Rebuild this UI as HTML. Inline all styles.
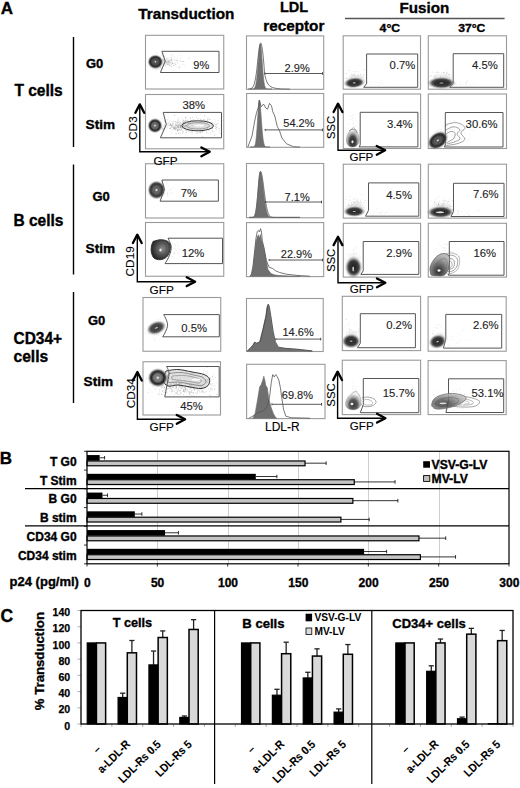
<!DOCTYPE html>
<html><head><meta charset="utf-8"><style>
html,body{margin:0;padding:0;background:#fff;}
svg{display:block;}
text{font-family:"Liberation Sans",sans-serif;}
</style></head><body>
<svg width="520" height="788" viewBox="0 0 520 788">
<rect x="0" y="0" width="520" height="788" fill="#fff"/>
<text x="0.8" y="13.9" font-size="17" font-weight="bold" text-anchor="start" fill="#000" stroke="#000" stroke-width="0.35" >A</text>
<text x="138.3" y="18.8" font-size="15.3" font-weight="bold" text-anchor="start" fill="#000" stroke="#000" stroke-width="0.35" >Transduction</text>
<text x="280" y="11.5" font-size="14.5" font-weight="bold" text-anchor="start" fill="#000" stroke="#000" stroke-width="0.35" >LDL</text>
<text x="263.2" y="31.1" font-size="15.3" font-weight="bold" text-anchor="start" fill="#000" stroke="#000" stroke-width="0.35" >receptor</text>
<text x="399.5" y="13.2" font-size="15.2" font-weight="bold" text-anchor="start" fill="#000" stroke="#000" stroke-width="0.35" >Fusion</text>
<line x1="345" y1="18.5" x2="504.6" y2="18.5" stroke="#555" stroke-width="1.5" />
<text x="379.6" y="31.7" font-size="11" font-weight="bold" text-anchor="start" fill="#000" stroke="#000" stroke-width="0.35" textLength="20.5" lengthAdjust="spacingAndGlyphs">4°C</text>
<text x="458.2" y="31.7" font-size="11" font-weight="bold" text-anchor="start" fill="#000" stroke="#000" stroke-width="0.35" textLength="27.2" lengthAdjust="spacingAndGlyphs">37°C</text>
<line x1="73.5" y1="37" x2="73.5" y2="147" stroke="#000" stroke-width="1.4" />
<line x1="73.5" y1="164.5" x2="73.5" y2="274.5" stroke="#000" stroke-width="1.4" />
<line x1="73.5" y1="292" x2="73.5" y2="403" stroke="#000" stroke-width="1.4" />
<text x="14.4" y="95.9" font-size="15.6" font-weight="bold" text-anchor="start" fill="#000" stroke="#000" stroke-width="0.35" textLength="48.3" lengthAdjust="spacingAndGlyphs">T cells</text>
<text x="86" y="68" font-size="13" font-weight="bold" text-anchor="start" fill="#000" stroke="#000" stroke-width="0.35" >G0</text>
<text x="85.6" y="129.2" font-size="13.6" font-weight="bold" text-anchor="start" fill="#000" stroke="#000" stroke-width="0.35" >Stim</text>
<text x="13.4" y="226.4" font-size="15.6" font-weight="bold" text-anchor="start" fill="#000" stroke="#000" stroke-width="0.35" textLength="50" lengthAdjust="spacingAndGlyphs">B cells</text>
<text x="92.5" y="200.75" font-size="13" font-weight="bold" text-anchor="start" fill="#000" stroke="#000" stroke-width="0.35" >G0</text>
<text x="85.6" y="253.2" font-size="13.6" font-weight="bold" text-anchor="start" fill="#000" stroke="#000" stroke-width="0.35" >Stim</text>
<text x="13.5" y="343.8" font-size="15.6" font-weight="bold" text-anchor="start" fill="#000" stroke="#000" stroke-width="0.35" textLength="48.5" lengthAdjust="spacingAndGlyphs">CD34+</text>
<text x="13.5" y="362.1" font-size="15.6" font-weight="bold" text-anchor="start" fill="#000" stroke="#000" stroke-width="0.35" >cells</text>
<text x="88" y="325" font-size="13" font-weight="bold" text-anchor="start" fill="#000" stroke="#000" stroke-width="0.35" >G0</text>
<text x="83.6" y="386.2" font-size="13.6" font-weight="bold" text-anchor="start" fill="#000" stroke="#000" stroke-width="0.35" >Stim</text>
<rect x="145.5" y="35.3" width="78.25" height="53.70" fill="none" stroke="#9a9a9a" stroke-width="1.1"/>
<rect x="145.5" y="94.5" width="78.25" height="54.30" fill="none" stroke="#9a9a9a" stroke-width="1.1"/>
<rect x="145.5" y="163.75" width="78.25" height="54.25" fill="none" stroke="#9a9a9a" stroke-width="1.1"/>
<rect x="145.5" y="222.5" width="78.25" height="53.75" fill="none" stroke="#9a9a9a" stroke-width="1.1"/>
<rect x="143" y="297.5" width="77.75" height="53.75" fill="none" stroke="#9a9a9a" stroke-width="1.1"/>
<rect x="143" y="361.75" width="77.50" height="53.25" fill="none" stroke="#9a9a9a" stroke-width="1.1"/>
<g fill="#777" fill-opacity="0.38"><circle cx="168.2" cy="63.8" r="0.46"/><circle cx="177.8" cy="63.9" r="0.39"/><circle cx="177.8" cy="63.5" r="0.31"/><circle cx="167.6" cy="62.5" r="0.32"/><circle cx="158.3" cy="65.0" r="0.33"/><circle cx="171.6" cy="66.8" r="0.54"/><circle cx="163.8" cy="60.4" r="0.54"/><circle cx="183.3" cy="64.0" r="0.37"/><circle cx="172.2" cy="63.4" r="0.38"/><circle cx="171.8" cy="60.0" r="0.45"/><circle cx="165.7" cy="59.4" r="0.44"/><circle cx="172.3" cy="62.5" r="0.35"/><circle cx="166.9" cy="58.7" r="0.38"/><circle cx="163.4" cy="60.0" r="0.37"/><circle cx="173.0" cy="56.8" r="0.36"/><circle cx="162.4" cy="60.1" r="0.52"/><circle cx="169.3" cy="59.1" r="0.55"/><circle cx="175.4" cy="64.5" r="0.49"/><circle cx="174.7" cy="65.3" r="0.31"/><circle cx="164.1" cy="56.8" r="0.44"/><circle cx="174.3" cy="59.9" r="0.47"/><circle cx="162.4" cy="59.4" r="0.41"/><circle cx="179.0" cy="54.9" r="0.42"/><circle cx="168.7" cy="60.9" r="0.48"/><circle cx="156.7" cy="53.2" r="0.51"/><circle cx="168.5" cy="65.4" r="0.47"/><circle cx="177.7" cy="62.6" r="0.34"/><circle cx="171.8" cy="62.8" r="0.49"/><circle cx="173.6" cy="63.9" r="0.40"/><circle cx="172.0" cy="61.0" r="0.41"/><circle cx="156.2" cy="59.8" r="0.50"/><circle cx="173.7" cy="59.9" r="0.40"/><circle cx="160.8" cy="67.6" r="0.54"/><circle cx="172.5" cy="63.8" r="0.36"/><circle cx="170.8" cy="66.0" r="0.45"/><circle cx="169.9" cy="62.3" r="0.40"/><circle cx="163.8" cy="65.3" r="0.54"/><circle cx="166.9" cy="58.1" r="0.45"/><circle cx="169.0" cy="61.0" r="0.52"/><circle cx="172.7" cy="55.0" r="0.50"/><circle cx="164.5" cy="64.2" r="0.33"/><circle cx="168.3" cy="61.1" r="0.32"/><circle cx="171.1" cy="64.0" r="0.39"/><circle cx="170.1" cy="62.0" r="0.34"/><circle cx="175.3" cy="64.0" r="0.31"/><circle cx="176.8" cy="58.6" r="0.34"/><circle cx="169.9" cy="65.2" r="0.39"/><circle cx="179.8" cy="66.7" r="0.55"/><circle cx="162.1" cy="62.9" r="0.32"/><circle cx="175.1" cy="63.9" r="0.37"/><circle cx="172.0" cy="60.2" r="0.31"/><circle cx="178.2" cy="60.7" r="0.34"/><circle cx="168.4" cy="61.8" r="0.43"/><circle cx="183.8" cy="61.1" r="0.47"/><circle cx="169.5" cy="65.3" r="0.34"/><circle cx="171.2" cy="57.7" r="0.49"/><circle cx="167.6" cy="64.2" r="0.50"/><circle cx="183.6" cy="61.4" r="0.50"/><circle cx="174.8" cy="56.8" r="0.36"/><circle cx="163.5" cy="61.6" r="0.31"/><circle cx="175.6" cy="62.5" r="0.36"/><circle cx="163.8" cy="53.8" r="0.41"/><circle cx="189.2" cy="58.0" r="0.54"/><circle cx="166.7" cy="63.9" r="0.36"/><circle cx="171.6" cy="64.2" r="0.46"/><circle cx="180.9" cy="58.1" r="0.42"/><circle cx="162.8" cy="56.9" r="0.32"/><circle cx="161.8" cy="55.5" r="0.50"/><circle cx="170.0" cy="58.0" r="0.34"/><circle cx="171.5" cy="58.9" r="0.50"/><circle cx="176.9" cy="61.4" r="0.40"/><circle cx="180.6" cy="60.2" r="0.34"/><circle cx="172.8" cy="63.4" r="0.53"/><circle cx="171.4" cy="60.2" r="0.51"/><circle cx="180.2" cy="61.4" r="0.39"/><circle cx="166.5" cy="61.4" r="0.30"/><circle cx="180.0" cy="61.1" r="0.43"/><circle cx="176.8" cy="60.5" r="0.52"/><circle cx="172.2" cy="59.9" r="0.36"/><circle cx="168.6" cy="64.5" r="0.45"/><circle cx="169.6" cy="65.6" r="0.33"/><circle cx="175.5" cy="60.2" r="0.41"/><circle cx="156.9" cy="58.2" r="0.41"/><circle cx="177.2" cy="60.0" r="0.43"/><circle cx="168.7" cy="61.9" r="0.41"/><circle cx="170.3" cy="62.3" r="0.50"/><circle cx="173.7" cy="65.5" r="0.48"/><circle cx="164.2" cy="60.9" r="0.43"/><circle cx="158.5" cy="59.9" r="0.33"/><circle cx="165.1" cy="61.0" r="0.37"/><circle cx="171.2" cy="57.9" r="0.44"/><circle cx="171.0" cy="54.3" r="0.41"/><circle cx="163.7" cy="59.3" r="0.43"/><circle cx="167.3" cy="58.4" r="0.43"/><circle cx="153.5" cy="63.1" r="0.47"/><circle cx="181.9" cy="56.1" r="0.36"/><circle cx="154.4" cy="58.9" r="0.51"/><circle cx="172.3" cy="63.4" r="0.41"/><circle cx="174.7" cy="63.1" r="0.32"/><circle cx="164.1" cy="56.6" r="0.52"/><circle cx="176.3" cy="66.6" r="0.47"/><circle cx="179.0" cy="67.7" r="0.54"/><circle cx="173.3" cy="70.5" r="0.40"/><circle cx="148.9" cy="62.8" r="0.51"/><circle cx="173.9" cy="65.2" r="0.43"/><circle cx="167.5" cy="64.0" r="0.38"/><circle cx="169.8" cy="61.3" r="0.44"/><circle cx="168.8" cy="62.2" r="0.38"/><circle cx="164.0" cy="59.1" r="0.32"/><circle cx="182.3" cy="61.4" r="0.54"/><circle cx="174.4" cy="63.7" r="0.31"/><circle cx="171.0" cy="59.3" r="0.33"/><circle cx="156.4" cy="65.6" r="0.50"/><circle cx="169.8" cy="64.0" r="0.53"/><circle cx="160.2" cy="59.7" r="0.32"/><circle cx="180.0" cy="63.9" r="0.41"/><circle cx="184.8" cy="65.6" r="0.46"/><circle cx="170.9" cy="60.6" r="0.51"/><circle cx="182.7" cy="64.8" r="0.41"/><circle cx="165.3" cy="65.8" r="0.53"/></g>
<defs><radialGradient id="g1"><stop offset="0" stop-color="#888" stop-opacity="0.45"/><stop offset="1" stop-color="#bbb" stop-opacity="0"/></radialGradient></defs>
<ellipse cx="166" cy="62" rx="6" ry="4" fill="url(#g1)" />
<defs><radialGradient id="g2"><stop offset="0" stop-color="#888" stop-opacity="0.55"/><stop offset="1" stop-color="#bbb" stop-opacity="0"/></radialGradient></defs>
<ellipse cx="156" cy="65" rx="7.5" ry="6.5" fill="url(#g2)" />
<defs><radialGradient id="g3"><stop offset="0" stop-color="#555" stop-opacity="0.9"/><stop offset="0.35" stop-color="#555" stop-opacity="0.9"/><stop offset="0.6" stop-color="#1a1a1a" stop-opacity="0.95"/><stop offset="0.74" stop-color="#333" stop-opacity="0.85"/><stop offset="0.88" stop-color="#888" stop-opacity="0.35"/><stop offset="1" stop-color="#aaa" stop-opacity="0"/></radialGradient></defs>
<ellipse cx="155.4" cy="61.8" rx="8.19" ry="7.54" fill="url(#g3)" />
<ellipse cx="155.4" cy="61.8" rx="3.15" ry="2.90" fill="none" stroke="#222" stroke-width="0.5" stroke-opacity="0.6" />
<ellipse cx="155.4" cy="61.8" rx="2.02" ry="1.86" fill="none" stroke="#222" stroke-width="0.5" stroke-opacity="0.6" />
<ellipse cx="155.4" cy="61.8" rx="0.82" ry="0.80" fill="#eee" fill-opacity="0.9" />
<path d="M161.90,51.30 L219.00,51.30 L219.00,72.50 L160.40,72.50 L165.20,61.20 Z" fill="none" stroke="#555" stroke-width="1.0" stroke-linejoin="round" />
<text x="193.3" y="69.2" font-size="11" font-weight="normal" text-anchor="start" fill="#222" stroke="#222" stroke-width="0.12" >9%</text>
<g fill="#666" fill-opacity="0.41"><circle cx="177.5" cy="127.4" r="0.43"/><circle cx="178.3" cy="127.2" r="0.34"/><circle cx="183.7" cy="126.4" r="0.38"/><circle cx="172.9" cy="130.6" r="0.37"/><circle cx="172.4" cy="125.8" r="0.39"/><circle cx="184.8" cy="126.1" r="0.30"/><circle cx="176.8" cy="122.0" r="0.35"/><circle cx="157.2" cy="126.9" r="0.33"/><circle cx="182.0" cy="122.9" r="0.42"/><circle cx="182.6" cy="123.2" r="0.43"/><circle cx="168.2" cy="117.9" r="0.39"/><circle cx="185.0" cy="121.7" r="0.46"/><circle cx="171.1" cy="127.4" r="0.31"/><circle cx="180.4" cy="126.6" r="0.49"/><circle cx="177.8" cy="127.6" r="0.32"/><circle cx="187.9" cy="120.7" r="0.47"/><circle cx="176.7" cy="128.0" r="0.37"/><circle cx="172.9" cy="126.2" r="0.41"/><circle cx="176.1" cy="133.4" r="0.54"/><circle cx="171.6" cy="125.1" r="0.54"/><circle cx="174.9" cy="128.4" r="0.30"/><circle cx="170.5" cy="128.1" r="0.43"/><circle cx="181.2" cy="129.2" r="0.30"/><circle cx="177.7" cy="127.1" r="0.40"/><circle cx="179.9" cy="126.0" r="0.38"/><circle cx="179.3" cy="129.8" r="0.43"/><circle cx="178.0" cy="121.4" r="0.48"/><circle cx="184.5" cy="123.7" r="0.38"/><circle cx="183.1" cy="125.6" r="0.48"/><circle cx="176.3" cy="125.1" r="0.51"/><circle cx="187.8" cy="123.2" r="0.48"/><circle cx="179.9" cy="124.3" r="0.43"/><circle cx="160.9" cy="125.6" r="0.50"/><circle cx="183.5" cy="122.3" r="0.52"/><circle cx="172.3" cy="121.6" r="0.36"/><circle cx="182.7" cy="126.1" r="0.39"/><circle cx="191.5" cy="129.3" r="0.44"/><circle cx="169.2" cy="122.8" r="0.47"/><circle cx="177.3" cy="125.8" r="0.50"/><circle cx="177.9" cy="122.3" r="0.43"/><circle cx="176.2" cy="124.9" r="0.48"/><circle cx="178.0" cy="127.0" r="0.37"/><circle cx="177.2" cy="123.8" r="0.48"/><circle cx="188.4" cy="125.3" r="0.40"/><circle cx="164.5" cy="126.4" r="0.49"/><circle cx="168.4" cy="122.9" r="0.32"/><circle cx="182.1" cy="127.6" r="0.49"/><circle cx="174.1" cy="129.5" r="0.30"/><circle cx="184.6" cy="126.7" r="0.47"/><circle cx="173.2" cy="121.6" r="0.37"/><circle cx="168.0" cy="125.5" r="0.42"/><circle cx="192.0" cy="130.1" r="0.35"/><circle cx="198.9" cy="124.8" r="0.30"/><circle cx="161.9" cy="127.2" r="0.54"/><circle cx="171.2" cy="126.5" r="0.35"/><circle cx="183.8" cy="125.1" r="0.45"/><circle cx="184.9" cy="128.6" r="0.54"/><circle cx="189.2" cy="129.9" r="0.43"/><circle cx="188.6" cy="122.7" r="0.36"/><circle cx="186.3" cy="123.7" r="0.31"/><circle cx="188.5" cy="125.9" r="0.41"/><circle cx="176.4" cy="127.4" r="0.39"/><circle cx="171.0" cy="131.1" r="0.30"/><circle cx="178.1" cy="120.1" r="0.33"/><circle cx="190.7" cy="123.7" r="0.53"/><circle cx="175.8" cy="128.6" r="0.40"/><circle cx="190.0" cy="125.8" r="0.39"/><circle cx="171.5" cy="126.9" r="0.31"/><circle cx="191.7" cy="129.2" r="0.37"/><circle cx="184.3" cy="124.9" r="0.37"/><circle cx="172.2" cy="125.7" r="0.39"/><circle cx="196.0" cy="124.1" r="0.50"/><circle cx="164.5" cy="120.9" r="0.54"/><circle cx="164.3" cy="124.3" r="0.31"/><circle cx="176.9" cy="122.5" r="0.49"/><circle cx="173.5" cy="123.9" r="0.31"/><circle cx="182.2" cy="125.1" r="0.42"/><circle cx="173.8" cy="127.9" r="0.48"/><circle cx="184.9" cy="125.5" r="0.46"/><circle cx="174.4" cy="129.4" r="0.40"/><circle cx="180.7" cy="127.3" r="0.35"/><circle cx="186.8" cy="123.8" r="0.36"/><circle cx="203.2" cy="120.2" r="0.41"/><circle cx="181.8" cy="127.3" r="0.32"/><circle cx="175.9" cy="126.9" r="0.36"/><circle cx="177.4" cy="129.7" r="0.52"/><circle cx="178.0" cy="122.7" r="0.40"/><circle cx="169.3" cy="125.4" r="0.38"/><circle cx="184.7" cy="126.7" r="0.54"/><circle cx="185.5" cy="128.3" r="0.46"/><circle cx="182.1" cy="124.2" r="0.37"/><circle cx="178.1" cy="128.8" r="0.41"/><circle cx="194.8" cy="124.1" r="0.52"/><circle cx="180.3" cy="125.9" r="0.48"/><circle cx="186.1" cy="123.7" r="0.45"/><circle cx="187.0" cy="125.8" r="0.53"/><circle cx="186.1" cy="120.6" r="0.54"/><circle cx="178.0" cy="127.2" r="0.34"/><circle cx="164.5" cy="125.2" r="0.54"/><circle cx="175.7" cy="121.5" r="0.49"/><circle cx="167.0" cy="126.8" r="0.31"/><circle cx="179.3" cy="123.7" r="0.53"/><circle cx="173.3" cy="123.8" r="0.33"/><circle cx="177.9" cy="130.1" r="0.47"/><circle cx="180.6" cy="126.5" r="0.43"/><circle cx="170.3" cy="124.3" r="0.36"/><circle cx="176.9" cy="125.5" r="0.38"/><circle cx="155.9" cy="127.7" r="0.46"/><circle cx="185.6" cy="123.5" r="0.36"/><circle cx="178.4" cy="133.4" r="0.48"/><circle cx="177.3" cy="126.4" r="0.42"/><circle cx="173.7" cy="123.0" r="0.36"/><circle cx="167.8" cy="119.9" r="0.36"/><circle cx="186.0" cy="126.4" r="0.41"/><circle cx="175.5" cy="124.0" r="0.50"/><circle cx="177.3" cy="122.3" r="0.35"/><circle cx="185.6" cy="125.3" r="0.51"/><circle cx="178.8" cy="127.9" r="0.49"/><circle cx="171.8" cy="132.9" r="0.42"/><circle cx="180.5" cy="127.8" r="0.40"/><circle cx="166.9" cy="119.5" r="0.34"/><circle cx="173.1" cy="127.1" r="0.54"/><circle cx="179.8" cy="126.6" r="0.32"/><circle cx="162.9" cy="129.8" r="0.52"/><circle cx="174.6" cy="115.5" r="0.53"/><circle cx="175.2" cy="127.5" r="0.53"/><circle cx="177.9" cy="125.0" r="0.47"/><circle cx="171.7" cy="127.8" r="0.38"/><circle cx="178.3" cy="126.0" r="0.37"/><circle cx="164.6" cy="131.8" r="0.33"/><circle cx="184.0" cy="125.3" r="0.39"/><circle cx="185.3" cy="120.8" r="0.41"/><circle cx="187.7" cy="126.8" r="0.39"/><circle cx="183.2" cy="124.8" r="0.39"/><circle cx="179.8" cy="125.4" r="0.40"/><circle cx="183.8" cy="121.1" r="0.31"/><circle cx="181.2" cy="126.0" r="0.53"/><circle cx="177.3" cy="130.8" r="0.52"/><circle cx="174.2" cy="127.8" r="0.54"/><circle cx="172.8" cy="124.2" r="0.48"/><circle cx="175.1" cy="128.0" r="0.30"/><circle cx="178.7" cy="119.1" r="0.46"/><circle cx="179.9" cy="125.6" r="0.36"/><circle cx="155.7" cy="127.0" r="0.54"/><circle cx="172.8" cy="127.3" r="0.41"/><circle cx="157.4" cy="126.1" r="0.35"/><circle cx="182.8" cy="121.2" r="0.51"/><circle cx="179.8" cy="121.7" r="0.38"/><circle cx="174.4" cy="128.4" r="0.50"/><circle cx="183.2" cy="126.7" r="0.49"/><circle cx="178.1" cy="126.9" r="0.31"/><circle cx="170.4" cy="124.9" r="0.55"/><circle cx="197.9" cy="119.8" r="0.37"/><circle cx="181.5" cy="126.5" r="0.42"/><circle cx="175.6" cy="122.6" r="0.36"/><circle cx="167.1" cy="127.9" r="0.47"/><circle cx="177.8" cy="120.0" r="0.47"/><circle cx="190.5" cy="129.8" r="0.37"/><circle cx="170.1" cy="124.6" r="0.48"/><circle cx="180.1" cy="127.9" r="0.36"/><circle cx="188.7" cy="130.9" r="0.44"/><circle cx="173.8" cy="128.5" r="0.55"/><circle cx="171.5" cy="125.7" r="0.50"/><circle cx="162.2" cy="118.2" r="0.33"/><circle cx="161.6" cy="126.7" r="0.51"/><circle cx="180.2" cy="125.4" r="0.37"/><circle cx="182.3" cy="127.1" r="0.54"/><circle cx="160.0" cy="122.3" r="0.39"/><circle cx="184.6" cy="123.4" r="0.36"/><circle cx="181.8" cy="118.7" r="0.33"/><circle cx="167.7" cy="123.4" r="0.35"/><circle cx="174.6" cy="127.0" r="0.35"/><circle cx="177.6" cy="129.9" r="0.46"/><circle cx="178.4" cy="126.2" r="0.38"/><circle cx="175.5" cy="124.1" r="0.38"/><circle cx="182.6" cy="130.9" r="0.44"/><circle cx="181.8" cy="126.3" r="0.40"/><circle cx="165.8" cy="124.5" r="0.32"/><circle cx="185.2" cy="129.8" r="0.40"/><circle cx="176.4" cy="128.3" r="0.54"/><circle cx="173.6" cy="129.4" r="0.39"/><circle cx="162.4" cy="128.8" r="0.55"/><circle cx="174.1" cy="127.3" r="0.48"/><circle cx="178.3" cy="126.1" r="0.53"/><circle cx="163.2" cy="128.4" r="0.40"/><circle cx="185.4" cy="123.6" r="0.34"/><circle cx="189.3" cy="126.2" r="0.46"/><circle cx="181.3" cy="125.1" r="0.46"/><circle cx="170.7" cy="128.4" r="0.34"/><circle cx="175.7" cy="129.4" r="0.53"/><circle cx="186.1" cy="128.0" r="0.50"/><circle cx="183.8" cy="125.4" r="0.33"/><circle cx="201.0" cy="122.9" r="0.42"/><circle cx="197.4" cy="128.1" r="0.40"/><circle cx="188.3" cy="123.4" r="0.51"/><circle cx="186.4" cy="130.3" r="0.36"/><circle cx="163.6" cy="129.1" r="0.51"/><circle cx="180.6" cy="127.7" r="0.40"/><circle cx="169.2" cy="125.5" r="0.33"/><circle cx="178.3" cy="130.6" r="0.52"/><circle cx="189.2" cy="126.8" r="0.49"/><circle cx="194.7" cy="127.2" r="0.33"/><circle cx="168.8" cy="123.6" r="0.46"/><circle cx="174.8" cy="128.7" r="0.45"/><circle cx="166.2" cy="127.8" r="0.41"/><circle cx="176.2" cy="126.0" r="0.45"/><circle cx="171.4" cy="125.9" r="0.49"/><circle cx="179.9" cy="122.5" r="0.34"/><circle cx="173.8" cy="126.0" r="0.33"/><circle cx="174.4" cy="126.4" r="0.41"/><circle cx="175.4" cy="125.7" r="0.46"/><circle cx="190.7" cy="128.2" r="0.49"/><circle cx="175.0" cy="125.7" r="0.43"/><circle cx="162.1" cy="130.9" r="0.33"/><circle cx="196.7" cy="118.0" r="0.48"/><circle cx="180.3" cy="124.0" r="0.55"/><circle cx="155.5" cy="126.2" r="0.53"/><circle cx="186.1" cy="130.4" r="0.53"/><circle cx="185.7" cy="126.9" r="0.49"/><circle cx="188.4" cy="131.2" r="0.37"/><circle cx="180.0" cy="124.3" r="0.43"/><circle cx="183.4" cy="124.8" r="0.37"/><circle cx="170.1" cy="125.7" r="0.31"/><circle cx="180.2" cy="127.4" r="0.53"/><circle cx="169.8" cy="120.0" r="0.34"/><circle cx="179.0" cy="124.4" r="0.43"/><circle cx="172.4" cy="123.7" r="0.52"/><circle cx="166.8" cy="124.5" r="0.52"/><circle cx="200.4" cy="131.6" r="0.46"/><circle cx="165.3" cy="129.1" r="0.37"/><circle cx="189.8" cy="125.6" r="0.39"/><circle cx="178.9" cy="122.6" r="0.34"/><circle cx="177.9" cy="124.9" r="0.50"/><circle cx="177.7" cy="130.1" r="0.55"/><circle cx="166.6" cy="123.5" r="0.38"/><circle cx="180.4" cy="125.8" r="0.34"/><circle cx="170.9" cy="123.7" r="0.43"/><circle cx="181.8" cy="124.8" r="0.36"/><circle cx="176.9" cy="125.3" r="0.30"/><circle cx="175.4" cy="126.9" r="0.39"/><circle cx="179.9" cy="129.7" r="0.45"/><circle cx="181.6" cy="129.8" r="0.42"/><circle cx="192.0" cy="131.1" r="0.36"/><circle cx="180.4" cy="126.9" r="0.46"/><circle cx="188.8" cy="122.0" r="0.40"/><circle cx="177.9" cy="126.3" r="0.46"/><circle cx="170.3" cy="124.7" r="0.46"/><circle cx="158.1" cy="128.2" r="0.48"/><circle cx="178.2" cy="132.3" r="0.31"/><circle cx="169.0" cy="125.2" r="0.36"/><circle cx="192.6" cy="127.7" r="0.30"/><circle cx="157.7" cy="123.6" r="0.34"/><circle cx="181.8" cy="129.7" r="0.43"/><circle cx="167.6" cy="121.5" r="0.34"/><circle cx="175.2" cy="128.2" r="0.31"/><circle cx="190.1" cy="122.4" r="0.48"/><circle cx="195.3" cy="126.0" r="0.49"/><circle cx="163.5" cy="126.9" r="0.41"/><circle cx="178.6" cy="127.2" r="0.36"/><circle cx="185.9" cy="126.5" r="0.49"/></g>
<g fill="#555" fill-opacity="0.41"><circle cx="190.2" cy="118.2" r="0.48"/><circle cx="196.5" cy="131.1" r="0.41"/><circle cx="201.5" cy="120.8" r="0.37"/><circle cx="178.5" cy="117.3" r="0.35"/><circle cx="199.5" cy="125.3" r="0.37"/><circle cx="199.7" cy="132.7" r="0.54"/><circle cx="197.7" cy="122.1" r="0.52"/><circle cx="193.8" cy="128.5" r="0.53"/><circle cx="185.4" cy="121.1" r="0.47"/><circle cx="211.4" cy="125.2" r="0.51"/><circle cx="190.3" cy="118.0" r="0.41"/><circle cx="195.5" cy="120.4" r="0.38"/><circle cx="202.0" cy="131.5" r="0.32"/><circle cx="203.7" cy="124.6" r="0.31"/><circle cx="219.6" cy="131.8" r="0.39"/><circle cx="199.8" cy="126.6" r="0.31"/><circle cx="192.0" cy="120.2" r="0.47"/><circle cx="197.6" cy="124.3" r="0.45"/><circle cx="183.5" cy="131.7" r="0.50"/><circle cx="201.4" cy="124.8" r="0.52"/><circle cx="222.8" cy="120.6" r="0.33"/><circle cx="199.6" cy="127.8" r="0.31"/><circle cx="210.6" cy="119.5" r="0.46"/><circle cx="205.7" cy="120.5" r="0.37"/><circle cx="202.4" cy="126.9" r="0.49"/><circle cx="200.9" cy="129.3" r="0.41"/><circle cx="207.2" cy="126.2" r="0.37"/><circle cx="195.5" cy="121.9" r="0.38"/><circle cx="211.8" cy="124.7" r="0.51"/><circle cx="195.8" cy="125.1" r="0.40"/><circle cx="179.0" cy="128.6" r="0.39"/><circle cx="193.8" cy="120.8" r="0.35"/><circle cx="201.4" cy="124.4" r="0.50"/><circle cx="198.3" cy="126.0" r="0.35"/><circle cx="200.5" cy="114.2" r="0.30"/><circle cx="184.1" cy="126.1" r="0.50"/><circle cx="203.6" cy="130.3" r="0.39"/><circle cx="202.6" cy="123.0" r="0.54"/><circle cx="196.2" cy="128.7" r="0.47"/><circle cx="192.2" cy="125.8" r="0.46"/><circle cx="216.5" cy="129.4" r="0.47"/><circle cx="201.9" cy="120.1" r="0.39"/><circle cx="188.2" cy="128.2" r="0.52"/><circle cx="219.5" cy="130.3" r="0.31"/><circle cx="200.6" cy="129.0" r="0.53"/><circle cx="186.3" cy="125.8" r="0.52"/><circle cx="199.4" cy="130.4" r="0.43"/><circle cx="198.6" cy="118.8" r="0.46"/><circle cx="191.8" cy="128.8" r="0.34"/><circle cx="207.8" cy="120.6" r="0.49"/><circle cx="204.2" cy="129.7" r="0.49"/><circle cx="192.5" cy="124.8" r="0.42"/><circle cx="204.6" cy="123.8" r="0.35"/><circle cx="192.1" cy="132.0" r="0.51"/><circle cx="201.9" cy="127.8" r="0.36"/><circle cx="191.3" cy="130.3" r="0.34"/><circle cx="194.3" cy="128.2" r="0.54"/><circle cx="197.3" cy="123.9" r="0.54"/><circle cx="207.5" cy="128.3" r="0.55"/><circle cx="203.4" cy="119.2" r="0.41"/><circle cx="203.7" cy="131.4" r="0.33"/><circle cx="201.2" cy="129.8" r="0.31"/><circle cx="180.9" cy="130.2" r="0.47"/><circle cx="181.0" cy="125.8" r="0.42"/><circle cx="208.3" cy="130.2" r="0.40"/><circle cx="196.5" cy="116.6" r="0.41"/><circle cx="180.2" cy="122.7" r="0.41"/><circle cx="200.6" cy="132.5" r="0.52"/><circle cx="200.8" cy="119.4" r="0.51"/><circle cx="190.6" cy="120.4" r="0.41"/><circle cx="191.5" cy="131.3" r="0.32"/><circle cx="179.7" cy="129.4" r="0.48"/><circle cx="191.8" cy="123.5" r="0.41"/><circle cx="181.9" cy="127.4" r="0.40"/><circle cx="185.5" cy="117.2" r="0.35"/><circle cx="186.2" cy="119.8" r="0.40"/><circle cx="165.5" cy="126.5" r="0.31"/><circle cx="191.2" cy="125.1" r="0.50"/><circle cx="211.5" cy="123.9" r="0.33"/><circle cx="184.6" cy="123.4" r="0.48"/><circle cx="180.9" cy="125.3" r="0.51"/><circle cx="185.8" cy="125.2" r="0.54"/><circle cx="202.5" cy="132.0" r="0.40"/><circle cx="198.5" cy="123.7" r="0.55"/><circle cx="195.5" cy="126.9" r="0.37"/><circle cx="196.4" cy="126.2" r="0.40"/><circle cx="181.7" cy="128.9" r="0.39"/><circle cx="197.2" cy="128.8" r="0.49"/><circle cx="211.7" cy="123.9" r="0.35"/><circle cx="201.8" cy="121.8" r="0.35"/><circle cx="212.3" cy="131.1" r="0.50"/><circle cx="189.0" cy="122.3" r="0.44"/><circle cx="202.6" cy="136.5" r="0.39"/><circle cx="183.7" cy="119.9" r="0.50"/><circle cx="188.2" cy="126.5" r="0.44"/><circle cx="214.1" cy="131.4" r="0.39"/><circle cx="203.6" cy="123.1" r="0.39"/><circle cx="197.7" cy="130.2" r="0.35"/><circle cx="217.2" cy="125.9" r="0.37"/><circle cx="198.3" cy="129.4" r="0.42"/><circle cx="182.6" cy="128.4" r="0.46"/><circle cx="180.1" cy="133.1" r="0.51"/><circle cx="219.1" cy="128.6" r="0.53"/><circle cx="199.4" cy="123.5" r="0.51"/><circle cx="196.6" cy="125.3" r="0.30"/><circle cx="214.7" cy="124.0" r="0.36"/><circle cx="203.4" cy="127.2" r="0.36"/><circle cx="199.8" cy="122.0" r="0.34"/><circle cx="215.5" cy="121.6" r="0.34"/><circle cx="210.7" cy="122.2" r="0.50"/><circle cx="185.5" cy="118.0" r="0.50"/><circle cx="202.2" cy="123.4" r="0.47"/><circle cx="178.6" cy="124.5" r="0.41"/><circle cx="209.3" cy="122.2" r="0.37"/><circle cx="198.7" cy="128.1" r="0.42"/><circle cx="210.6" cy="127.5" r="0.34"/><circle cx="183.9" cy="126.1" r="0.43"/><circle cx="198.9" cy="125.4" r="0.51"/><circle cx="182.9" cy="126.9" r="0.47"/><circle cx="204.3" cy="122.4" r="0.40"/><circle cx="202.6" cy="125.4" r="0.46"/><circle cx="196.1" cy="125.0" r="0.45"/><circle cx="186.6" cy="116.9" r="0.38"/><circle cx="212.3" cy="125.2" r="0.42"/><circle cx="200.5" cy="125.1" r="0.48"/><circle cx="190.3" cy="123.1" r="0.52"/><circle cx="188.9" cy="129.4" r="0.43"/><circle cx="199.1" cy="122.9" r="0.41"/><circle cx="184.5" cy="128.3" r="0.51"/><circle cx="192.0" cy="133.4" r="0.40"/><circle cx="188.4" cy="125.7" r="0.43"/><circle cx="215.3" cy="124.8" r="0.50"/><circle cx="192.9" cy="129.0" r="0.37"/><circle cx="183.4" cy="122.7" r="0.50"/><circle cx="216.6" cy="127.5" r="0.52"/><circle cx="194.3" cy="125.4" r="0.38"/><circle cx="205.8" cy="125.9" r="0.53"/><circle cx="184.4" cy="121.9" r="0.50"/><circle cx="211.9" cy="122.7" r="0.45"/><circle cx="185.0" cy="121.2" r="0.45"/><circle cx="194.5" cy="123.2" r="0.47"/><circle cx="178.4" cy="127.7" r="0.33"/><circle cx="199.4" cy="126.8" r="0.49"/><circle cx="213.0" cy="122.6" r="0.39"/><circle cx="207.3" cy="119.2" r="0.44"/><circle cx="197.5" cy="129.4" r="0.41"/><circle cx="192.7" cy="129.9" r="0.46"/><circle cx="201.7" cy="125.2" r="0.44"/><circle cx="203.9" cy="126.3" r="0.50"/><circle cx="174.1" cy="121.5" r="0.41"/><circle cx="209.8" cy="126.2" r="0.45"/><circle cx="185.8" cy="126.5" r="0.33"/><circle cx="192.9" cy="123.5" r="0.34"/><circle cx="199.2" cy="125.8" r="0.47"/><circle cx="220.6" cy="133.4" r="0.32"/><circle cx="202.3" cy="124.2" r="0.30"/><circle cx="196.3" cy="122.7" r="0.48"/><circle cx="199.5" cy="127.0" r="0.49"/><circle cx="192.6" cy="117.8" r="0.48"/><circle cx="212.6" cy="128.8" r="0.48"/><circle cx="171.0" cy="128.2" r="0.36"/><circle cx="216.6" cy="124.3" r="0.30"/><circle cx="215.3" cy="126.4" r="0.50"/><circle cx="207.1" cy="127.5" r="0.48"/><circle cx="210.0" cy="133.0" r="0.42"/><circle cx="208.7" cy="127.3" r="0.44"/><circle cx="181.3" cy="128.2" r="0.34"/><circle cx="201.3" cy="122.0" r="0.46"/><circle cx="189.4" cy="122.6" r="0.40"/><circle cx="204.5" cy="115.9" r="0.50"/><circle cx="188.9" cy="124.4" r="0.32"/><circle cx="216.5" cy="124.7" r="0.51"/><circle cx="189.9" cy="130.8" r="0.54"/><circle cx="206.0" cy="120.8" r="0.38"/><circle cx="175.4" cy="129.6" r="0.39"/><circle cx="191.5" cy="120.6" r="0.52"/><circle cx="201.5" cy="122.6" r="0.30"/><circle cx="197.0" cy="130.2" r="0.45"/><circle cx="208.1" cy="117.8" r="0.31"/><circle cx="209.0" cy="119.2" r="0.52"/><circle cx="189.4" cy="124.3" r="0.51"/><circle cx="204.4" cy="119.8" r="0.53"/><circle cx="195.1" cy="127.3" r="0.44"/><circle cx="200.4" cy="123.1" r="0.49"/><circle cx="206.0" cy="124.5" r="0.45"/><circle cx="192.1" cy="121.6" r="0.35"/><circle cx="197.4" cy="132.8" r="0.50"/><circle cx="193.0" cy="126.3" r="0.50"/><circle cx="199.2" cy="122.8" r="0.44"/><circle cx="217.9" cy="120.5" r="0.43"/><circle cx="182.2" cy="126.6" r="0.35"/><circle cx="200.7" cy="128.3" r="0.48"/><circle cx="187.9" cy="129.9" r="0.40"/><circle cx="191.2" cy="125.5" r="0.31"/><circle cx="209.6" cy="125.7" r="0.33"/><circle cx="183.8" cy="120.3" r="0.34"/><circle cx="189.0" cy="123.6" r="0.43"/><circle cx="201.1" cy="125.9" r="0.55"/><circle cx="207.2" cy="122.2" r="0.44"/><circle cx="196.5" cy="133.1" r="0.41"/><circle cx="217.3" cy="123.4" r="0.50"/><circle cx="206.9" cy="125.1" r="0.31"/><circle cx="200.3" cy="128.3" r="0.32"/><circle cx="212.5" cy="127.5" r="0.52"/><circle cx="169.9" cy="128.4" r="0.53"/><circle cx="212.9" cy="128.0" r="0.40"/><circle cx="220.1" cy="133.1" r="0.36"/><circle cx="182.2" cy="123.4" r="0.54"/><circle cx="192.2" cy="122.1" r="0.41"/><circle cx="214.7" cy="135.0" r="0.55"/><circle cx="198.6" cy="127.0" r="0.36"/><circle cx="182.5" cy="133.1" r="0.53"/><circle cx="199.9" cy="124.7" r="0.50"/><circle cx="193.7" cy="119.9" r="0.55"/><circle cx="204.3" cy="126.6" r="0.49"/><circle cx="214.7" cy="123.5" r="0.37"/><circle cx="181.0" cy="122.0" r="0.33"/><circle cx="193.9" cy="128.7" r="0.33"/><circle cx="190.8" cy="126.1" r="0.36"/><circle cx="209.2" cy="130.7" r="0.30"/><circle cx="196.4" cy="123.1" r="0.31"/><circle cx="205.6" cy="124.5" r="0.53"/><circle cx="214.8" cy="119.3" r="0.33"/><circle cx="192.9" cy="126.4" r="0.53"/><circle cx="207.2" cy="120.9" r="0.41"/><circle cx="186.1" cy="132.4" r="0.42"/><circle cx="193.4" cy="124.1" r="0.36"/><circle cx="215.8" cy="128.1" r="0.44"/><circle cx="212.9" cy="132.5" r="0.37"/><circle cx="192.1" cy="127.1" r="0.37"/><circle cx="203.8" cy="122.6" r="0.34"/><circle cx="187.5" cy="126.0" r="0.53"/><circle cx="221.9" cy="128.9" r="0.47"/><circle cx="201.3" cy="130.4" r="0.37"/><circle cx="197.6" cy="128.6" r="0.39"/><circle cx="202.8" cy="124.9" r="0.37"/><circle cx="201.3" cy="124.9" r="0.48"/><circle cx="189.0" cy="137.0" r="0.30"/><circle cx="201.8" cy="122.2" r="0.34"/><circle cx="220.7" cy="125.9" r="0.43"/><circle cx="203.0" cy="129.9" r="0.53"/><circle cx="201.1" cy="131.2" r="0.33"/><circle cx="206.8" cy="132.3" r="0.48"/><circle cx="199.6" cy="127.4" r="0.32"/><circle cx="187.1" cy="122.7" r="0.37"/><circle cx="202.5" cy="131.4" r="0.48"/><circle cx="204.0" cy="120.7" r="0.35"/><circle cx="215.9" cy="128.5" r="0.40"/><circle cx="197.3" cy="124.4" r="0.50"/><circle cx="186.2" cy="132.7" r="0.52"/><circle cx="195.9" cy="125.8" r="0.53"/><circle cx="173.9" cy="127.0" r="0.37"/><circle cx="206.9" cy="133.1" r="0.39"/><circle cx="204.0" cy="129.3" r="0.45"/><circle cx="212.5" cy="125.9" r="0.41"/><circle cx="191.9" cy="125.6" r="0.48"/><circle cx="207.8" cy="118.1" r="0.38"/></g>
<ellipse cx="197.7" cy="125.8" rx="15.8" ry="5" fill="#ccc" fill-opacity="0.45" stroke="#3a3a3a" stroke-width="1.0"/>
<ellipse cx="198" cy="125.8" rx="11.5" ry="3.2" fill="#ddd" fill-opacity="0.7" stroke="#777" stroke-width="0.6"/>
<ellipse cx="199" cy="125.6" rx="5" ry="1.0" fill="#fff" fill-opacity="0.9"/>
<defs><radialGradient id="g4"><stop offset="0" stop-color="#777" stop-opacity="0.9"/><stop offset="0.35" stop-color="#777" stop-opacity="0.9"/><stop offset="0.6" stop-color="#1a1a1a" stop-opacity="0.95"/><stop offset="0.74" stop-color="#333" stop-opacity="0.85"/><stop offset="0.88" stop-color="#888" stop-opacity="0.35"/><stop offset="1" stop-color="#aaa" stop-opacity="0"/></radialGradient></defs>
<ellipse cx="155" cy="125.6" rx="7.80" ry="7.80" fill="url(#g4)" />
<ellipse cx="155" cy="125.6" rx="3.00" ry="3.00" fill="none" stroke="#222" stroke-width="0.5" stroke-opacity="0.6" />
<ellipse cx="155" cy="125.6" rx="1.92" ry="1.92" fill="none" stroke="#222" stroke-width="0.5" stroke-opacity="0.6" />
<ellipse cx="155" cy="125.6" rx="0.80" ry="0.80" fill="#eee" fill-opacity="0.9" />
<path d="M163.20,112.40 L221.50,112.40 L221.50,137.80 L160.40,137.80 L166.30,124.50 Z" fill="none" stroke="#555" stroke-width="1.0" stroke-linejoin="round" />
<text x="182.5" y="109" font-size="11.3" font-weight="normal" text-anchor="start" fill="#222" stroke="#222" stroke-width="0.12" >38%</text>
<path d="M139.8,105.35000000000001 L139.8,151.8 L208.75,151.8" fill="none" stroke="#000" stroke-width="1.4"/>
<path d="M135.4,112.75000000000001 L139.8,104.35000000000001 L144.20000000000002,112.75000000000001" fill="none" stroke="#000" stroke-width="2.3" stroke-linejoin="round" stroke-linecap="round"/>
<path d="M201.35,147.4 L209.75,151.8 L201.35,156.20000000000002" fill="none" stroke="#000" stroke-width="2.3" stroke-linejoin="round" stroke-linecap="round"/>
<text x="137.3" y="139.9" font-size="11.8" font-weight="normal" text-anchor="start" fill="#000" stroke="#000" stroke-width="0.12" transform="rotate(-90 137.3 139.9)">CD3</text>
<text x="153.4" y="164.9" font-size="11.8" font-weight="normal" text-anchor="start" fill="#000" stroke="#000" stroke-width="0.12" >GFP</text>
<g fill="#888" fill-opacity="0.30"><circle cx="163.1" cy="186.7" r="0.49"/><circle cx="171.5" cy="192.7" r="0.54"/><circle cx="159.2" cy="190.1" r="0.43"/><circle cx="163.2" cy="189.8" r="0.54"/><circle cx="164.4" cy="192.2" r="0.33"/><circle cx="164.0" cy="196.5" r="0.31"/><circle cx="169.1" cy="193.1" r="0.35"/><circle cx="169.4" cy="190.5" r="0.44"/><circle cx="157.8" cy="189.2" r="0.33"/><circle cx="168.3" cy="185.9" r="0.31"/><circle cx="167.3" cy="192.9" r="0.43"/><circle cx="163.6" cy="191.8" r="0.40"/><circle cx="167.5" cy="193.6" r="0.52"/><circle cx="167.1" cy="193.6" r="0.49"/><circle cx="167.8" cy="195.6" r="0.53"/><circle cx="160.8" cy="192.4" r="0.51"/><circle cx="160.0" cy="189.4" r="0.54"/><circle cx="164.6" cy="186.9" r="0.36"/><circle cx="161.8" cy="193.2" r="0.55"/><circle cx="167.0" cy="182.7" r="0.50"/><circle cx="164.8" cy="189.1" r="0.43"/><circle cx="173.0" cy="187.9" r="0.36"/><circle cx="159.0" cy="192.3" r="0.39"/><circle cx="162.5" cy="189.7" r="0.41"/><circle cx="163.2" cy="190.0" r="0.33"/><circle cx="170.8" cy="188.9" r="0.53"/><circle cx="159.1" cy="185.3" r="0.52"/><circle cx="164.8" cy="189.4" r="0.46"/><circle cx="163.4" cy="195.2" r="0.37"/><circle cx="155.2" cy="187.9" r="0.46"/></g>
<defs><radialGradient id="g5"><stop offset="0" stop-color="#666" stop-opacity="0.9"/><stop offset="0.35" stop-color="#666" stop-opacity="0.9"/><stop offset="0.6" stop-color="#2a2a2a" stop-opacity="0.95"/><stop offset="0.74" stop-color="#333" stop-opacity="0.85"/><stop offset="0.88" stop-color="#888" stop-opacity="0.35"/><stop offset="1" stop-color="#aaa" stop-opacity="0"/></radialGradient></defs>
<ellipse cx="156.5" cy="190" rx="9.27" ry="9.76" fill="url(#g5)" />
<ellipse cx="156.5" cy="190" rx="3.80" ry="4.00" fill="none" stroke="#222" stroke-width="0.5" stroke-opacity="0.6" />
<ellipse cx="156.5" cy="190" rx="2.43" ry="2.56" fill="none" stroke="#222" stroke-width="0.5" stroke-opacity="0.6" />
<ellipse cx="156.5" cy="190" rx="0.99" ry="1.04" fill="#eee" fill-opacity="0.9" />
<path d="M161.90,180.00 L218.40,180.00 L218.40,201.20 L160.10,201.20 L164.40,189.50 Z" fill="none" stroke="#555" stroke-width="1.0" stroke-linejoin="round" />
<text x="180.8" y="197" font-size="11.3" font-weight="normal" text-anchor="start" fill="#222" stroke="#222" stroke-width="0.12" >7%</text>
<g fill="#888" fill-opacity="0.30"><circle cx="172.0" cy="256.1" r="0.41"/><circle cx="175.9" cy="248.7" r="0.38"/><circle cx="170.5" cy="248.0" r="0.45"/><circle cx="177.8" cy="248.4" r="0.37"/><circle cx="166.0" cy="251.3" r="0.34"/><circle cx="173.9" cy="251.9" r="0.37"/><circle cx="168.6" cy="252.3" r="0.36"/><circle cx="177.4" cy="253.3" r="0.51"/><circle cx="167.0" cy="245.9" r="0.46"/><circle cx="174.4" cy="257.5" r="0.42"/><circle cx="165.4" cy="248.0" r="0.42"/><circle cx="170.6" cy="253.5" r="0.36"/><circle cx="167.1" cy="249.6" r="0.45"/><circle cx="176.7" cy="250.3" r="0.52"/><circle cx="172.5" cy="256.4" r="0.42"/><circle cx="168.8" cy="264.5" r="0.37"/><circle cx="172.4" cy="247.1" r="0.32"/><circle cx="175.7" cy="246.1" r="0.32"/><circle cx="167.9" cy="253.5" r="0.48"/><circle cx="174.8" cy="252.3" r="0.54"/><circle cx="171.8" cy="247.1" r="0.38"/><circle cx="167.5" cy="256.0" r="0.45"/><circle cx="177.5" cy="242.5" r="0.43"/><circle cx="171.4" cy="241.8" r="0.49"/><circle cx="163.3" cy="251.4" r="0.48"/><circle cx="174.2" cy="248.7" r="0.52"/><circle cx="180.5" cy="250.2" r="0.45"/><circle cx="159.2" cy="250.2" r="0.44"/><circle cx="164.4" cy="254.3" r="0.52"/><circle cx="168.2" cy="246.9" r="0.41"/><circle cx="164.3" cy="252.1" r="0.37"/><circle cx="167.1" cy="254.0" r="0.40"/><circle cx="168.2" cy="257.9" r="0.51"/><circle cx="166.6" cy="250.0" r="0.35"/><circle cx="171.1" cy="252.6" r="0.44"/><circle cx="170.1" cy="248.9" r="0.53"/><circle cx="167.7" cy="258.6" r="0.51"/><circle cx="175.3" cy="249.1" r="0.41"/><circle cx="172.6" cy="249.6" r="0.31"/><circle cx="166.6" cy="247.7" r="0.53"/><circle cx="172.9" cy="243.8" r="0.55"/><circle cx="166.0" cy="249.3" r="0.47"/><circle cx="168.4" cy="253.0" r="0.45"/><circle cx="164.8" cy="259.8" r="0.47"/><circle cx="169.7" cy="249.6" r="0.39"/><circle cx="166.8" cy="253.7" r="0.44"/><circle cx="181.4" cy="241.1" r="0.42"/><circle cx="165.5" cy="252.6" r="0.55"/><circle cx="168.6" cy="255.1" r="0.50"/><circle cx="174.1" cy="253.8" r="0.54"/><circle cx="174.8" cy="244.7" r="0.33"/><circle cx="178.0" cy="245.3" r="0.51"/><circle cx="182.4" cy="249.4" r="0.41"/><circle cx="174.3" cy="253.4" r="0.43"/><circle cx="168.8" cy="249.9" r="0.35"/><circle cx="167.3" cy="245.0" r="0.39"/><circle cx="179.1" cy="249.7" r="0.31"/><circle cx="164.5" cy="254.6" r="0.38"/><circle cx="171.8" cy="249.6" r="0.38"/><circle cx="175.6" cy="244.4" r="0.47"/></g>
<defs><radialGradient id="g6" cx="0.58" cy="0.45" r="0.62"><stop offset="0" stop-color="#8a8a8a"/><stop offset="0.45" stop-color="#5a5a5a"/><stop offset="0.8" stop-color="#333"/><stop offset="1" stop-color="#1a1a1a"/></radialGradient></defs>
<path d="M153.00,241.50 C154.17,241.22 157.67,239.88 160.00,239.80 C162.33,239.72 165.27,240.13 167.00,241.00 C168.73,241.87 169.98,243.17 170.40,245.00 C170.82,246.83 170.23,249.92 169.50,252.00 C168.77,254.08 167.58,256.22 166.00,257.50 C164.42,258.78 162.00,259.62 160.00,259.70 C158.00,259.78 155.45,259.28 154.00,258.00 C152.55,256.72 151.72,254.00 151.30,252.00 C150.88,250.00 151.22,247.75 151.50,246.00 C151.78,244.25 152.75,242.25 153.00,241.50" fill="url(#g6)" stroke="#333" stroke-width="1.0" stroke-linejoin="round" />
<path d="M156.00,245.00 C157.00,244.75 160.33,243.33 162.00,243.50 C163.67,243.67 165.42,244.58 166.00,246.00 C166.58,247.42 166.33,250.42 165.50,252.00 C164.67,253.58 162.58,255.17 161.00,255.50 C159.42,255.83 157.08,255.08 156.00,254.00 C154.92,252.92 154.50,250.50 154.50,249.00 C154.50,247.50 155.75,245.67 156.00,245.00" fill="none" stroke="#444" stroke-width="0.6" stroke-linejoin="round" stroke-opacity="0.6"/>
<ellipse cx="160.5" cy="250" rx="1.2" ry="1.5" fill="#eee"/>
<path d="M168.00,238.20 C168.37,239.00 169.67,241.53 170.20,243.00 C170.73,244.47 171.15,245.50 171.20,247.00 C171.25,248.50 170.95,250.25 170.50,252.00 C170.05,253.75 169.42,255.57 168.50,257.50 C167.58,259.43 165.58,262.58 165.00,263.60" fill="none" stroke="#555" stroke-width="1.0" stroke-linejoin="round" />
<path d="M168.00,238.20 L222.50,238.20 L222.50,263.60 L165.00,263.60" fill="none" stroke="#555" stroke-width="1.0" stroke-linejoin="round" />
<text x="181.8" y="257" font-size="11.3" font-weight="normal" text-anchor="start" fill="#222" stroke="#222" stroke-width="0.12" >12%</text>
<path d="M137.3,235.65 L137.3,281.7 L194.15,281.7" fill="none" stroke="#000" stroke-width="1.4"/>
<path d="M132.9,243.05 L137.3,234.65 L141.70000000000002,243.05" fill="none" stroke="#000" stroke-width="2.3" stroke-linejoin="round" stroke-linecap="round"/>
<path d="M186.75,277.3 L195.15,281.7 L186.75,286.09999999999997" fill="none" stroke="#000" stroke-width="2.3" stroke-linejoin="round" stroke-linecap="round"/>
<text x="133.9" y="276.4" font-size="11.8" font-weight="normal" text-anchor="start" fill="#000" stroke="#000" stroke-width="0.12" transform="rotate(-90 133.9 276.4)">CD19</text>
<text x="149.6" y="294.0" font-size="11.8" font-weight="normal" text-anchor="start" fill="#000" stroke="#000" stroke-width="0.12" >GFP</text>
<g fill="#888" fill-opacity="0.30"><circle cx="158.3" cy="335.5" r="0.44"/><circle cx="155.1" cy="337.2" r="0.43"/><circle cx="163.8" cy="329.9" r="0.40"/><circle cx="158.5" cy="332.0" r="0.49"/><circle cx="158.2" cy="331.4" r="0.34"/><circle cx="144.9" cy="328.7" r="0.45"/><circle cx="156.7" cy="328.3" r="0.30"/><circle cx="156.7" cy="325.6" r="0.48"/><circle cx="153.8" cy="332.4" r="0.37"/><circle cx="166.5" cy="336.3" r="0.45"/><circle cx="152.2" cy="334.4" r="0.40"/><circle cx="167.9" cy="333.5" r="0.45"/><circle cx="162.3" cy="328.6" r="0.46"/><circle cx="156.0" cy="331.5" r="0.53"/><circle cx="159.2" cy="326.6" r="0.52"/><circle cx="158.1" cy="326.1" r="0.45"/><circle cx="162.8" cy="328.5" r="0.54"/><circle cx="156.3" cy="335.0" r="0.48"/><circle cx="156.9" cy="334.2" r="0.52"/><circle cx="145.4" cy="330.9" r="0.36"/><circle cx="158.6" cy="334.2" r="0.35"/><circle cx="160.9" cy="329.3" r="0.44"/><circle cx="161.6" cy="334.1" r="0.40"/><circle cx="154.2" cy="331.1" r="0.33"/><circle cx="158.6" cy="325.9" r="0.36"/><circle cx="157.8" cy="333.8" r="0.36"/><circle cx="164.7" cy="331.6" r="0.39"/><circle cx="161.2" cy="336.5" r="0.32"/><circle cx="154.6" cy="339.4" r="0.33"/><circle cx="145.3" cy="333.3" r="0.50"/><circle cx="159.0" cy="333.9" r="0.48"/><circle cx="145.2" cy="338.8" r="0.35"/><circle cx="162.8" cy="328.2" r="0.36"/><circle cx="153.0" cy="330.8" r="0.48"/><circle cx="155.1" cy="340.7" r="0.45"/><circle cx="153.0" cy="332.8" r="0.45"/><circle cx="158.8" cy="339.9" r="0.33"/><circle cx="148.5" cy="329.5" r="0.37"/><circle cx="156.8" cy="325.1" r="0.46"/><circle cx="151.3" cy="328.2" r="0.40"/><circle cx="159.2" cy="331.6" r="0.51"/><circle cx="152.2" cy="336.6" r="0.33"/><circle cx="150.7" cy="328.2" r="0.43"/><circle cx="155.4" cy="331.8" r="0.38"/><circle cx="156.5" cy="332.6" r="0.48"/><circle cx="154.8" cy="335.0" r="0.53"/><circle cx="157.9" cy="319.8" r="0.52"/><circle cx="159.3" cy="333.0" r="0.31"/><circle cx="152.2" cy="323.3" r="0.39"/><circle cx="148.5" cy="333.8" r="0.47"/></g>
<defs><radialGradient id="g7"><stop offset="0" stop-color="#1a1a1a" stop-opacity="0.85"/><stop offset="0.5" stop-color="#222" stop-opacity="0.85"/><stop offset="0.66" stop-color="#3a3a3a" stop-opacity="0.72"/><stop offset="0.82" stop-color="#777" stop-opacity="0.38"/><stop offset="1" stop-color="#aaa" stop-opacity="0"/></radialGradient></defs>
<ellipse cx="156.3" cy="327.8" rx="10.66" ry="6.89" fill="url(#g7)" transform="rotate(-22 156.3 327.8)"/>
<ellipse cx="156.3" cy="327.8" rx="6.15" ry="3.97" fill="none" stroke="#666" stroke-width="0.5" stroke-opacity="0.5" transform="rotate(-22 156.3 327.8)"/>
<ellipse cx="156.3" cy="327.8" rx="4.10" ry="2.65" fill="none" stroke="#666" stroke-width="0.5" stroke-opacity="0.5" transform="rotate(-22 156.3 327.8)"/>
<ellipse cx="156.3" cy="327.8" rx="1.80" ry="0.64" fill="#ddd" fill-opacity="0.85" transform="rotate(-22 156.3 327.8)"/>
<path d="M163.70,314.60 C164.12,315.42 165.55,317.73 166.20,319.50 C166.85,321.27 167.70,323.20 167.60,325.20 C167.50,327.20 166.42,329.57 165.60,331.50 C164.78,333.43 163.18,335.92 162.70,336.80" fill="none" stroke="#555" stroke-width="1.0" stroke-linejoin="round" />
<path d="M163.70,314.60 L219.30,314.60 L219.30,336.80 L162.70,336.80" fill="none" stroke="#555" stroke-width="1.0" stroke-linejoin="round" />
<text x="181.3" y="331.7" font-size="11.3" font-weight="normal" text-anchor="start" fill="#222" stroke="#222" stroke-width="0.12" >0.5%</text>
<g fill="#666" fill-opacity="0.38"><circle cx="178.3" cy="394.6" r="0.39"/><circle cx="171.9" cy="380.2" r="0.33"/><circle cx="197.4" cy="377.9" r="0.48"/><circle cx="181.9" cy="383.4" r="0.34"/><circle cx="181.8" cy="387.8" r="0.40"/><circle cx="189.7" cy="384.3" r="0.46"/><circle cx="189.5" cy="393.4" r="0.44"/><circle cx="175.8" cy="378.5" r="0.41"/><circle cx="172.8" cy="377.9" r="0.30"/><circle cx="190.2" cy="374.0" r="0.37"/><circle cx="204.5" cy="386.1" r="0.45"/><circle cx="188.0" cy="384.3" r="0.33"/><circle cx="180.5" cy="379.0" r="0.53"/><circle cx="178.0" cy="380.5" r="0.47"/><circle cx="159.8" cy="389.2" r="0.51"/><circle cx="176.8" cy="385.6" r="0.54"/><circle cx="149.3" cy="389.4" r="0.47"/><circle cx="176.1" cy="371.7" r="0.46"/><circle cx="173.5" cy="383.6" r="0.47"/><circle cx="162.9" cy="386.1" r="0.53"/><circle cx="194.5" cy="390.3" r="0.31"/><circle cx="170.6" cy="372.6" r="0.37"/><circle cx="166.6" cy="377.3" r="0.36"/><circle cx="190.3" cy="385.1" r="0.40"/><circle cx="181.6" cy="387.9" r="0.33"/><circle cx="172.4" cy="374.4" r="0.36"/><circle cx="178.9" cy="390.2" r="0.41"/><circle cx="190.0" cy="380.8" r="0.37"/><circle cx="183.8" cy="380.8" r="0.44"/><circle cx="165.1" cy="392.5" r="0.44"/><circle cx="178.6" cy="379.4" r="0.47"/><circle cx="165.3" cy="379.1" r="0.49"/><circle cx="181.4" cy="380.4" r="0.37"/><circle cx="171.9" cy="386.1" r="0.32"/><circle cx="176.2" cy="386.9" r="0.48"/><circle cx="171.5" cy="383.9" r="0.38"/><circle cx="165.0" cy="384.1" r="0.34"/><circle cx="179.9" cy="383.4" r="0.55"/><circle cx="178.0" cy="380.5" r="0.48"/><circle cx="195.9" cy="382.0" r="0.33"/><circle cx="163.1" cy="383.4" r="0.35"/><circle cx="176.3" cy="382.8" r="0.53"/><circle cx="165.9" cy="376.4" r="0.53"/><circle cx="171.9" cy="379.3" r="0.36"/><circle cx="180.1" cy="384.1" r="0.49"/><circle cx="184.3" cy="378.7" r="0.35"/><circle cx="160.5" cy="374.2" r="0.53"/><circle cx="190.0" cy="392.2" r="0.51"/><circle cx="177.4" cy="377.7" r="0.35"/><circle cx="183.6" cy="378.3" r="0.39"/><circle cx="165.2" cy="381.2" r="0.51"/><circle cx="178.3" cy="384.7" r="0.44"/><circle cx="160.0" cy="375.0" r="0.48"/><circle cx="205.9" cy="374.9" r="0.42"/><circle cx="169.8" cy="383.0" r="0.37"/><circle cx="173.0" cy="381.8" r="0.47"/><circle cx="185.8" cy="388.6" r="0.54"/><circle cx="181.4" cy="383.9" r="0.41"/><circle cx="186.2" cy="392.0" r="0.30"/><circle cx="192.9" cy="373.1" r="0.50"/><circle cx="167.8" cy="385.2" r="0.47"/><circle cx="163.4" cy="382.4" r="0.38"/><circle cx="158.8" cy="386.3" r="0.51"/><circle cx="184.9" cy="381.0" r="0.37"/><circle cx="161.1" cy="385.7" r="0.39"/><circle cx="180.0" cy="385.4" r="0.38"/><circle cx="201.6" cy="376.5" r="0.54"/><circle cx="196.9" cy="381.0" r="0.50"/><circle cx="197.6" cy="386.3" r="0.45"/><circle cx="172.7" cy="390.5" r="0.54"/><circle cx="157.9" cy="384.0" r="0.37"/><circle cx="161.9" cy="393.4" r="0.31"/><circle cx="185.9" cy="391.4" r="0.41"/><circle cx="195.7" cy="387.5" r="0.39"/><circle cx="165.3" cy="380.0" r="0.43"/><circle cx="165.1" cy="380.6" r="0.33"/><circle cx="190.4" cy="394.4" r="0.44"/><circle cx="199.2" cy="390.7" r="0.36"/><circle cx="192.2" cy="387.1" r="0.36"/><circle cx="160.2" cy="383.5" r="0.36"/><circle cx="171.8" cy="381.7" r="0.43"/><circle cx="173.1" cy="381.7" r="0.40"/><circle cx="191.5" cy="385.9" r="0.52"/><circle cx="156.9" cy="380.0" r="0.49"/><circle cx="210.2" cy="395.1" r="0.48"/><circle cx="199.1" cy="389.8" r="0.40"/><circle cx="194.9" cy="396.4" r="0.44"/><circle cx="179.2" cy="379.8" r="0.49"/><circle cx="187.6" cy="384.6" r="0.39"/><circle cx="196.7" cy="383.8" r="0.35"/><circle cx="171.2" cy="391.9" r="0.41"/><circle cx="192.9" cy="377.6" r="0.52"/><circle cx="149.1" cy="377.8" r="0.52"/><circle cx="189.4" cy="391.6" r="0.39"/><circle cx="179.8" cy="374.0" r="0.51"/><circle cx="187.7" cy="387.0" r="0.48"/><circle cx="199.2" cy="379.9" r="0.31"/><circle cx="172.9" cy="381.3" r="0.44"/><circle cx="180.2" cy="380.2" r="0.53"/><circle cx="173.1" cy="378.9" r="0.35"/><circle cx="152.8" cy="386.8" r="0.45"/><circle cx="180.2" cy="383.8" r="0.33"/><circle cx="180.8" cy="379.4" r="0.44"/><circle cx="172.7" cy="391.9" r="0.40"/><circle cx="195.6" cy="392.6" r="0.43"/><circle cx="168.6" cy="372.9" r="0.54"/><circle cx="190.8" cy="383.5" r="0.34"/><circle cx="149.6" cy="382.9" r="0.50"/><circle cx="186.7" cy="383.8" r="0.50"/><circle cx="172.0" cy="377.6" r="0.42"/><circle cx="192.7" cy="392.7" r="0.40"/><circle cx="191.4" cy="377.1" r="0.32"/><circle cx="173.3" cy="386.7" r="0.52"/><circle cx="174.5" cy="382.0" r="0.34"/><circle cx="167.9" cy="388.2" r="0.44"/><circle cx="168.0" cy="386.6" r="0.30"/><circle cx="166.9" cy="380.4" r="0.31"/><circle cx="185.5" cy="383.9" r="0.47"/><circle cx="176.4" cy="387.7" r="0.43"/><circle cx="176.6" cy="390.8" r="0.43"/><circle cx="195.5" cy="384.6" r="0.49"/><circle cx="194.8" cy="375.6" r="0.46"/><circle cx="169.2" cy="378.7" r="0.37"/><circle cx="186.0" cy="371.3" r="0.53"/><circle cx="173.0" cy="378.4" r="0.49"/><circle cx="176.9" cy="375.9" r="0.46"/><circle cx="167.6" cy="389.1" r="0.40"/><circle cx="189.8" cy="385.0" r="0.38"/><circle cx="194.0" cy="382.5" r="0.39"/><circle cx="178.4" cy="387.4" r="0.39"/><circle cx="179.1" cy="383.5" r="0.52"/><circle cx="163.5" cy="384.9" r="0.44"/><circle cx="175.2" cy="386.5" r="0.32"/><circle cx="174.2" cy="387.9" r="0.48"/><circle cx="146.7" cy="378.5" r="0.39"/><circle cx="194.3" cy="379.2" r="0.32"/><circle cx="186.0" cy="390.1" r="0.55"/><circle cx="163.0" cy="391.1" r="0.41"/><circle cx="181.5" cy="381.3" r="0.42"/><circle cx="187.1" cy="380.1" r="0.36"/><circle cx="186.3" cy="383.5" r="0.37"/><circle cx="175.2" cy="379.0" r="0.40"/><circle cx="183.8" cy="390.8" r="0.52"/><circle cx="172.5" cy="379.8" r="0.48"/><circle cx="196.5" cy="381.1" r="0.32"/><circle cx="188.4" cy="371.6" r="0.39"/><circle cx="183.9" cy="385.9" r="0.43"/><circle cx="192.2" cy="377.0" r="0.53"/><circle cx="180.9" cy="388.2" r="0.49"/><circle cx="169.5" cy="378.1" r="0.47"/><circle cx="175.5" cy="384.8" r="0.40"/><circle cx="196.8" cy="385.4" r="0.38"/><circle cx="159.1" cy="383.3" r="0.36"/><circle cx="175.7" cy="383.2" r="0.53"/><circle cx="196.1" cy="385.9" r="0.48"/><circle cx="175.0" cy="385.3" r="0.34"/><circle cx="192.9" cy="391.0" r="0.32"/><circle cx="183.7" cy="377.2" r="0.43"/><circle cx="162.9" cy="379.0" r="0.46"/><circle cx="167.9" cy="379.8" r="0.49"/><circle cx="176.9" cy="392.4" r="0.49"/><circle cx="180.0" cy="377.9" r="0.49"/><circle cx="193.2" cy="382.1" r="0.37"/><circle cx="145.1" cy="380.9" r="0.33"/><circle cx="193.9" cy="383.4" r="0.46"/><circle cx="180.0" cy="377.4" r="0.55"/><circle cx="181.2" cy="393.0" r="0.32"/><circle cx="185.4" cy="383.6" r="0.32"/><circle cx="160.2" cy="382.9" r="0.35"/><circle cx="190.4" cy="380.9" r="0.34"/><circle cx="188.1" cy="391.8" r="0.53"/><circle cx="179.8" cy="384.2" r="0.49"/><circle cx="179.9" cy="400.0" r="0.42"/><circle cx="169.6" cy="378.8" r="0.50"/><circle cx="166.0" cy="384.3" r="0.53"/><circle cx="195.7" cy="389.1" r="0.32"/><circle cx="169.3" cy="378.2" r="0.52"/><circle cx="194.8" cy="385.8" r="0.40"/><circle cx="207.5" cy="376.0" r="0.46"/><circle cx="179.7" cy="387.5" r="0.37"/><circle cx="168.7" cy="384.8" r="0.35"/><circle cx="179.2" cy="374.4" r="0.37"/><circle cx="187.8" cy="382.9" r="0.44"/><circle cx="193.4" cy="393.0" r="0.52"/><circle cx="175.5" cy="393.0" r="0.51"/><circle cx="175.4" cy="388.3" r="0.42"/><circle cx="184.4" cy="380.7" r="0.47"/><circle cx="165.4" cy="379.2" r="0.44"/><circle cx="185.1" cy="380.2" r="0.52"/><circle cx="162.4" cy="391.0" r="0.52"/><circle cx="189.5" cy="393.9" r="0.55"/><circle cx="177.1" cy="384.3" r="0.33"/><circle cx="179.9" cy="382.9" r="0.53"/><circle cx="191.3" cy="391.0" r="0.32"/><circle cx="188.4" cy="390.9" r="0.32"/><circle cx="161.3" cy="394.4" r="0.48"/><circle cx="206.8" cy="371.7" r="0.31"/><circle cx="180.4" cy="393.6" r="0.47"/><circle cx="194.1" cy="384.7" r="0.36"/><circle cx="172.0" cy="384.2" r="0.30"/><circle cx="190.2" cy="382.7" r="0.52"/><circle cx="189.8" cy="387.8" r="0.33"/><circle cx="170.1" cy="384.6" r="0.47"/><circle cx="191.7" cy="390.9" r="0.43"/><circle cx="188.0" cy="386.6" r="0.42"/><circle cx="189.3" cy="380.3" r="0.35"/><circle cx="206.4" cy="380.5" r="0.48"/><circle cx="176.7" cy="386.7" r="0.37"/><circle cx="181.8" cy="383.7" r="0.43"/><circle cx="163.0" cy="387.2" r="0.39"/><circle cx="199.3" cy="383.6" r="0.46"/><circle cx="161.0" cy="380.9" r="0.47"/><circle cx="206.3" cy="381.6" r="0.48"/><circle cx="168.1" cy="386.1" r="0.40"/><circle cx="191.7" cy="382.0" r="0.40"/><circle cx="171.4" cy="384.8" r="0.55"/><circle cx="197.1" cy="383.3" r="0.53"/><circle cx="177.4" cy="391.2" r="0.39"/><circle cx="178.5" cy="387.0" r="0.33"/><circle cx="191.5" cy="374.2" r="0.53"/><circle cx="198.5" cy="385.8" r="0.38"/><circle cx="167.3" cy="377.0" r="0.38"/><circle cx="178.6" cy="383.0" r="0.49"/><circle cx="188.1" cy="377.3" r="0.45"/><circle cx="188.2" cy="382.9" r="0.46"/><circle cx="177.4" cy="377.1" r="0.48"/><circle cx="164.6" cy="387.5" r="0.45"/><circle cx="172.5" cy="378.3" r="0.46"/><circle cx="168.4" cy="381.9" r="0.45"/><circle cx="175.1" cy="396.1" r="0.42"/><circle cx="175.0" cy="375.8" r="0.42"/><circle cx="179.4" cy="386.3" r="0.53"/><circle cx="161.2" cy="381.7" r="0.43"/><circle cx="182.0" cy="378.9" r="0.34"/><circle cx="184.8" cy="377.0" r="0.46"/><circle cx="191.9" cy="371.8" r="0.52"/><circle cx="191.2" cy="384.6" r="0.51"/><circle cx="181.0" cy="380.2" r="0.34"/><circle cx="177.9" cy="385.8" r="0.39"/><circle cx="183.6" cy="376.1" r="0.41"/><circle cx="190.0" cy="386.2" r="0.55"/><circle cx="172.8" cy="376.8" r="0.42"/><circle cx="185.1" cy="373.3" r="0.34"/><circle cx="172.3" cy="377.8" r="0.43"/><circle cx="179.0" cy="388.8" r="0.39"/><circle cx="176.1" cy="383.8" r="0.35"/><circle cx="173.6" cy="382.1" r="0.34"/><circle cx="175.8" cy="378.3" r="0.38"/><circle cx="179.4" cy="394.4" r="0.32"/><circle cx="159.8" cy="374.0" r="0.35"/><circle cx="156.0" cy="387.9" r="0.45"/><circle cx="175.1" cy="384.3" r="0.41"/><circle cx="163.2" cy="390.0" r="0.37"/><circle cx="161.1" cy="387.7" r="0.50"/><circle cx="169.7" cy="387.7" r="0.44"/></g>
<g fill="#666" fill-opacity="0.38"><circle cx="205.2" cy="379.5" r="0.54"/><circle cx="197.9" cy="376.3" r="0.47"/><circle cx="198.3" cy="382.7" r="0.49"/><circle cx="192.0" cy="385.2" r="0.42"/><circle cx="212.3" cy="376.1" r="0.31"/><circle cx="191.6" cy="377.9" r="0.42"/><circle cx="205.0" cy="376.6" r="0.42"/><circle cx="207.5" cy="377.6" r="0.42"/><circle cx="183.3" cy="380.3" r="0.47"/><circle cx="199.5" cy="375.9" r="0.31"/><circle cx="195.1" cy="375.3" r="0.49"/><circle cx="200.6" cy="378.5" r="0.36"/><circle cx="214.7" cy="385.3" r="0.33"/><circle cx="212.8" cy="385.4" r="0.44"/><circle cx="212.8" cy="383.6" r="0.48"/><circle cx="197.0" cy="381.2" r="0.47"/><circle cx="189.6" cy="384.3" r="0.55"/><circle cx="207.4" cy="371.7" r="0.34"/><circle cx="194.5" cy="386.2" r="0.30"/><circle cx="207.2" cy="380.7" r="0.37"/><circle cx="197.3" cy="384.5" r="0.51"/><circle cx="189.9" cy="378.9" r="0.41"/><circle cx="207.3" cy="382.3" r="0.52"/><circle cx="205.7" cy="371.7" r="0.36"/><circle cx="200.9" cy="382.6" r="0.43"/><circle cx="192.9" cy="385.0" r="0.42"/><circle cx="192.6" cy="378.6" r="0.50"/><circle cx="206.2" cy="391.7" r="0.44"/><circle cx="207.4" cy="382.4" r="0.43"/><circle cx="190.2" cy="384.5" r="0.38"/><circle cx="197.6" cy="389.8" r="0.37"/><circle cx="196.0" cy="372.3" r="0.45"/><circle cx="179.8" cy="384.3" r="0.41"/><circle cx="202.2" cy="379.8" r="0.41"/><circle cx="198.2" cy="379.8" r="0.52"/><circle cx="210.9" cy="383.9" r="0.35"/><circle cx="210.2" cy="378.0" r="0.50"/><circle cx="186.5" cy="381.1" r="0.47"/><circle cx="198.3" cy="384.3" r="0.51"/><circle cx="212.3" cy="389.9" r="0.35"/><circle cx="203.2" cy="382.3" r="0.50"/><circle cx="208.9" cy="379.4" r="0.46"/><circle cx="199.1" cy="391.9" r="0.47"/><circle cx="201.7" cy="382.4" r="0.47"/><circle cx="216.5" cy="383.5" r="0.37"/><circle cx="201.3" cy="387.6" r="0.38"/><circle cx="195.2" cy="379.9" r="0.53"/><circle cx="192.2" cy="389.6" r="0.34"/><circle cx="207.7" cy="367.7" r="0.40"/><circle cx="208.6" cy="382.0" r="0.46"/><circle cx="201.9" cy="387.2" r="0.32"/><circle cx="185.8" cy="382.8" r="0.41"/><circle cx="198.1" cy="378.8" r="0.51"/><circle cx="214.7" cy="388.9" r="0.55"/><circle cx="210.2" cy="378.7" r="0.37"/><circle cx="191.3" cy="387.8" r="0.42"/><circle cx="203.6" cy="380.1" r="0.42"/><circle cx="208.0" cy="375.9" r="0.44"/><circle cx="204.2" cy="382.4" r="0.37"/><circle cx="213.6" cy="375.0" r="0.36"/><circle cx="202.1" cy="380.4" r="0.45"/><circle cx="208.1" cy="380.1" r="0.54"/><circle cx="198.4" cy="379.7" r="0.38"/><circle cx="193.6" cy="382.2" r="0.49"/><circle cx="206.8" cy="388.9" r="0.37"/><circle cx="210.4" cy="383.7" r="0.32"/><circle cx="185.0" cy="378.2" r="0.45"/><circle cx="197.7" cy="381.3" r="0.43"/><circle cx="210.6" cy="385.1" r="0.33"/><circle cx="192.6" cy="378.8" r="0.39"/><circle cx="197.2" cy="378.4" r="0.34"/><circle cx="207.5" cy="379.4" r="0.51"/><circle cx="207.2" cy="376.9" r="0.34"/><circle cx="215.4" cy="386.7" r="0.33"/><circle cx="188.9" cy="381.2" r="0.33"/><circle cx="194.7" cy="381.6" r="0.43"/><circle cx="191.4" cy="380.8" r="0.35"/><circle cx="195.0" cy="382.9" r="0.33"/><circle cx="201.2" cy="391.1" r="0.43"/><circle cx="201.2" cy="380.4" r="0.54"/><circle cx="184.1" cy="381.6" r="0.44"/><circle cx="197.6" cy="377.7" r="0.49"/><circle cx="204.0" cy="384.2" r="0.31"/><circle cx="191.5" cy="384.8" r="0.37"/><circle cx="202.9" cy="379.7" r="0.44"/><circle cx="201.2" cy="387.7" r="0.50"/><circle cx="199.2" cy="379.3" r="0.36"/><circle cx="179.1" cy="372.7" r="0.31"/><circle cx="189.8" cy="375.8" r="0.50"/><circle cx="191.0" cy="388.6" r="0.42"/><circle cx="201.2" cy="380.6" r="0.54"/><circle cx="192.2" cy="383.7" r="0.32"/><circle cx="200.5" cy="389.1" r="0.47"/><circle cx="204.8" cy="384.7" r="0.34"/><circle cx="202.0" cy="384.3" r="0.38"/><circle cx="202.7" cy="375.5" r="0.42"/><circle cx="203.6" cy="370.3" r="0.49"/><circle cx="196.1" cy="378.5" r="0.46"/><circle cx="209.0" cy="373.8" r="0.32"/><circle cx="198.3" cy="376.5" r="0.34"/><circle cx="213.1" cy="379.4" r="0.49"/><circle cx="211.2" cy="388.0" r="0.53"/><circle cx="212.3" cy="376.3" r="0.51"/><circle cx="203.9" cy="374.7" r="0.41"/><circle cx="207.2" cy="373.2" r="0.52"/><circle cx="193.1" cy="393.1" r="0.43"/><circle cx="204.2" cy="380.2" r="0.54"/><circle cx="201.6" cy="377.3" r="0.51"/><circle cx="200.7" cy="384.3" r="0.41"/><circle cx="200.9" cy="386.8" r="0.53"/><circle cx="194.4" cy="373.8" r="0.40"/><circle cx="203.4" cy="372.3" r="0.47"/><circle cx="215.7" cy="377.7" r="0.40"/><circle cx="211.2" cy="384.8" r="0.51"/><circle cx="193.5" cy="386.7" r="0.51"/><circle cx="200.2" cy="380.5" r="0.42"/><circle cx="204.3" cy="381.2" r="0.50"/><circle cx="189.3" cy="384.3" r="0.41"/><circle cx="196.8" cy="384.0" r="0.39"/></g>
<g fill="#666" fill-opacity="0.38"><circle cx="195.9" cy="385.0" r="0.37"/><circle cx="194.5" cy="390.5" r="0.48"/><circle cx="165.8" cy="390.8" r="0.50"/><circle cx="200.4" cy="392.6" r="0.31"/><circle cx="189.0" cy="387.0" r="0.37"/><circle cx="197.8" cy="388.1" r="0.36"/><circle cx="199.8" cy="385.9" r="0.52"/><circle cx="172.0" cy="391.5" r="0.54"/><circle cx="194.8" cy="395.1" r="0.34"/><circle cx="184.6" cy="389.0" r="0.34"/><circle cx="199.5" cy="387.7" r="0.50"/><circle cx="184.9" cy="392.3" r="0.33"/><circle cx="158.6" cy="386.7" r="0.43"/><circle cx="162.0" cy="394.6" r="0.52"/><circle cx="182.2" cy="387.8" r="0.46"/><circle cx="151.9" cy="392.0" r="0.39"/><circle cx="174.5" cy="384.8" r="0.39"/><circle cx="164.2" cy="388.3" r="0.53"/><circle cx="171.7" cy="389.0" r="0.54"/><circle cx="209.9" cy="391.3" r="0.47"/><circle cx="170.7" cy="387.7" r="0.49"/><circle cx="202.5" cy="385.4" r="0.49"/><circle cx="197.1" cy="389.7" r="0.33"/><circle cx="213.2" cy="386.9" r="0.34"/><circle cx="169.3" cy="386.6" r="0.31"/><circle cx="166.9" cy="392.6" r="0.46"/><circle cx="180.4" cy="394.8" r="0.37"/><circle cx="170.9" cy="388.0" r="0.54"/><circle cx="170.0" cy="383.9" r="0.47"/><circle cx="158.7" cy="395.1" r="0.48"/><circle cx="180.9" cy="386.4" r="0.34"/><circle cx="161.7" cy="386.0" r="0.50"/><circle cx="180.6" cy="390.6" r="0.43"/><circle cx="191.0" cy="387.6" r="0.48"/><circle cx="190.8" cy="391.7" r="0.31"/><circle cx="180.9" cy="392.3" r="0.54"/><circle cx="193.8" cy="388.5" r="0.38"/><circle cx="193.7" cy="388.2" r="0.38"/><circle cx="178.8" cy="389.6" r="0.37"/><circle cx="174.1" cy="391.1" r="0.54"/><circle cx="184.0" cy="391.4" r="0.53"/><circle cx="159.6" cy="391.1" r="0.46"/><circle cx="187.2" cy="386.0" r="0.34"/><circle cx="185.7" cy="385.1" r="0.44"/><circle cx="173.8" cy="383.9" r="0.37"/><circle cx="164.7" cy="394.9" r="0.43"/><circle cx="180.3" cy="393.8" r="0.36"/><circle cx="185.5" cy="388.0" r="0.51"/><circle cx="173.0" cy="387.7" r="0.53"/><circle cx="184.0" cy="391.6" r="0.32"/><circle cx="162.6" cy="387.2" r="0.47"/><circle cx="163.3" cy="392.3" r="0.33"/><circle cx="177.9" cy="393.7" r="0.54"/><circle cx="170.7" cy="385.0" r="0.49"/><circle cx="158.8" cy="394.1" r="0.49"/><circle cx="177.4" cy="391.9" r="0.50"/><circle cx="179.7" cy="390.8" r="0.52"/><circle cx="168.3" cy="388.2" r="0.47"/><circle cx="191.1" cy="387.9" r="0.38"/><circle cx="198.2" cy="390.5" r="0.43"/><circle cx="197.4" cy="384.8" r="0.44"/><circle cx="170.0" cy="391.6" r="0.37"/><circle cx="198.8" cy="383.9" r="0.51"/><circle cx="197.2" cy="393.2" r="0.49"/><circle cx="155.1" cy="389.0" r="0.52"/><circle cx="183.9" cy="382.5" r="0.46"/><circle cx="190.4" cy="387.7" r="0.48"/><circle cx="179.5" cy="384.4" r="0.37"/><circle cx="202.4" cy="391.0" r="0.51"/><circle cx="183.6" cy="391.4" r="0.36"/><circle cx="202.5" cy="391.9" r="0.54"/><circle cx="189.3" cy="385.9" r="0.47"/><circle cx="209.0" cy="391.9" r="0.38"/><circle cx="204.7" cy="389.1" r="0.33"/><circle cx="184.2" cy="390.2" r="0.41"/><circle cx="161.1" cy="386.9" r="0.31"/><circle cx="188.2" cy="387.5" r="0.36"/><circle cx="176.2" cy="386.7" r="0.38"/><circle cx="176.1" cy="388.0" r="0.50"/><circle cx="191.8" cy="395.5" r="0.50"/><circle cx="181.6" cy="388.8" r="0.49"/><circle cx="201.3" cy="389.7" r="0.41"/><circle cx="203.2" cy="390.9" r="0.48"/><circle cx="172.8" cy="387.2" r="0.43"/><circle cx="176.5" cy="387.7" r="0.52"/><circle cx="210.3" cy="388.8" r="0.54"/><circle cx="165.4" cy="398.0" r="0.32"/><circle cx="177.6" cy="389.3" r="0.41"/><circle cx="176.0" cy="384.0" r="0.41"/><circle cx="180.1" cy="390.9" r="0.40"/><circle cx="183.1" cy="391.3" r="0.48"/><circle cx="170.0" cy="388.6" r="0.35"/><circle cx="182.3" cy="386.8" r="0.37"/><circle cx="164.8" cy="387.0" r="0.54"/><circle cx="184.5" cy="380.5" r="0.53"/><circle cx="181.2" cy="383.5" r="0.32"/><circle cx="185.6" cy="389.5" r="0.52"/><circle cx="181.5" cy="384.1" r="0.37"/><circle cx="179.9" cy="390.7" r="0.46"/><circle cx="196.9" cy="388.8" r="0.31"/><circle cx="190.9" cy="391.9" r="0.52"/><circle cx="190.2" cy="385.4" r="0.33"/><circle cx="191.3" cy="390.3" r="0.49"/><circle cx="206.2" cy="385.7" r="0.42"/><circle cx="188.2" cy="387.3" r="0.33"/><circle cx="169.6" cy="387.4" r="0.35"/><circle cx="185.0" cy="389.7" r="0.53"/><circle cx="176.7" cy="380.8" r="0.55"/><circle cx="164.0" cy="391.2" r="0.40"/><circle cx="195.2" cy="382.8" r="0.33"/><circle cx="194.7" cy="389.2" r="0.45"/><circle cx="183.6" cy="389.3" r="0.51"/><circle cx="188.5" cy="385.2" r="0.31"/><circle cx="198.3" cy="386.2" r="0.32"/><circle cx="176.3" cy="393.4" r="0.52"/><circle cx="165.1" cy="389.5" r="0.35"/><circle cx="186.3" cy="396.6" r="0.40"/><circle cx="199.9" cy="391.8" r="0.33"/><circle cx="189.8" cy="392.7" r="0.45"/><circle cx="170.6" cy="384.9" r="0.41"/><circle cx="205.5" cy="391.3" r="0.31"/><circle cx="171.1" cy="389.6" r="0.47"/><circle cx="182.7" cy="386.5" r="0.46"/><circle cx="179.4" cy="385.3" r="0.34"/><circle cx="200.9" cy="386.4" r="0.32"/><circle cx="187.9" cy="399.3" r="0.36"/><circle cx="165.8" cy="392.9" r="0.51"/><circle cx="169.6" cy="384.7" r="0.31"/><circle cx="216.8" cy="394.3" r="0.50"/><circle cx="189.3" cy="389.3" r="0.36"/><circle cx="193.9" cy="388.0" r="0.47"/><circle cx="203.1" cy="386.9" r="0.53"/><circle cx="184.3" cy="391.0" r="0.30"/><circle cx="185.3" cy="387.4" r="0.54"/><circle cx="182.8" cy="386.8" r="0.50"/><circle cx="193.7" cy="392.6" r="0.33"/><circle cx="191.8" cy="381.8" r="0.53"/><circle cx="212.3" cy="389.1" r="0.44"/><circle cx="192.2" cy="385.3" r="0.45"/><circle cx="164.2" cy="385.5" r="0.32"/><circle cx="201.6" cy="390.5" r="0.37"/><circle cx="183.6" cy="389.3" r="0.49"/><circle cx="211.0" cy="390.0" r="0.50"/><circle cx="178.1" cy="389.5" r="0.46"/><circle cx="188.9" cy="392.6" r="0.33"/><circle cx="202.4" cy="388.4" r="0.39"/><circle cx="203.8" cy="392.2" r="0.51"/><circle cx="188.8" cy="387.7" r="0.39"/><circle cx="177.3" cy="394.6" r="0.34"/><circle cx="154.5" cy="383.0" r="0.49"/><circle cx="190.5" cy="389.1" r="0.33"/><circle cx="178.3" cy="384.6" r="0.43"/><circle cx="171.2" cy="390.0" r="0.45"/><circle cx="166.4" cy="382.7" r="0.48"/><circle cx="193.9" cy="381.6" r="0.51"/><circle cx="184.3" cy="388.1" r="0.47"/><circle cx="193.7" cy="386.0" r="0.52"/><circle cx="199.3" cy="396.6" r="0.41"/><circle cx="182.1" cy="386.4" r="0.38"/><circle cx="177.8" cy="391.5" r="0.32"/><circle cx="148.1" cy="392.5" r="0.46"/><circle cx="206.6" cy="386.5" r="0.51"/><circle cx="208.4" cy="388.8" r="0.37"/><circle cx="185.0" cy="392.6" r="0.31"/><circle cx="188.5" cy="396.2" r="0.53"/><circle cx="173.6" cy="394.3" r="0.49"/><circle cx="204.2" cy="385.0" r="0.43"/><circle cx="205.7" cy="393.0" r="0.38"/><circle cx="175.6" cy="386.6" r="0.43"/><circle cx="193.1" cy="388.6" r="0.43"/><circle cx="174.8" cy="385.5" r="0.53"/><circle cx="159.1" cy="393.3" r="0.47"/><circle cx="190.9" cy="388.7" r="0.35"/><circle cx="177.9" cy="396.4" r="0.30"/><circle cx="183.6" cy="394.5" r="0.55"/><circle cx="191.7" cy="392.4" r="0.47"/><circle cx="176.6" cy="383.6" r="0.49"/><circle cx="185.1" cy="391.7" r="0.31"/><circle cx="181.5" cy="386.8" r="0.36"/><circle cx="204.6" cy="387.9" r="0.45"/><circle cx="174.5" cy="385.1" r="0.47"/><circle cx="183.3" cy="390.2" r="0.32"/><circle cx="198.2" cy="389.3" r="0.34"/><circle cx="197.4" cy="391.7" r="0.54"/><circle cx="180.7" cy="386.4" r="0.49"/><circle cx="187.8" cy="390.4" r="0.38"/><circle cx="167.0" cy="391.9" r="0.41"/><circle cx="184.2" cy="387.5" r="0.53"/><circle cx="170.5" cy="394.5" r="0.31"/><circle cx="189.8" cy="386.8" r="0.51"/><circle cx="191.8" cy="384.1" r="0.37"/><circle cx="194.1" cy="389.1" r="0.53"/><circle cx="196.2" cy="393.3" r="0.45"/><circle cx="180.3" cy="387.1" r="0.34"/><circle cx="217.7" cy="394.7" r="0.40"/><circle cx="174.5" cy="385.3" r="0.36"/><circle cx="187.2" cy="389.2" r="0.51"/><circle cx="209.6" cy="395.6" r="0.39"/></g>
<path d="M166.00,371.00 C168.00,370.75 173.67,369.33 178.00,369.50 C182.33,369.67 187.67,371.17 192.00,372.00 C196.33,372.83 201.08,373.33 204.00,374.50 C206.92,375.67 208.83,377.17 209.50,379.00 C210.17,380.83 209.42,383.92 208.00,385.50 C206.58,387.08 204.00,388.25 201.00,388.50 C198.00,388.75 193.83,387.58 190.00,387.00 C186.17,386.42 181.67,385.17 178.00,385.00 C174.33,384.83 170.50,386.83 168.00,386.00 C165.50,385.17 163.33,382.50 163.00,380.00 C162.67,377.50 165.50,372.50 166.00,371.00" fill="#bbb" stroke="#333" stroke-width="1.0" stroke-linejoin="round" fill-opacity="0.4"/>
<path d="M169.00,373.50 C171.00,373.33 176.83,372.25 181.00,372.50 C185.17,372.75 190.33,374.17 194.00,375.00 C197.67,375.83 201.00,376.33 203.00,377.50 C205.00,378.67 206.33,380.67 206.00,382.00 C205.67,383.33 203.67,385.17 201.00,385.50 C198.33,385.83 193.83,384.58 190.00,384.00 C186.17,383.42 181.50,382.25 178.00,382.00 C174.50,381.75 170.83,383.17 169.00,382.50 C167.17,381.83 167.00,379.50 167.00,378.00 C167.00,376.50 168.67,374.25 169.00,373.50" fill="#ddd" stroke="#555" stroke-width="0.6" stroke-linejoin="round" fill-opacity="0.5"/>
<path d="M172.00,376.00 C174.00,375.92 180.17,375.25 184.00,375.50 C187.83,375.75 192.17,376.75 195.00,377.50 C197.83,378.25 200.33,379.08 201.00,380.00 C201.67,380.92 201.00,382.75 199.00,383.00 C197.00,383.25 192.67,382.00 189.00,381.50 C185.33,381.00 179.83,380.42 177.00,380.00 C174.17,379.58 172.83,379.67 172.00,379.00 C171.17,378.33 172.00,376.50 172.00,376.00" fill="none" stroke="#666" stroke-width="0.5" stroke-linejoin="round" />
<ellipse cx="196" cy="379.6" rx="4.5" ry="1.1" fill="#fff" fill-opacity="0.9"/>
<defs><radialGradient id="g8"><stop offset="0" stop-color="#888" stop-opacity="0.9"/><stop offset="0.35" stop-color="#888" stop-opacity="0.9"/><stop offset="0.6" stop-color="#1a1a1a" stop-opacity="0.95"/><stop offset="0.74" stop-color="#333" stop-opacity="0.85"/><stop offset="0.88" stop-color="#888" stop-opacity="0.35"/><stop offset="1" stop-color="#aaa" stop-opacity="0"/></radialGradient></defs>
<ellipse cx="157.8" cy="377.7" rx="10.40" ry="9.88" fill="url(#g8)" />
<ellipse cx="157.8" cy="377.7" rx="4.00" ry="3.80" fill="none" stroke="#222" stroke-width="0.5" stroke-opacity="0.6" />
<ellipse cx="157.8" cy="377.7" rx="2.56" ry="2.43" fill="none" stroke="#222" stroke-width="0.5" stroke-opacity="0.6" />
<ellipse cx="157.8" cy="377.7" rx="1.04" ry="0.99" fill="#eee" fill-opacity="0.9" />
<path d="M166.60,366.50 C166.92,367.17 168.10,369.15 168.50,370.50 C168.90,371.85 169.25,372.18 169.00,374.60 C168.75,377.02 167.70,381.28 167.00,385.00 C166.30,388.72 165.17,394.92 164.80,396.90" fill="none" stroke="#555" stroke-width="1.0" stroke-linejoin="round" />
<path d="M166.60,366.50 L219.20,366.50 L219.20,396.90 L164.80,396.90" fill="none" stroke="#555" stroke-width="1.0" stroke-linejoin="round" />
<text x="180.2" y="410" font-size="11.3" font-weight="normal" text-anchor="start" fill="#222" stroke="#222" stroke-width="0.12" >45%</text>
<path d="M137.4,373.04999999999995 L137.4,419.3 L184.15,419.3" fill="none" stroke="#000" stroke-width="1.4"/>
<path d="M133.0,380.44999999999993 L137.4,372.04999999999995 L141.8,380.44999999999993" fill="none" stroke="#000" stroke-width="2.3" stroke-linejoin="round" stroke-linecap="round"/>
<path d="M176.75,414.90000000000003 L185.15,419.3 L176.75,423.7" fill="none" stroke="#000" stroke-width="2.3" stroke-linejoin="round" stroke-linecap="round"/>
<text x="135.4" y="408.3" font-size="11.8" font-weight="normal" text-anchor="start" fill="#000" stroke="#000" stroke-width="0.12" transform="rotate(-90 135.4 408.3)">CD34</text>
<text x="149.6" y="431.3" font-size="11.8" font-weight="normal" text-anchor="start" fill="#000" stroke="#000" stroke-width="0.12" >GFP</text>
<rect x="246.5" y="35.9" width="77.20" height="53.40" fill="none" stroke="#9a9a9a" stroke-width="1.1"/>
<rect x="246.6" y="93.5" width="77.10" height="53.80" fill="none" stroke="#9a9a9a" stroke-width="1.1"/>
<rect x="246.5" y="163.5" width="77.20" height="54.30" fill="none" stroke="#9a9a9a" stroke-width="1.1"/>
<rect x="246.5" y="222.6" width="77.20" height="54.00" fill="none" stroke="#9a9a9a" stroke-width="1.1"/>
<rect x="246.5" y="298.5" width="76.70" height="53.00" fill="none" stroke="#9a9a9a" stroke-width="1.1"/>
<rect x="246.6" y="364.3" width="78.40" height="54.30" fill="none" stroke="#9a9a9a" stroke-width="1.1"/>
<path d="M250.00,89.00 L250.50,89.00 L251.00,89.00 L251.50,88.99 L252.00,88.98 L252.50,88.95 L253.00,88.89 L253.50,88.76 L254.00,88.50 L254.50,88.00 L255.00,87.12 L255.50,85.67 L256.00,83.42 L256.50,80.17 L257.00,75.79 L257.50,70.34 L258.00,64.08 L258.50,57.56 L259.00,51.52 L259.50,46.78 L260.00,44.06 L260.50,43.85 L261.00,46.58 L261.50,51.81 L262.00,58.58 L262.50,65.78 L263.00,72.46 L263.50,78.01 L264.00,82.18 L264.50,85.06 L265.00,86.87 L265.50,87.93 L266.00,88.50 L266.50,88.78 L267.00,88.91 L267.50,88.97 L268.00,88.99 L268.50,89.00 L269.00,89.00 L269.50,89.00 L270.00,89.00 L270.50,89.00 L271.00,89.00 L271.50,89.00 L272.00,89.00 L272.00,89.00 Z" fill="#6f6f6f" stroke="#6f6f6f" stroke-width="0.6" stroke-linejoin="round" />
<path d="M248.00,89.00 C248.67,88.83 250.92,89.00 252.00,88.00 C253.08,87.00 253.75,85.67 254.50,83.00 C255.25,80.33 255.92,76.17 256.50,72.00 C257.08,67.83 257.53,62.00 258.00,58.00 C258.47,54.00 258.88,50.47 259.30,48.00 C259.72,45.53 260.12,43.70 260.50,43.20 C260.88,42.70 261.22,43.37 261.60,45.00 C261.98,46.63 262.43,50.00 262.80,53.00 C263.17,56.00 263.48,59.58 263.80,63.00 C264.12,66.42 264.33,70.75 264.70,73.50 C265.07,76.25 265.45,77.75 266.00,79.50 C266.55,81.25 267.17,82.78 268.00,84.00 C268.83,85.22 269.83,86.10 271.00,86.80 C272.17,87.50 273.25,87.85 275.00,88.20 C276.75,88.55 279.00,88.75 281.50,88.90 C284.00,89.05 288.58,89.07 290.00,89.10" fill="none" stroke="#555" stroke-width="0.8" stroke-linejoin="round" />
<line x1="264.8" y1="73.5" x2="322.5" y2="73.5" stroke="#5a5a5a" stroke-width="1.0" />
<line x1="322.5" y1="72.2" x2="322.5" y2="74.8" stroke="#444" stroke-width="1.0" />
<line x1="264.8" y1="72.5" x2="264.8" y2="74.5" stroke="#444" stroke-width="0.9" />
<text x="284.6" y="71.8" font-size="11" font-weight="normal" text-anchor="start" fill="#222" stroke="#222" stroke-width="0.12" >2.9%</text>
<path d="M250.00,147.00 L250.50,147.00 L251.00,147.00 L251.50,147.00 L252.00,147.00 L252.50,146.98 L253.00,146.95 L253.50,146.86 L254.00,146.64 L254.50,146.13 L255.00,145.08 L255.50,143.14 L256.00,139.86 L256.50,134.89 L257.00,128.18 L257.50,120.17 L258.00,111.92 L258.50,104.93 L259.00,100.73 L259.50,100.23 L260.00,102.79 L260.50,107.74 L261.00,114.25 L261.50,121.33 L262.00,128.10 L262.50,133.93 L263.00,138.51 L263.50,141.82 L264.00,144.03 L264.50,145.40 L265.00,146.19 L265.50,146.62 L266.00,146.83 L266.50,146.93 L267.00,146.97 L267.50,146.99 L268.00,147.00 L268.50,147.00 L269.00,147.00 L269.50,147.00 L270.00,147.00 Z" fill="#6f6f6f" stroke="#6f6f6f" stroke-width="0.6" stroke-linejoin="round" />
<path d="M247.90,147.00 L252.00,136.00 L254.50,122.00 L256.50,112.60 L258.60,106.80 L259.30,100.00 L261.20,106.80 L263.50,104.00 L265.80,108.00 L267.50,109.20 L269.50,103.40 L271.50,105.70 L272.70,111.50 L274.80,116.00 L275.90,120.70 L277.30,126.50 L279.60,131.00 L281.90,138.00 L286.50,143.80 L293.50,146.70 L300.00,147.10" fill="none" stroke="#555" stroke-width="0.8" stroke-linejoin="round" />
<line x1="265.2" y1="129.9" x2="322.5" y2="129.9" stroke="#5a5a5a" stroke-width="1.0" />
<line x1="322.5" y1="128.6" x2="322.5" y2="131.20000000000002" stroke="#444" stroke-width="1.0" />
<line x1="265.2" y1="128.9" x2="265.2" y2="130.9" stroke="#444" stroke-width="0.9" />
<text x="283.3" y="126.9" font-size="11" font-weight="normal" text-anchor="start" fill="#222" stroke="#222" stroke-width="0.12" >54.2%</text>
<path d="M249.00,217.40 L249.50,217.40 L250.00,217.40 L250.50,217.40 L251.00,217.39 L251.50,217.38 L252.00,217.36 L252.50,217.31 L253.00,217.21 L253.50,217.01 L254.00,216.64 L254.50,215.98 L255.00,214.88 L255.50,213.15 L256.00,210.60 L256.50,207.07 L257.00,202.50 L257.50,196.98 L258.00,190.82 L258.50,184.56 L259.00,178.85 L259.50,174.44 L260.00,171.92 L260.50,171.59 L261.00,172.59 L261.50,174.62 L262.00,177.54 L262.50,181.16 L263.00,185.25 L263.50,189.56 L264.00,193.88 L264.50,198.00 L265.00,201.79 L265.50,205.14 L266.00,208.01 L266.50,210.37 L267.00,212.27 L267.50,213.75 L268.00,214.86 L268.50,215.68 L269.00,216.26 L269.50,216.66 L270.00,216.94 L270.50,217.11 L271.00,217.23 L271.50,217.30 L272.00,217.34 L272.50,217.37 L273.00,217.38 L273.50,217.39 L274.00,217.40 L274.50,217.40 L275.00,217.40 L275.50,217.40 L276.00,217.40 L276.50,217.40 L277.00,217.40 L277.50,217.40 L278.00,217.40 L278.50,217.40 L279.00,217.40 L279.50,217.40 L280.00,217.40 L280.50,217.40 L281.00,217.40 L281.50,217.40 L282.00,217.40 L282.50,217.40 L283.00,217.40 L283.50,217.40 L284.00,217.40 L284.50,217.40 L285.00,217.40 L285.50,217.40 L286.00,217.40 L286.50,217.40 L287.00,217.40 L287.50,217.40 L288.00,217.40 L288.50,217.40 L289.00,217.40 L289.50,217.40 L290.00,217.40 L290.50,217.40 L291.00,217.40 L291.50,217.40 L292.00,217.40 L292.50,217.40 L293.00,217.40 L293.50,217.40 L294.00,217.40 L294.50,217.40 L295.00,217.40 L295.50,217.40 L296.00,217.40 L296.50,217.40 L297.00,217.40 L297.50,217.40 L298.00,217.40 L298.50,217.40 L299.00,217.40 L299.50,217.40 L300.00,217.40 L300.00,217.40 Z" fill="#6f6f6f" stroke="#6f6f6f" stroke-width="0.6" stroke-linejoin="round" />
<path d="M249.00,217.40 L249.50,217.40 L250.00,217.40 L250.50,217.40 L251.00,217.39 L251.50,217.37 L252.00,217.34 L252.50,217.27 L253.00,217.14 L253.50,216.89 L254.00,216.44 L254.50,215.68 L255.00,214.47 L255.50,212.63 L256.00,210.00 L256.50,206.45 L257.00,201.94 L257.50,196.58 L258.00,190.65 L258.50,184.63 L259.00,179.10 L259.50,174.70 L260.00,171.99 L260.50,171.32 L261.00,171.94 L261.50,173.40 L262.00,175.64 L262.50,178.51 L263.00,181.88 L263.50,185.58 L264.00,189.44 L264.50,193.30 L265.00,197.02 L265.50,200.50 L266.00,203.65 L266.50,206.43 L267.00,208.81 L267.50,210.81 L268.00,212.43 L268.50,213.73 L269.00,214.74 L269.50,215.51 L270.00,216.08 L270.50,216.50 L271.00,216.80 L271.50,217.00 L272.00,217.14 L272.50,217.24 L273.00,217.30 L273.50,217.34 L274.00,217.36 L274.50,217.38 L275.00,217.39 L275.50,217.39 L276.00,217.40 L276.50,217.40 L277.00,217.40 L277.50,217.40 L278.00,217.40 L278.50,217.40 L279.00,217.40 L279.50,217.40 L280.00,217.40 L280.50,217.40 L281.00,217.40 L281.50,217.40 L282.00,217.40 L282.50,217.40 L283.00,217.40 L283.50,217.40 L284.00,217.40 L284.50,217.40 L285.00,217.40 L285.50,217.40 L286.00,217.40 L286.50,217.40 L287.00,217.40 L287.50,217.40 L288.00,217.40 L288.50,217.40 L289.00,217.40 L289.50,217.40 L290.00,217.40 L290.50,217.40 L291.00,217.40 L291.50,217.40 L292.00,217.40 L292.50,217.40 L293.00,217.40 L293.50,217.40 L294.00,217.40 L294.50,217.40 L295.00,217.40 L295.50,217.40 L296.00,217.40 L296.50,217.40 L297.00,217.40 L297.50,217.40 L298.00,217.40 L298.50,217.40 L299.00,217.40 L299.50,217.40 L300.00,217.40" fill="none" stroke="#555" stroke-width="0.7" stroke-linejoin="round" />
<line x1="265.5" y1="202" x2="321.5" y2="202" stroke="#5a5a5a" stroke-width="1.0" />
<line x1="321.5" y1="200.7" x2="321.5" y2="203.3" stroke="#444" stroke-width="1.0" />
<line x1="265.5" y1="201.0" x2="265.5" y2="203.0" stroke="#444" stroke-width="0.9" />
<text x="284.6" y="200.5" font-size="11" font-weight="normal" text-anchor="start" fill="#222" stroke="#222" stroke-width="0.12" >7.1%</text>
<path d="M250.00,276.30 L251.30,275.00 L253.00,268.00 L254.50,255.00 L256.00,242.00 L257.50,236.00 L258.60,235.00 L259.50,238.00 L260.50,234.50 L261.50,240.00 L263.50,246.50 L265.80,258.00 L268.00,269.60 L271.00,273.50 L275.00,275.00 L280.00,275.60 L290.00,276.10 L300.00,276.30 Z" fill="#6f6f6f" stroke="#6f6f6f" stroke-width="0.6" stroke-linejoin="round" />
<path d="M250.00,276.30 L251.50,274.00 L253.00,266.00 L254.50,252.00 L256.00,238.00 L257.30,231.50 L258.30,230.40 L259.50,232.00 L260.60,228.70 L261.50,232.00 L262.30,240.80 L264.00,247.70 L266.30,260.40 L269.20,267.30 L272.70,268.50 L275.60,270.80 L279.60,272.50 L286.50,274.20 L297.00,275.40 L310.00,276.20" fill="none" stroke="#555" stroke-width="0.8" stroke-linejoin="round" />
<line x1="269.2" y1="260" x2="322.5" y2="260" stroke="#5a5a5a" stroke-width="1.0" />
<line x1="322.5" y1="258.7" x2="322.5" y2="261.3" stroke="#444" stroke-width="1.0" />
<line x1="269.2" y1="259.0" x2="269.2" y2="261.0" stroke="#444" stroke-width="0.9" />
<text x="280.8" y="258" font-size="11" font-weight="normal" text-anchor="start" fill="#222" stroke="#222" stroke-width="0.12" >22.9%</text>
<path d="M247.00,351.20 L250.00,348.50 L253.00,345.00 L254.50,342.30 L256.00,343.50 L259.60,342.20 L262.70,329.80 L265.80,316.00 L267.00,307.00 L268.00,304.50 L269.00,307.00 L270.40,316.00 L272.70,331.40 L275.00,342.20 L278.00,347.50 L285.00,348.60 L291.00,349.00 L300.00,349.80 L306.50,350.60 L312.00,351.20 Z" fill="#6f6f6f" stroke="#6f6f6f" stroke-width="0.7" stroke-linejoin="round" />
<path d="M247.40,350.90 L250.40,348.20 L253.40,344.70 L254.90,342.00 L256.40,343.20 L260.00,341.90 L263.10,329.50 L266.20,315.70 L267.40,306.70 L268.40,304.20 L269.40,306.70 L270.80,315.70 L273.10,331.10 L275.40,341.90 L278.40,347.20 L285.40,348.30 L291.40,348.70 L300.40,349.50 L306.90,350.30 L312.40,350.90" fill="none" stroke="#444" stroke-width="0.8" stroke-linejoin="round" />
<line x1="275.8" y1="339.1" x2="320.7" y2="339.1" stroke="#5a5a5a" stroke-width="1.0" />
<line x1="320.7" y1="337.8" x2="320.7" y2="340.40000000000003" stroke="#444" stroke-width="1.0" />
<line x1="275.8" y1="338.1" x2="275.8" y2="340.1" stroke="#444" stroke-width="0.9" />
<text x="282.5" y="335.8" font-size="11" font-weight="normal" text-anchor="start" fill="#222" stroke="#222" stroke-width="0.12" >14.6%</text>
<path d="M252.70,418.30 L255.00,414.00 L257.50,400.00 L259.60,386.90 L261.20,384.60 L262.80,380.00 L263.80,376.20 L264.80,380.00 L265.80,385.40 L267.30,387.70 L268.80,398.50 L271.20,407.70 L273.50,413.80 L275.80,417.70 L277.00,418.30 Z" fill="#6f6f6f" stroke="#6f6f6f" stroke-width="0.6" stroke-linejoin="round" />
<path d="M248.80,418.30 L253.00,416.00 L257.30,413.00 L263.50,410.80 L267.30,406.20 L269.60,396.90 L271.20,383.10 L272.70,374.60 L274.20,376.90 L275.80,374.60 L277.30,376.90 L278.80,380.00 L280.40,387.70 L281.90,398.50 L283.50,409.20 L285.80,416.20 L291.20,417.70 L310.00,418.20" fill="none" stroke="#555" stroke-width="0.8" stroke-linejoin="round" />
<line x1="271.9" y1="404.3" x2="321.6" y2="404.3" stroke="#5a5a5a" stroke-width="1.0" />
<line x1="321.6" y1="403.0" x2="321.6" y2="405.6" stroke="#444" stroke-width="1.0" />
<line x1="271.9" y1="403.3" x2="271.9" y2="405.3" stroke="#444" stroke-width="0.9" />
<text x="281.8" y="399.2" font-size="11" font-weight="normal" text-anchor="start" fill="#222" stroke="#222" stroke-width="0.12" >69.8%</text>
<text x="265.0" y="431.3" font-size="12" font-weight="normal" text-anchor="start" fill="#000" stroke="#000" stroke-width="0.12" >LDL-R</text>
<rect x="343.2" y="35.8" width="77.30" height="53.40" fill="none" stroke="#9a9a9a" stroke-width="1.1"/>
<rect x="343.3" y="94" width="77.30" height="54.50" fill="none" stroke="#9a9a9a" stroke-width="1.1"/>
<rect x="343.3" y="164.2" width="77.30" height="53.90" fill="none" stroke="#9a9a9a" stroke-width="1.1"/>
<rect x="343.3" y="223.3" width="77.30" height="53.80" fill="none" stroke="#9a9a9a" stroke-width="1.1"/>
<rect x="342.3" y="296.3" width="78.30" height="54.30" fill="none" stroke="#9a9a9a" stroke-width="1.1"/>
<rect x="342.3" y="360.2" width="78.30" height="54.40" fill="none" stroke="#9a9a9a" stroke-width="1.1"/>
<rect x="428.3" y="35.8" width="78.20" height="53.40" fill="none" stroke="#9a9a9a" stroke-width="1.1"/>
<rect x="428.3" y="94" width="78.20" height="54.50" fill="none" stroke="#9a9a9a" stroke-width="1.1"/>
<rect x="428.3" y="164.2" width="78.20" height="53.90" fill="none" stroke="#9a9a9a" stroke-width="1.1"/>
<rect x="428.3" y="223.3" width="78.20" height="53.80" fill="none" stroke="#9a9a9a" stroke-width="1.1"/>
<rect x="428.1" y="296.7" width="78.10" height="54.50" fill="none" stroke="#9a9a9a" stroke-width="1.1"/>
<rect x="428.1" y="360.6" width="78.10" height="54.00" fill="none" stroke="#9a9a9a" stroke-width="1.1"/>
<path d="M366.60,54.00 L417.70,54.00 L417.70,87.30 L363.70,87.30 L366.60,83.80 Z" fill="none" stroke="#555" stroke-width="1.0" stroke-linejoin="round" />
<g fill="#777" fill-opacity="0.34"><circle cx="354.5" cy="74.8" r="0.50"/><circle cx="354.9" cy="80.8" r="0.43"/><circle cx="358.2" cy="78.9" r="0.50"/><circle cx="353.8" cy="80.8" r="0.49"/><circle cx="355.6" cy="79.6" r="0.35"/><circle cx="351.1" cy="79.5" r="0.46"/><circle cx="344.1" cy="78.4" r="0.31"/><circle cx="349.6" cy="70.5" r="0.36"/><circle cx="360.8" cy="77.8" r="0.33"/><circle cx="346.6" cy="78.6" r="0.32"/><circle cx="359.6" cy="80.1" r="0.34"/><circle cx="355.7" cy="81.3" r="0.33"/><circle cx="359.7" cy="78.6" r="0.42"/><circle cx="361.4" cy="75.0" r="0.32"/><circle cx="356.6" cy="83.5" r="0.44"/><circle cx="364.7" cy="69.5" r="0.51"/><circle cx="365.2" cy="83.1" r="0.43"/><circle cx="355.2" cy="79.4" r="0.52"/><circle cx="355.5" cy="78.6" r="0.37"/><circle cx="360.4" cy="75.0" r="0.48"/><circle cx="360.4" cy="79.0" r="0.38"/><circle cx="357.2" cy="82.7" r="0.39"/><circle cx="351.6" cy="77.3" r="0.30"/><circle cx="351.2" cy="73.1" r="0.31"/><circle cx="346.1" cy="78.2" r="0.43"/><circle cx="355.6" cy="81.7" r="0.45"/><circle cx="353.2" cy="75.2" r="0.50"/><circle cx="363.5" cy="74.8" r="0.51"/><circle cx="347.0" cy="83.4" r="0.35"/><circle cx="356.1" cy="82.3" r="0.53"/><circle cx="358.3" cy="78.4" r="0.31"/><circle cx="352.2" cy="77.8" r="0.35"/><circle cx="355.0" cy="71.7" r="0.53"/><circle cx="348.2" cy="80.5" r="0.30"/><circle cx="358.8" cy="76.1" r="0.42"/><circle cx="352.2" cy="75.1" r="0.51"/><circle cx="351.2" cy="77.8" r="0.54"/><circle cx="352.5" cy="80.7" r="0.39"/><circle cx="354.4" cy="76.2" r="0.39"/><circle cx="360.4" cy="83.4" r="0.30"/><circle cx="351.7" cy="75.1" r="0.41"/><circle cx="347.0" cy="74.6" r="0.33"/><circle cx="355.2" cy="79.0" r="0.54"/><circle cx="356.8" cy="78.8" r="0.43"/><circle cx="345.0" cy="72.9" r="0.31"/><circle cx="355.3" cy="79.4" r="0.45"/><circle cx="349.6" cy="78.2" r="0.52"/><circle cx="349.3" cy="70.3" r="0.54"/><circle cx="353.4" cy="86.5" r="0.40"/><circle cx="355.8" cy="77.5" r="0.37"/><circle cx="351.5" cy="87.1" r="0.52"/><circle cx="349.1" cy="79.4" r="0.51"/><circle cx="357.8" cy="71.5" r="0.43"/><circle cx="358.1" cy="79.0" r="0.46"/><circle cx="346.5" cy="73.3" r="0.52"/><circle cx="358.5" cy="76.4" r="0.32"/><circle cx="360.7" cy="73.9" r="0.35"/><circle cx="353.5" cy="74.1" r="0.36"/><circle cx="350.5" cy="80.6" r="0.47"/><circle cx="363.1" cy="79.9" r="0.46"/><circle cx="346.9" cy="78.1" r="0.50"/><circle cx="361.2" cy="77.3" r="0.47"/><circle cx="353.0" cy="71.4" r="0.35"/><circle cx="364.3" cy="75.2" r="0.36"/><circle cx="356.5" cy="81.0" r="0.54"/><circle cx="358.2" cy="75.3" r="0.48"/><circle cx="349.8" cy="81.6" r="0.49"/><circle cx="357.7" cy="79.0" r="0.35"/><circle cx="354.9" cy="78.1" r="0.33"/><circle cx="350.2" cy="79.3" r="0.32"/><circle cx="350.4" cy="75.3" r="0.48"/><circle cx="351.8" cy="78.0" r="0.42"/><circle cx="363.2" cy="77.7" r="0.34"/></g>
<g fill="#999" fill-opacity="0.26"><circle cx="381.6" cy="80.2" r="0.46"/><circle cx="371.7" cy="81.7" r="0.54"/><circle cx="378.1" cy="85.5" r="0.51"/><circle cx="367.5" cy="81.7" r="0.52"/><circle cx="375.5" cy="83.3" r="0.30"/><circle cx="367.4" cy="83.3" r="0.37"/><circle cx="380.7" cy="84.1" r="0.34"/><circle cx="379.8" cy="83.8" r="0.36"/><circle cx="381.6" cy="84.0" r="0.33"/><circle cx="399.4" cy="81.9" r="0.34"/><circle cx="375.0" cy="86.1" r="0.38"/><circle cx="372.1" cy="85.1" r="0.36"/><circle cx="383.2" cy="84.3" r="0.34"/><circle cx="389.4" cy="85.5" r="0.47"/><circle cx="379.0" cy="82.2" r="0.42"/><circle cx="377.6" cy="83.8" r="0.34"/><circle cx="377.2" cy="82.2" r="0.48"/><circle cx="381.1" cy="83.2" r="0.45"/><circle cx="384.5" cy="86.9" r="0.50"/><circle cx="381.5" cy="82.6" r="0.32"/><circle cx="374.7" cy="81.8" r="0.33"/><circle cx="383.7" cy="86.5" r="0.33"/><circle cx="376.0" cy="82.9" r="0.36"/><circle cx="371.2" cy="85.1" r="0.48"/></g>
<defs><radialGradient id="g9"><stop offset="0" stop-color="#888" stop-opacity="0.5"/><stop offset="1" stop-color="#bbb" stop-opacity="0"/></radialGradient></defs>
<ellipse cx="356" cy="80" rx="11" ry="7" fill="url(#g9)" />
<defs><radialGradient id="g10"><stop offset="0" stop-color="#1a1a1a" stop-opacity="0.95"/><stop offset="0.5" stop-color="#222" stop-opacity="0.95"/><stop offset="0.66" stop-color="#3a3a3a" stop-opacity="0.81"/><stop offset="0.82" stop-color="#777" stop-opacity="0.43"/><stop offset="1" stop-color="#aaa" stop-opacity="0"/></radialGradient></defs>
<ellipse cx="354.3" cy="82.8" rx="11.02" ry="5.51" fill="url(#g10)" transform="rotate(-5 354.3 82.8)"/>
<ellipse cx="354.3" cy="82.8" rx="5.70" ry="2.85" fill="none" stroke="#666" stroke-width="0.5" stroke-opacity="0.5" transform="rotate(-5 354.3 82.8)"/>
<ellipse cx="354.3" cy="82.8" rx="3.80" ry="1.90" fill="none" stroke="#666" stroke-width="0.5" stroke-opacity="0.5" transform="rotate(-5 354.3 82.8)"/>
<ellipse cx="354.3" cy="82.8" rx="1.67" ry="0.60" fill="#ddd" fill-opacity="0.85" transform="rotate(-5 354.3 82.8)"/>
<text x="389.6" y="69" font-size="11.3" font-weight="normal" text-anchor="start" fill="#222" stroke="#222" stroke-width="0.12" >0.7%</text>
<path d="M360.20,112.30 L417.90,112.30 L417.90,146.90 L359.00,146.90 L360.20,144.90 Z" fill="none" stroke="#555" stroke-width="1.0" stroke-linejoin="round" />
<g fill="#888" fill-opacity="0.26"><circle cx="359.9" cy="130.2" r="0.36"/><circle cx="350.2" cy="137.7" r="0.47"/><circle cx="353.2" cy="133.8" r="0.47"/><circle cx="351.8" cy="132.1" r="0.36"/><circle cx="353.3" cy="115.0" r="0.48"/><circle cx="350.4" cy="133.7" r="0.48"/><circle cx="358.4" cy="131.3" r="0.32"/><circle cx="357.7" cy="130.6" r="0.34"/><circle cx="348.8" cy="129.1" r="0.33"/><circle cx="345.9" cy="127.6" r="0.39"/><circle cx="350.7" cy="119.6" r="0.49"/><circle cx="353.5" cy="129.7" r="0.40"/><circle cx="348.2" cy="128.6" r="0.47"/><circle cx="352.8" cy="134.0" r="0.42"/><circle cx="350.0" cy="116.3" r="0.39"/><circle cx="358.4" cy="124.1" r="0.33"/><circle cx="345.2" cy="130.7" r="0.37"/><circle cx="354.2" cy="126.0" r="0.42"/><circle cx="348.9" cy="124.0" r="0.32"/><circle cx="352.0" cy="116.0" r="0.41"/><circle cx="356.3" cy="131.6" r="0.32"/><circle cx="353.6" cy="127.5" r="0.37"/><circle cx="352.3" cy="124.3" r="0.33"/><circle cx="354.7" cy="129.8" r="0.43"/><circle cx="353.5" cy="124.3" r="0.34"/><circle cx="352.5" cy="120.7" r="0.38"/><circle cx="354.7" cy="131.7" r="0.54"/><circle cx="354.9" cy="131.6" r="0.49"/><circle cx="348.7" cy="124.5" r="0.42"/><circle cx="350.3" cy="116.9" r="0.33"/><circle cx="356.4" cy="144.5" r="0.33"/><circle cx="353.8" cy="122.1" r="0.36"/><circle cx="351.8" cy="135.9" r="0.55"/><circle cx="357.8" cy="139.0" r="0.38"/><circle cx="355.9" cy="138.2" r="0.39"/><circle cx="354.0" cy="134.7" r="0.51"/><circle cx="356.3" cy="121.1" r="0.30"/><circle cx="352.6" cy="118.5" r="0.52"/><circle cx="356.2" cy="126.2" r="0.51"/><circle cx="353.6" cy="123.0" r="0.39"/><circle cx="348.7" cy="132.6" r="0.39"/><circle cx="354.8" cy="131.2" r="0.53"/><circle cx="346.0" cy="133.3" r="0.52"/></g>
<defs><radialGradient id="g11" cx="0.5" cy="0.72" r="0.6"><stop offset="0" stop-color="#222" stop-opacity="1.0"/><stop offset="0.45" stop-color="#333" stop-opacity="0.90"/><stop offset="0.8" stop-color="#888" stop-opacity="0.50"/><stop offset="1" stop-color="#aaa" stop-opacity="0.1"/></radialGradient></defs>
<path d="M353.60,127.45 C360.35,133.30 361.59,146.95 352.60,146.95 C343.61,146.95 344.85,133.30 353.60,127.45 Z" fill="url(#g11)" stroke="#555" stroke-width="0.6" stroke-opacity="0.6"/>
<path d="M349,131 C352,128 356,129 357,133" fill="none" stroke="#555" stroke-width="0.6"/>
<ellipse cx="352.5" cy="141.8" rx="1.1" ry="1.5" fill="#eee"/>
<text x="386.9" y="127.7" font-size="11.3" font-weight="normal" text-anchor="start" fill="#222" stroke="#222" stroke-width="0.12" >3.4%</text>
<path d="M338.0,104.65 L338.0,150.3 L384.15000000000003,150.3" fill="none" stroke="#000" stroke-width="1.4"/>
<path d="M333.6,112.05000000000001 L338.0,103.65 L342.4,112.05000000000001" fill="none" stroke="#000" stroke-width="2.3" stroke-linejoin="round" stroke-linecap="round"/>
<path d="M376.75000000000006,145.9 L385.15000000000003,150.3 L376.75000000000006,154.70000000000002" fill="none" stroke="#000" stroke-width="2.3" stroke-linejoin="round" stroke-linecap="round"/>
<text x="335.0" y="139.0" font-size="11.2" font-weight="normal" text-anchor="start" fill="#000" stroke="#000" stroke-width="0.12" transform="rotate(-90 335.0 139.0)">SSC</text>
<text x="349.4" y="161.3" font-size="11.6" font-weight="normal" text-anchor="start" fill="#000" stroke="#000" stroke-width="0.12" >GFP</text>
<path d="M368.50,182.90 L418.80,182.90 L418.80,216.20 L365.60,216.20 L368.50,210.20 Z" fill="none" stroke="#555" stroke-width="1.0" stroke-linejoin="round" />
<g fill="#777" fill-opacity="0.34"><circle cx="355.2" cy="202.4" r="0.53"/><circle cx="361.1" cy="194.9" r="0.48"/><circle cx="355.3" cy="198.6" r="0.36"/><circle cx="351.7" cy="202.2" r="0.51"/><circle cx="360.0" cy="208.2" r="0.38"/><circle cx="357.4" cy="202.1" r="0.51"/><circle cx="362.1" cy="199.1" r="0.33"/><circle cx="364.2" cy="202.8" r="0.47"/><circle cx="353.9" cy="204.1" r="0.52"/><circle cx="348.7" cy="203.9" r="0.38"/><circle cx="357.2" cy="199.0" r="0.52"/><circle cx="356.2" cy="208.1" r="0.36"/><circle cx="359.3" cy="206.8" r="0.31"/><circle cx="356.2" cy="202.6" r="0.32"/><circle cx="364.0" cy="207.4" r="0.35"/><circle cx="349.1" cy="205.8" r="0.50"/><circle cx="360.0" cy="204.1" r="0.46"/><circle cx="360.3" cy="202.6" r="0.52"/><circle cx="354.5" cy="202.0" r="0.52"/><circle cx="352.5" cy="204.3" r="0.45"/><circle cx="358.5" cy="201.3" r="0.42"/><circle cx="344.3" cy="208.6" r="0.47"/><circle cx="356.5" cy="208.2" r="0.39"/><circle cx="363.9" cy="203.6" r="0.33"/><circle cx="356.4" cy="204.5" r="0.45"/><circle cx="346.3" cy="207.3" r="0.41"/><circle cx="361.1" cy="207.3" r="0.51"/><circle cx="356.4" cy="201.8" r="0.36"/><circle cx="354.6" cy="198.7" r="0.35"/><circle cx="349.6" cy="206.4" r="0.48"/><circle cx="358.6" cy="204.0" r="0.38"/><circle cx="350.4" cy="210.0" r="0.35"/><circle cx="348.2" cy="203.8" r="0.47"/><circle cx="364.3" cy="211.9" r="0.55"/><circle cx="345.1" cy="202.7" r="0.35"/><circle cx="361.4" cy="202.6" r="0.49"/><circle cx="358.9" cy="202.6" r="0.53"/><circle cx="355.3" cy="205.7" r="0.43"/><circle cx="365.4" cy="200.5" r="0.54"/><circle cx="351.9" cy="204.3" r="0.46"/><circle cx="357.1" cy="201.5" r="0.45"/><circle cx="354.7" cy="207.8" r="0.41"/><circle cx="348.3" cy="204.7" r="0.32"/><circle cx="360.5" cy="205.1" r="0.48"/><circle cx="355.0" cy="202.4" r="0.36"/><circle cx="351.3" cy="204.8" r="0.45"/><circle cx="358.3" cy="203.7" r="0.45"/><circle cx="353.2" cy="199.3" r="0.48"/><circle cx="353.8" cy="202.3" r="0.51"/><circle cx="356.8" cy="204.5" r="0.54"/><circle cx="352.6" cy="205.5" r="0.32"/><circle cx="357.6" cy="200.0" r="0.34"/><circle cx="346.7" cy="206.2" r="0.55"/><circle cx="349.7" cy="210.1" r="0.36"/><circle cx="356.1" cy="207.0" r="0.40"/><circle cx="351.2" cy="203.0" r="0.34"/><circle cx="355.5" cy="206.4" r="0.35"/><circle cx="352.1" cy="208.8" r="0.35"/><circle cx="348.6" cy="205.5" r="0.54"/><circle cx="351.1" cy="205.4" r="0.45"/><circle cx="357.2" cy="206.7" r="0.32"/><circle cx="350.3" cy="196.3" r="0.40"/><circle cx="351.2" cy="207.9" r="0.39"/><circle cx="352.8" cy="201.7" r="0.34"/><circle cx="360.1" cy="201.6" r="0.30"/><circle cx="360.7" cy="200.4" r="0.39"/><circle cx="345.8" cy="199.3" r="0.40"/><circle cx="350.4" cy="206.2" r="0.44"/><circle cx="349.9" cy="200.1" r="0.54"/><circle cx="358.5" cy="207.6" r="0.51"/><circle cx="357.0" cy="200.5" r="0.47"/><circle cx="347.3" cy="212.1" r="0.44"/><circle cx="351.9" cy="206.3" r="0.33"/><circle cx="363.6" cy="201.2" r="0.31"/><circle cx="352.0" cy="208.6" r="0.42"/><circle cx="346.7" cy="210.6" r="0.39"/></g>
<g fill="#999" fill-opacity="0.26"><circle cx="374.9" cy="211.3" r="0.38"/><circle cx="372.7" cy="214.8" r="0.50"/><circle cx="379.6" cy="214.9" r="0.40"/><circle cx="374.5" cy="212.6" r="0.38"/><circle cx="381.8" cy="211.9" r="0.47"/><circle cx="384.5" cy="213.2" r="0.31"/><circle cx="381.4" cy="211.9" r="0.36"/><circle cx="385.1" cy="213.6" r="0.48"/><circle cx="377.1" cy="208.7" r="0.54"/><circle cx="393.5" cy="215.4" r="0.41"/><circle cx="384.4" cy="211.5" r="0.32"/><circle cx="388.2" cy="210.6" r="0.45"/><circle cx="381.9" cy="212.9" r="0.31"/><circle cx="381.0" cy="213.3" r="0.48"/><circle cx="377.7" cy="212.3" r="0.34"/><circle cx="384.0" cy="215.5" r="0.47"/><circle cx="386.5" cy="212.6" r="0.54"/><circle cx="373.6" cy="213.8" r="0.36"/><circle cx="390.9" cy="212.9" r="0.34"/><circle cx="381.7" cy="214.0" r="0.39"/><circle cx="379.8" cy="212.3" r="0.43"/><circle cx="379.2" cy="212.5" r="0.41"/><circle cx="382.3" cy="210.5" r="0.41"/><circle cx="387.0" cy="211.2" r="0.38"/><circle cx="389.9" cy="209.6" r="0.44"/></g>
<defs><radialGradient id="g12"><stop offset="0" stop-color="#888" stop-opacity="0.5"/><stop offset="1" stop-color="#bbb" stop-opacity="0"/></radialGradient></defs>
<ellipse cx="356" cy="208.5" rx="11" ry="7" fill="url(#g12)" />
<defs><radialGradient id="g13"><stop offset="0" stop-color="#1a1a1a" stop-opacity="0.95"/><stop offset="0.5" stop-color="#222" stop-opacity="0.95"/><stop offset="0.66" stop-color="#3a3a3a" stop-opacity="0.81"/><stop offset="0.82" stop-color="#777" stop-opacity="0.43"/><stop offset="1" stop-color="#aaa" stop-opacity="0"/></radialGradient></defs>
<ellipse cx="354.3" cy="211.5" rx="11.31" ry="5.51" fill="url(#g13)" />
<ellipse cx="354.3" cy="211.5" rx="5.85" ry="2.85" fill="none" stroke="#666" stroke-width="0.5" stroke-opacity="0.5" />
<ellipse cx="354.3" cy="211.5" rx="3.90" ry="1.90" fill="none" stroke="#666" stroke-width="0.5" stroke-opacity="0.5" />
<ellipse cx="354.3" cy="211.5" rx="1.72" ry="0.60" fill="#ddd" fill-opacity="0.85" />
<text x="386.2" y="198.8" font-size="11.3" font-weight="normal" text-anchor="start" fill="#222" stroke="#222" stroke-width="0.12" >4.5%</text>
<path d="M363.20,241.50 L418.80,241.50 L418.80,274.40 L360.80,274.40 L363.20,270.90 Z" fill="none" stroke="#555" stroke-width="1.0" stroke-linejoin="round" />
<g fill="#888" fill-opacity="0.26"><circle cx="354.9" cy="260.9" r="0.40"/><circle cx="352.8" cy="257.5" r="0.50"/><circle cx="354.3" cy="251.0" r="0.30"/><circle cx="354.5" cy="252.1" r="0.47"/><circle cx="345.7" cy="253.9" r="0.40"/><circle cx="359.2" cy="254.4" r="0.38"/><circle cx="350.2" cy="261.3" r="0.53"/><circle cx="355.3" cy="247.8" r="0.51"/><circle cx="360.6" cy="257.5" r="0.38"/><circle cx="353.2" cy="253.3" r="0.45"/><circle cx="358.4" cy="267.9" r="0.42"/><circle cx="351.2" cy="271.4" r="0.32"/><circle cx="360.6" cy="253.7" r="0.34"/><circle cx="353.5" cy="250.2" r="0.53"/><circle cx="348.5" cy="254.7" r="0.53"/><circle cx="360.4" cy="263.4" r="0.33"/><circle cx="352.6" cy="260.9" r="0.52"/><circle cx="345.5" cy="261.5" r="0.36"/><circle cx="352.1" cy="249.4" r="0.32"/><circle cx="345.0" cy="258.4" r="0.35"/><circle cx="350.7" cy="254.0" r="0.39"/><circle cx="358.3" cy="257.9" r="0.44"/><circle cx="356.0" cy="248.6" r="0.41"/><circle cx="356.3" cy="253.4" r="0.54"/><circle cx="350.5" cy="258.5" r="0.49"/><circle cx="357.6" cy="265.1" r="0.31"/><circle cx="359.2" cy="257.4" r="0.49"/><circle cx="357.8" cy="264.3" r="0.39"/><circle cx="353.1" cy="269.0" r="0.31"/><circle cx="350.9" cy="258.4" r="0.51"/><circle cx="354.0" cy="257.0" r="0.42"/><circle cx="345.2" cy="259.8" r="0.48"/><circle cx="346.6" cy="269.6" r="0.35"/><circle cx="359.0" cy="266.3" r="0.33"/><circle cx="355.3" cy="264.5" r="0.38"/><circle cx="358.9" cy="269.9" r="0.42"/><circle cx="353.8" cy="253.6" r="0.53"/><circle cx="355.0" cy="270.8" r="0.45"/></g>
<defs><radialGradient id="g14"><stop offset="0" stop-color="#888" stop-opacity="0.4"/><stop offset="1" stop-color="#bbb" stop-opacity="0"/></radialGradient></defs>
<ellipse cx="353.5" cy="262" rx="8" ry="10" fill="url(#g14)" />
<defs><radialGradient id="g15"><stop offset="0" stop-color="#1a1a1a" stop-opacity="0.95"/><stop offset="0.5" stop-color="#222" stop-opacity="0.95"/><stop offset="0.66" stop-color="#3a3a3a" stop-opacity="0.81"/><stop offset="0.82" stop-color="#777" stop-opacity="0.43"/><stop offset="1" stop-color="#aaa" stop-opacity="0"/></radialGradient></defs>
<ellipse cx="353.6" cy="267.3" rx="8.88" ry="11.04" fill="url(#g15)" />
<ellipse cx="353.6" cy="267.3" rx="5.55" ry="6.90" fill="none" stroke="#666" stroke-width="0.5" stroke-opacity="0.5" />
<ellipse cx="353.6" cy="267.3" rx="3.70" ry="4.60" fill="none" stroke="#666" stroke-width="0.5" stroke-opacity="0.5" />
<ellipse cx="353.2" cy="269" rx="0.9" ry="2.4" fill="#ddd" fill-opacity="0.9"/>
<text x="386.2" y="257" font-size="11.3" font-weight="normal" text-anchor="start" fill="#222" stroke="#222" stroke-width="0.12" >2.9%</text>
<path d="M338.0,237.75 L338.0,282.8 L384.35,282.8" fill="none" stroke="#000" stroke-width="1.4"/>
<path d="M333.6,245.15 L338.0,236.75 L342.4,245.15" fill="none" stroke="#000" stroke-width="2.3" stroke-linejoin="round" stroke-linecap="round"/>
<path d="M376.95000000000005,278.40000000000003 L385.35,282.8 L376.95000000000005,287.2" fill="none" stroke="#000" stroke-width="2.3" stroke-linejoin="round" stroke-linecap="round"/>
<text x="335.0" y="271.8" font-size="11.2" font-weight="normal" text-anchor="start" fill="#000" stroke="#000" stroke-width="0.12" transform="rotate(-90 335.0 271.8)">SSC</text>
<text x="349.8" y="293.4" font-size="11.6" font-weight="normal" text-anchor="start" fill="#000" stroke="#000" stroke-width="0.12" >GFP</text>
<path d="M360.30,313.70 L415.40,313.70 L415.40,347.70 L357.40,347.70 L360.30,343.20 Z" fill="none" stroke="#555" stroke-width="1.0" stroke-linejoin="round" />
<g fill="#888" fill-opacity="0.30"><circle cx="359.6" cy="330.1" r="0.46"/><circle cx="343.3" cy="329.6" r="0.41"/><circle cx="354.3" cy="323.5" r="0.49"/><circle cx="352.6" cy="338.7" r="0.51"/><circle cx="355.6" cy="339.7" r="0.44"/><circle cx="349.7" cy="334.0" r="0.33"/><circle cx="346.8" cy="333.3" r="0.37"/><circle cx="348.1" cy="337.6" r="0.49"/><circle cx="349.7" cy="330.1" r="0.52"/><circle cx="344.3" cy="343.2" r="0.55"/><circle cx="355.8" cy="338.1" r="0.54"/><circle cx="347.7" cy="337.0" r="0.38"/><circle cx="355.0" cy="332.7" r="0.33"/><circle cx="350.6" cy="340.3" r="0.44"/><circle cx="358.5" cy="329.1" r="0.39"/><circle cx="358.1" cy="329.3" r="0.44"/><circle cx="356.4" cy="325.2" r="0.39"/><circle cx="349.0" cy="328.9" r="0.54"/><circle cx="352.4" cy="348.1" r="0.32"/><circle cx="357.7" cy="332.5" r="0.35"/><circle cx="349.7" cy="331.9" r="0.51"/><circle cx="348.7" cy="324.0" r="0.53"/><circle cx="358.8" cy="331.6" r="0.48"/><circle cx="353.4" cy="332.0" r="0.41"/><circle cx="355.8" cy="331.0" r="0.44"/><circle cx="356.7" cy="332.3" r="0.53"/><circle cx="344.9" cy="326.0" r="0.30"/><circle cx="352.8" cy="335.6" r="0.51"/><circle cx="351.0" cy="344.3" r="0.43"/><circle cx="346.8" cy="346.0" r="0.40"/><circle cx="351.5" cy="329.9" r="0.51"/><circle cx="354.2" cy="331.7" r="0.49"/><circle cx="351.7" cy="335.4" r="0.39"/><circle cx="346.1" cy="319.4" r="0.55"/><circle cx="358.3" cy="331.7" r="0.46"/><circle cx="355.8" cy="340.2" r="0.44"/><circle cx="345.9" cy="342.0" r="0.36"/><circle cx="353.7" cy="334.7" r="0.34"/><circle cx="345.1" cy="326.3" r="0.34"/><circle cx="346.1" cy="331.9" r="0.44"/><circle cx="347.2" cy="335.9" r="0.30"/><circle cx="356.4" cy="334.2" r="0.36"/></g>
<defs><radialGradient id="g16"><stop offset="0" stop-color="#888" stop-opacity="0.4"/><stop offset="1" stop-color="#bbb" stop-opacity="0"/></radialGradient></defs>
<ellipse cx="352" cy="337" rx="8" ry="8" fill="url(#g16)" />
<defs><radialGradient id="g17"><stop offset="0" stop-color="#1a1a1a" stop-opacity="0.95"/><stop offset="0.5" stop-color="#222" stop-opacity="0.95"/><stop offset="0.66" stop-color="#3a3a3a" stop-opacity="0.81"/><stop offset="0.82" stop-color="#777" stop-opacity="0.43"/><stop offset="1" stop-color="#aaa" stop-opacity="0"/></radialGradient></defs>
<ellipse cx="351.1" cy="341.2" rx="9.72" ry="7.43" fill="url(#g17)" />
<ellipse cx="351.1" cy="341.2" rx="5.40" ry="4.12" fill="none" stroke="#666" stroke-width="0.5" stroke-opacity="0.5" />
<ellipse cx="351.1" cy="341.2" rx="3.60" ry="2.75" fill="none" stroke="#666" stroke-width="0.5" stroke-opacity="0.5" />
<ellipse cx="351.1" cy="341.2" rx="1.58" ry="0.66" fill="#ddd" fill-opacity="0.85" />
<text x="386.2" y="329" font-size="11.3" font-weight="normal" text-anchor="start" fill="#222" stroke="#222" stroke-width="0.12" >0.2%</text>
<path d="M363.30,378.50 L418.80,378.50 L418.80,412.70 L360.30,412.70 L363.30,404.70 Z" fill="none" stroke="#555" stroke-width="1.0" stroke-linejoin="round" />
<g fill="#888" fill-opacity="0.26"><circle cx="356.2" cy="389.8" r="0.51"/><circle cx="356.2" cy="398.1" r="0.42"/><circle cx="351.2" cy="399.1" r="0.49"/><circle cx="357.8" cy="405.3" r="0.51"/><circle cx="348.1" cy="397.4" r="0.53"/><circle cx="352.5" cy="392.3" r="0.32"/><circle cx="361.5" cy="398.1" r="0.32"/><circle cx="351.6" cy="389.1" r="0.38"/><circle cx="356.1" cy="399.1" r="0.38"/><circle cx="349.1" cy="408.7" r="0.48"/><circle cx="352.2" cy="396.8" r="0.31"/><circle cx="353.6" cy="391.7" r="0.46"/><circle cx="354.3" cy="397.8" r="0.49"/><circle cx="354.3" cy="386.8" r="0.34"/><circle cx="352.4" cy="388.5" r="0.47"/><circle cx="361.0" cy="395.1" r="0.40"/><circle cx="357.0" cy="397.8" r="0.47"/><circle cx="354.9" cy="405.4" r="0.36"/><circle cx="347.3" cy="401.2" r="0.41"/><circle cx="357.5" cy="397.2" r="0.44"/><circle cx="351.4" cy="395.3" r="0.47"/><circle cx="343.3" cy="395.4" r="0.37"/><circle cx="352.2" cy="395.6" r="0.42"/><circle cx="353.0" cy="386.3" r="0.54"/><circle cx="357.1" cy="391.7" r="0.38"/><circle cx="354.9" cy="388.6" r="0.47"/><circle cx="348.6" cy="403.2" r="0.37"/><circle cx="359.1" cy="395.1" r="0.48"/><circle cx="355.3" cy="391.6" r="0.40"/><circle cx="355.7" cy="394.5" r="0.31"/><circle cx="347.4" cy="406.3" r="0.55"/><circle cx="349.6" cy="408.9" r="0.50"/><circle cx="358.8" cy="403.0" r="0.42"/><circle cx="352.5" cy="400.8" r="0.43"/><circle cx="351.8" cy="392.4" r="0.37"/><circle cx="347.7" cy="394.8" r="0.40"/><circle cx="353.7" cy="391.2" r="0.43"/><circle cx="354.1" cy="406.8" r="0.48"/><circle cx="357.6" cy="386.7" r="0.36"/><circle cx="351.9" cy="399.1" r="0.40"/><circle cx="352.7" cy="382.5" r="0.42"/><circle cx="355.4" cy="390.2" r="0.41"/></g>
<path d="M362.00,398.00 C363.00,397.83 366.00,396.83 368.00,397.00 C370.00,397.17 372.67,398.08 374.00,399.00 C375.33,399.92 376.33,401.33 376.00,402.50 C375.67,403.67 374.00,405.33 372.00,406.00 C370.00,406.67 365.83,406.83 364.00,406.50 C362.17,406.17 361.50,404.42 361.00,404.00" fill="none" stroke="#666" stroke-width="0.6" stroke-linejoin="round" />
<path d="M363.00,400.00 C363.83,399.92 366.50,399.25 368.00,399.50 C369.50,399.75 371.33,400.67 372.00,401.50 C372.67,402.33 373.00,403.92 372.00,404.50 C371.00,405.08 367.50,405.25 366.00,405.00 C364.50,404.75 363.50,403.33 363.00,403.00" fill="none" stroke="#777" stroke-width="0.5" stroke-linejoin="round" />
<defs><radialGradient id="g18" cx="0.5" cy="0.72" r="0.6"><stop offset="0" stop-color="#222" stop-opacity="0.9"/><stop offset="0.45" stop-color="#333" stop-opacity="0.81"/><stop offset="0.8" stop-color="#888" stop-opacity="0.45"/><stop offset="1" stop-color="#aaa" stop-opacity="0.1"/></radialGradient></defs>
<path d="M356.00,391.25 C362.50,396.80 364.02,409.75 353.00,409.75 C341.98,409.75 343.50,396.80 356.00,391.25 Z" fill="url(#g18)" stroke="#555" stroke-width="0.6" stroke-opacity="0.6"/>
<ellipse cx="352" cy="404" rx="1.5" ry="1.3" fill="#eee"/>
<text x="382.7" y="396.7" font-size="11.3" font-weight="normal" text-anchor="start" fill="#222" stroke="#222" stroke-width="0.12" >15.7%</text>
<path d="M337.6,372.65 L337.6,418.2 L384.45000000000005,418.2" fill="none" stroke="#000" stroke-width="1.4"/>
<path d="M333.20000000000005,380.04999999999995 L337.6,371.65 L342.0,380.04999999999995" fill="none" stroke="#000" stroke-width="2.3" stroke-linejoin="round" stroke-linecap="round"/>
<path d="M377.05000000000007,413.8 L385.45000000000005,418.2 L377.05000000000007,422.59999999999997" fill="none" stroke="#000" stroke-width="2.3" stroke-linejoin="round" stroke-linecap="round"/>
<text x="334.8" y="406.7" font-size="11.4" font-weight="normal" text-anchor="start" fill="#000" stroke="#000" stroke-width="0.12" transform="rotate(-90 334.8 406.7)">SSC</text>
<text x="349.8" y="429.9" font-size="11.6" font-weight="normal" text-anchor="start" fill="#000" stroke="#000" stroke-width="0.12" >GFP</text>
<path d="M453.20,53.70 L503.70,53.70 L503.70,87.30 L449.60,87.30 L453.20,83.30 Z" fill="none" stroke="#555" stroke-width="1.0" stroke-linejoin="round" />
<g fill="#777" fill-opacity="0.34"><circle cx="437.7" cy="79.7" r="0.39"/><circle cx="442.4" cy="70.5" r="0.35"/><circle cx="443.4" cy="84.0" r="0.46"/><circle cx="436.9" cy="71.9" r="0.47"/><circle cx="441.6" cy="78.4" r="0.39"/><circle cx="430.2" cy="76.1" r="0.54"/><circle cx="443.9" cy="74.3" r="0.38"/><circle cx="441.3" cy="72.4" r="0.39"/><circle cx="440.8" cy="81.6" r="0.48"/><circle cx="447.8" cy="73.8" r="0.41"/><circle cx="433.5" cy="87.0" r="0.35"/><circle cx="445.6" cy="79.7" r="0.53"/><circle cx="446.3" cy="74.1" r="0.51"/><circle cx="448.5" cy="74.3" r="0.35"/><circle cx="443.1" cy="73.2" r="0.33"/><circle cx="449.1" cy="74.5" r="0.40"/><circle cx="436.9" cy="75.3" r="0.31"/><circle cx="436.0" cy="79.5" r="0.30"/><circle cx="432.6" cy="81.9" r="0.38"/><circle cx="437.2" cy="71.9" r="0.35"/><circle cx="436.9" cy="74.9" r="0.35"/><circle cx="443.1" cy="82.3" r="0.44"/><circle cx="441.0" cy="78.0" r="0.38"/><circle cx="435.3" cy="72.7" r="0.43"/><circle cx="446.0" cy="78.9" r="0.38"/><circle cx="435.4" cy="78.9" r="0.53"/><circle cx="443.0" cy="84.9" r="0.36"/><circle cx="435.4" cy="75.0" r="0.31"/><circle cx="446.2" cy="70.0" r="0.37"/><circle cx="443.5" cy="72.5" r="0.55"/><circle cx="449.4" cy="78.3" r="0.36"/><circle cx="432.2" cy="72.1" r="0.51"/><circle cx="434.4" cy="75.8" r="0.50"/><circle cx="446.9" cy="78.9" r="0.49"/><circle cx="449.5" cy="79.4" r="0.35"/><circle cx="445.5" cy="77.0" r="0.32"/><circle cx="436.2" cy="80.1" r="0.43"/><circle cx="439.0" cy="83.0" r="0.43"/><circle cx="446.8" cy="76.7" r="0.43"/><circle cx="434.3" cy="77.2" r="0.52"/><circle cx="446.1" cy="84.9" r="0.39"/><circle cx="436.3" cy="81.7" r="0.44"/><circle cx="441.3" cy="78.6" r="0.54"/><circle cx="439.3" cy="78.4" r="0.46"/><circle cx="435.0" cy="76.3" r="0.38"/><circle cx="446.1" cy="74.0" r="0.40"/><circle cx="449.3" cy="76.0" r="0.40"/><circle cx="448.2" cy="82.0" r="0.47"/><circle cx="434.3" cy="78.4" r="0.36"/><circle cx="444.2" cy="72.7" r="0.51"/><circle cx="432.8" cy="81.6" r="0.31"/><circle cx="445.8" cy="87.0" r="0.47"/><circle cx="437.8" cy="72.8" r="0.42"/><circle cx="443.6" cy="79.3" r="0.46"/><circle cx="439.9" cy="74.1" r="0.46"/><circle cx="449.2" cy="81.2" r="0.34"/><circle cx="435.1" cy="76.8" r="0.44"/><circle cx="448.1" cy="80.4" r="0.45"/><circle cx="446.6" cy="79.6" r="0.47"/><circle cx="431.4" cy="75.4" r="0.49"/><circle cx="436.9" cy="75.8" r="0.41"/><circle cx="447.0" cy="72.5" r="0.49"/><circle cx="436.3" cy="80.3" r="0.54"/><circle cx="447.1" cy="71.8" r="0.33"/><circle cx="440.4" cy="76.3" r="0.53"/><circle cx="440.3" cy="84.7" r="0.34"/><circle cx="446.6" cy="72.7" r="0.30"/><circle cx="448.6" cy="74.3" r="0.51"/><circle cx="438.3" cy="72.4" r="0.52"/><circle cx="447.0" cy="85.2" r="0.38"/><circle cx="449.2" cy="77.6" r="0.32"/><circle cx="445.4" cy="78.6" r="0.37"/><circle cx="438.8" cy="85.8" r="0.53"/><circle cx="438.5" cy="86.0" r="0.50"/><circle cx="441.4" cy="74.1" r="0.32"/><circle cx="451.0" cy="74.7" r="0.45"/><circle cx="444.9" cy="75.3" r="0.47"/><circle cx="436.9" cy="77.7" r="0.54"/></g>
<g fill="#999" fill-opacity="0.26"><circle cx="467.9" cy="82.4" r="0.47"/><circle cx="460.5" cy="85.1" r="0.35"/><circle cx="472.3" cy="83.3" r="0.43"/><circle cx="463.1" cy="84.0" r="0.49"/><circle cx="464.5" cy="78.9" r="0.39"/><circle cx="466.9" cy="86.2" r="0.48"/><circle cx="460.5" cy="81.9" r="0.43"/><circle cx="455.6" cy="84.5" r="0.50"/><circle cx="470.3" cy="85.1" r="0.46"/><circle cx="457.3" cy="84.3" r="0.44"/><circle cx="466.7" cy="86.6" r="0.30"/><circle cx="466.8" cy="82.2" r="0.51"/><circle cx="454.7" cy="82.9" r="0.46"/><circle cx="467.7" cy="80.3" r="0.50"/><circle cx="470.0" cy="83.5" r="0.33"/><circle cx="456.9" cy="85.6" r="0.34"/><circle cx="461.5" cy="84.9" r="0.35"/><circle cx="460.4" cy="83.2" r="0.42"/><circle cx="456.6" cy="83.4" r="0.43"/><circle cx="465.8" cy="83.6" r="0.53"/><circle cx="465.7" cy="84.7" r="0.49"/><circle cx="456.0" cy="82.7" r="0.35"/><circle cx="466.3" cy="81.9" r="0.48"/><circle cx="460.4" cy="82.1" r="0.42"/><circle cx="475.5" cy="85.4" r="0.47"/><circle cx="470.8" cy="86.6" r="0.48"/></g>
<defs><radialGradient id="g19"><stop offset="0" stop-color="#888" stop-opacity="0.5"/><stop offset="1" stop-color="#bbb" stop-opacity="0"/></radialGradient></defs>
<ellipse cx="443" cy="80" rx="13" ry="7" fill="url(#g19)" />
<defs><radialGradient id="g20"><stop offset="0" stop-color="#1a1a1a" stop-opacity="0.95"/><stop offset="0.5" stop-color="#222" stop-opacity="0.95"/><stop offset="0.66" stop-color="#3a3a3a" stop-opacity="0.81"/><stop offset="0.82" stop-color="#777" stop-opacity="0.43"/><stop offset="1" stop-color="#aaa" stop-opacity="0"/></radialGradient></defs>
<ellipse cx="441.5" cy="83.0" rx="14.70" ry="6.16" fill="url(#g20)" />
<ellipse cx="441.5" cy="83.0" rx="7.88" ry="3.30" fill="none" stroke="#666" stroke-width="0.5" stroke-opacity="0.5" />
<ellipse cx="441.5" cy="83.0" rx="5.25" ry="2.20" fill="none" stroke="#666" stroke-width="0.5" stroke-opacity="0.5" />
<ellipse cx="441.5" cy="83.0" rx="2.31" ry="0.60" fill="#ddd" fill-opacity="0.85" />
<text x="472" y="69" font-size="11.3" font-weight="normal" text-anchor="start" fill="#222" stroke="#222" stroke-width="0.12" >4.5%</text>
<path d="M445.30,112.50 L503.00,112.50 L503.00,147.00 L444.30,147.00 L445.30,145.00 Z" fill="none" stroke="#555" stroke-width="1.0" stroke-linejoin="round" />
<g fill="#888" fill-opacity="0.26"><circle cx="468.8" cy="139.9" r="0.52"/><circle cx="461.5" cy="133.7" r="0.32"/><circle cx="454.9" cy="135.0" r="0.42"/><circle cx="455.0" cy="137.9" r="0.42"/><circle cx="444.0" cy="140.9" r="0.48"/><circle cx="459.8" cy="135.3" r="0.30"/><circle cx="452.9" cy="134.9" r="0.47"/><circle cx="460.6" cy="109.3" r="0.35"/><circle cx="469.7" cy="134.7" r="0.40"/><circle cx="463.2" cy="129.1" r="0.38"/><circle cx="474.6" cy="139.5" r="0.43"/><circle cx="446.0" cy="134.7" r="0.49"/><circle cx="460.0" cy="125.0" r="0.34"/><circle cx="439.2" cy="140.2" r="0.40"/><circle cx="448.9" cy="124.4" r="0.42"/><circle cx="449.0" cy="129.6" r="0.44"/><circle cx="457.4" cy="129.9" r="0.39"/><circle cx="473.2" cy="118.8" r="0.30"/><circle cx="446.1" cy="124.9" r="0.51"/><circle cx="450.3" cy="132.7" r="0.38"/><circle cx="451.6" cy="121.0" r="0.35"/><circle cx="446.8" cy="124.0" r="0.46"/><circle cx="464.6" cy="133.0" r="0.38"/><circle cx="448.3" cy="128.4" r="0.33"/><circle cx="451.4" cy="126.9" r="0.50"/><circle cx="451.1" cy="140.3" r="0.50"/><circle cx="465.9" cy="139.5" r="0.32"/><circle cx="456.9" cy="131.4" r="0.48"/><circle cx="451.2" cy="135.2" r="0.40"/><circle cx="445.7" cy="131.9" r="0.33"/><circle cx="447.5" cy="131.2" r="0.54"/><circle cx="447.9" cy="137.0" r="0.36"/><circle cx="462.8" cy="130.8" r="0.46"/><circle cx="459.5" cy="125.9" r="0.49"/><circle cx="454.2" cy="135.3" r="0.31"/><circle cx="437.6" cy="136.5" r="0.35"/><circle cx="440.8" cy="136.3" r="0.37"/><circle cx="461.3" cy="138.9" r="0.41"/><circle cx="472.8" cy="126.4" r="0.36"/><circle cx="446.3" cy="129.3" r="0.31"/><circle cx="436.2" cy="137.3" r="0.38"/><circle cx="442.9" cy="126.3" r="0.32"/><circle cx="458.8" cy="130.5" r="0.38"/><circle cx="454.6" cy="130.6" r="0.39"/><circle cx="462.1" cy="137.7" r="0.30"/><circle cx="458.7" cy="136.0" r="0.32"/><circle cx="460.0" cy="134.5" r="0.43"/><circle cx="465.9" cy="141.8" r="0.40"/><circle cx="454.9" cy="137.2" r="0.51"/><circle cx="469.2" cy="135.3" r="0.32"/><circle cx="463.7" cy="129.6" r="0.45"/><circle cx="457.7" cy="129.6" r="0.32"/><circle cx="450.8" cy="123.3" r="0.48"/><circle cx="453.2" cy="140.1" r="0.35"/><circle cx="448.2" cy="134.2" r="0.45"/><circle cx="452.8" cy="137.3" r="0.46"/><circle cx="468.9" cy="138.4" r="0.42"/><circle cx="455.6" cy="135.4" r="0.43"/><circle cx="440.7" cy="131.7" r="0.39"/><circle cx="438.8" cy="139.7" r="0.37"/><circle cx="473.9" cy="130.2" r="0.55"/><circle cx="461.5" cy="130.1" r="0.50"/><circle cx="450.4" cy="128.9" r="0.55"/><circle cx="445.2" cy="121.8" r="0.44"/><circle cx="470.8" cy="138.7" r="0.34"/><circle cx="454.3" cy="141.7" r="0.35"/><circle cx="441.2" cy="134.6" r="0.32"/><circle cx="452.7" cy="129.2" r="0.42"/><circle cx="446.9" cy="123.4" r="0.31"/><circle cx="447.7" cy="136.7" r="0.39"/><circle cx="450.1" cy="121.2" r="0.46"/><circle cx="445.4" cy="137.2" r="0.43"/><circle cx="470.2" cy="129.3" r="0.55"/><circle cx="438.2" cy="134.9" r="0.36"/><circle cx="454.3" cy="120.9" r="0.53"/><circle cx="464.3" cy="119.5" r="0.37"/><circle cx="457.4" cy="124.3" r="0.38"/><circle cx="444.1" cy="141.2" r="0.51"/><circle cx="462.5" cy="123.4" r="0.34"/><circle cx="461.5" cy="139.5" r="0.35"/><circle cx="452.8" cy="134.8" r="0.34"/><circle cx="453.7" cy="127.1" r="0.51"/><circle cx="446.7" cy="144.0" r="0.38"/><circle cx="454.0" cy="139.0" r="0.30"/><circle cx="446.9" cy="134.7" r="0.30"/><circle cx="460.6" cy="126.8" r="0.30"/><circle cx="461.3" cy="130.8" r="0.36"/><circle cx="459.1" cy="132.5" r="0.48"/></g>
<path d="M445.00,127.00 C445.33,126.57 445.83,125.07 447.00,124.40 C448.17,123.73 450.37,123.28 452.00,123.00 C453.63,122.72 455.03,122.37 456.80,122.70 C458.57,123.03 461.25,124.03 462.60,125.00 C463.95,125.97 465.18,127.17 464.90,128.50 C464.62,129.83 460.90,131.18 460.90,133.00 C460.90,134.82 465.38,137.65 464.90,139.40 C464.42,141.15 460.48,142.57 458.00,143.50 C455.52,144.43 452.17,144.58 450.00,145.00 C447.83,145.42 445.83,145.83 445.00,146.00" fill="none" stroke="#666" stroke-width="0.6" stroke-linejoin="round" />
<path d="M446.00,130.00 C447.00,129.50 450.17,127.42 452.00,127.00 C453.83,126.58 455.67,127.00 457.00,127.50 C458.33,128.00 460.00,128.92 460.00,130.00 C460.00,131.08 457.00,132.50 457.00,134.00 C457.00,135.50 460.50,137.67 460.00,139.00 C459.50,140.33 456.17,141.17 454.00,142.00 C451.83,142.83 448.17,143.67 447.00,144.00" fill="none" stroke="#666" stroke-width="0.6" stroke-linejoin="round" />
<path d="M446.00,134.00 C446.83,133.58 449.50,131.67 451.00,131.50 C452.50,131.33 454.50,131.92 455.00,133.00 C455.50,134.08 455.00,136.58 454.00,138.00 C453.00,139.42 450.33,140.67 449.00,141.50 C447.67,142.33 446.50,142.75 446.00,143.00" fill="none" stroke="#666" stroke-width="0.6" stroke-linejoin="round" />
<defs><radialGradient id="g21"><stop offset="0" stop-color="#888" stop-opacity="0.4"/><stop offset="1" stop-color="#bbb" stop-opacity="0"/></radialGradient></defs>
<ellipse cx="440" cy="137" rx="9" ry="9" fill="url(#g21)" />
<defs><radialGradient id="g22"><stop offset="0" stop-color="#555" stop-opacity="0.9"/><stop offset="0.35" stop-color="#555" stop-opacity="0.9"/><stop offset="0.6" stop-color="#1a1a1a" stop-opacity="0.95"/><stop offset="0.74" stop-color="#333" stop-opacity="0.85"/><stop offset="0.88" stop-color="#888" stop-opacity="0.35"/><stop offset="1" stop-color="#aaa" stop-opacity="0"/></radialGradient></defs>
<ellipse cx="437.8" cy="140.4" rx="11.70" ry="8.32" fill="url(#g22)" transform="rotate(-35 437.8 140.4)"/>
<ellipse cx="437.8" cy="140.4" rx="4.50" ry="3.20" fill="none" stroke="#222" stroke-width="0.5" stroke-opacity="0.6" transform="rotate(-35 437.8 140.4)"/>
<ellipse cx="437.8" cy="140.4" rx="2.88" ry="2.05" fill="none" stroke="#222" stroke-width="0.5" stroke-opacity="0.6" transform="rotate(-35 437.8 140.4)"/>
<ellipse cx="437.8" cy="140.4" rx="1.26" ry="0.90" fill="none" stroke="#222" stroke-width="0.5" stroke-opacity="0.6" transform="rotate(-35 437.8 140.4)"/>
<ellipse cx="437.8" cy="140.4" rx="1.17" ry="0.83" fill="#eee" fill-opacity="0.9" transform="rotate(-35 437.8 140.4)"/>
<text x="465.6" y="127.7" font-size="11.3" font-weight="normal" text-anchor="start" fill="#222" stroke="#222" stroke-width="0.12" >30.6%</text>
<path d="M453.50,183.30 L504.00,183.30 L504.00,216.50 L451.00,216.50 L453.50,211.50 Z" fill="none" stroke="#555" stroke-width="1.0" stroke-linejoin="round" />
<g fill="#777" fill-opacity="0.34"><circle cx="433.8" cy="204.0" r="0.36"/><circle cx="437.2" cy="215.0" r="0.39"/><circle cx="446.5" cy="201.0" r="0.44"/><circle cx="443.8" cy="204.1" r="0.43"/><circle cx="441.2" cy="209.5" r="0.35"/><circle cx="439.3" cy="201.6" r="0.49"/><circle cx="434.5" cy="202.6" r="0.53"/><circle cx="446.0" cy="201.8" r="0.38"/><circle cx="448.9" cy="204.5" r="0.33"/><circle cx="435.7" cy="210.7" r="0.53"/><circle cx="434.8" cy="201.9" r="0.53"/><circle cx="443.5" cy="202.3" r="0.42"/><circle cx="442.4" cy="202.9" r="0.33"/><circle cx="431.4" cy="201.7" r="0.36"/><circle cx="435.2" cy="199.2" r="0.33"/><circle cx="448.1" cy="209.1" r="0.38"/><circle cx="438.7" cy="204.4" r="0.54"/><circle cx="443.5" cy="207.2" r="0.41"/><circle cx="451.1" cy="206.4" r="0.40"/><circle cx="449.9" cy="205.0" r="0.51"/><circle cx="444.0" cy="201.4" r="0.36"/><circle cx="438.9" cy="209.8" r="0.40"/><circle cx="436.2" cy="202.7" r="0.38"/><circle cx="444.1" cy="209.0" r="0.30"/><circle cx="444.2" cy="206.7" r="0.41"/><circle cx="448.4" cy="201.4" r="0.54"/><circle cx="447.5" cy="202.0" r="0.45"/><circle cx="449.8" cy="206.3" r="0.37"/><circle cx="439.9" cy="205.1" r="0.44"/><circle cx="435.4" cy="208.9" r="0.40"/><circle cx="452.4" cy="209.4" r="0.50"/><circle cx="438.8" cy="205.0" r="0.45"/><circle cx="442.1" cy="204.9" r="0.52"/><circle cx="438.7" cy="203.6" r="0.53"/><circle cx="449.8" cy="199.4" r="0.36"/><circle cx="435.1" cy="204.4" r="0.37"/><circle cx="442.8" cy="201.2" r="0.38"/><circle cx="450.7" cy="206.7" r="0.44"/><circle cx="438.9" cy="196.9" r="0.46"/><circle cx="430.8" cy="206.7" r="0.43"/><circle cx="436.6" cy="197.9" r="0.30"/><circle cx="435.0" cy="212.5" r="0.31"/><circle cx="442.5" cy="205.2" r="0.46"/><circle cx="443.8" cy="203.5" r="0.40"/><circle cx="443.8" cy="211.4" r="0.43"/><circle cx="436.4" cy="204.1" r="0.45"/><circle cx="447.8" cy="205.2" r="0.43"/><circle cx="436.4" cy="208.1" r="0.50"/><circle cx="446.6" cy="210.0" r="0.49"/><circle cx="443.4" cy="205.7" r="0.37"/><circle cx="450.0" cy="211.7" r="0.40"/><circle cx="448.6" cy="207.2" r="0.34"/><circle cx="446.5" cy="208.2" r="0.48"/><circle cx="438.4" cy="205.1" r="0.50"/><circle cx="437.6" cy="205.9" r="0.51"/><circle cx="444.4" cy="203.8" r="0.53"/><circle cx="444.1" cy="203.7" r="0.30"/><circle cx="452.1" cy="201.2" r="0.32"/><circle cx="443.4" cy="200.0" r="0.46"/><circle cx="434.9" cy="211.9" r="0.53"/><circle cx="437.3" cy="210.9" r="0.47"/><circle cx="448.0" cy="202.3" r="0.37"/><circle cx="441.9" cy="210.4" r="0.33"/><circle cx="452.7" cy="200.3" r="0.36"/><circle cx="438.1" cy="201.1" r="0.33"/><circle cx="444.4" cy="200.1" r="0.38"/><circle cx="447.3" cy="207.6" r="0.49"/><circle cx="444.0" cy="207.4" r="0.39"/><circle cx="445.5" cy="204.6" r="0.32"/><circle cx="442.1" cy="204.5" r="0.47"/><circle cx="447.2" cy="207.3" r="0.47"/><circle cx="447.8" cy="203.4" r="0.41"/><circle cx="449.2" cy="206.6" r="0.36"/><circle cx="445.0" cy="200.6" r="0.50"/><circle cx="429.8" cy="204.9" r="0.33"/></g>
<g fill="#999" fill-opacity="0.26"><circle cx="460.6" cy="214.4" r="0.37"/><circle cx="464.7" cy="211.3" r="0.38"/><circle cx="459.8" cy="210.8" r="0.39"/><circle cx="479.6" cy="210.2" r="0.41"/><circle cx="464.8" cy="214.9" r="0.33"/><circle cx="469.1" cy="215.2" r="0.55"/><circle cx="458.2" cy="213.3" r="0.51"/><circle cx="470.3" cy="211.5" r="0.33"/><circle cx="457.5" cy="209.9" r="0.53"/><circle cx="461.8" cy="211.2" r="0.43"/><circle cx="463.2" cy="215.6" r="0.42"/><circle cx="478.0" cy="210.2" r="0.53"/><circle cx="456.0" cy="209.1" r="0.40"/><circle cx="466.6" cy="213.0" r="0.51"/><circle cx="467.9" cy="210.8" r="0.51"/><circle cx="457.9" cy="213.5" r="0.35"/><circle cx="468.5" cy="209.1" r="0.32"/><circle cx="469.9" cy="212.8" r="0.39"/><circle cx="457.1" cy="214.7" r="0.52"/><circle cx="474.3" cy="211.8" r="0.39"/><circle cx="467.1" cy="213.6" r="0.43"/><circle cx="458.4" cy="211.6" r="0.55"/><circle cx="459.4" cy="214.2" r="0.40"/><circle cx="457.6" cy="211.3" r="0.41"/><circle cx="465.0" cy="215.2" r="0.42"/><circle cx="460.6" cy="212.3" r="0.31"/><circle cx="468.5" cy="214.9" r="0.50"/></g>
<defs><radialGradient id="g23"><stop offset="0" stop-color="#888" stop-opacity="0.5"/><stop offset="1" stop-color="#bbb" stop-opacity="0"/></radialGradient></defs>
<ellipse cx="442" cy="209" rx="13" ry="7" fill="url(#g23)" />
<defs><radialGradient id="g24"><stop offset="0" stop-color="#1a1a1a" stop-opacity="0.95"/><stop offset="0.5" stop-color="#222" stop-opacity="0.95"/><stop offset="0.66" stop-color="#3a3a3a" stop-opacity="0.81"/><stop offset="0.82" stop-color="#777" stop-opacity="0.43"/><stop offset="1" stop-color="#aaa" stop-opacity="0"/></radialGradient></defs>
<ellipse cx="440.5" cy="212.2" rx="14.18" ry="6.21" fill="url(#g24)" />
<ellipse cx="440.5" cy="212.2" rx="7.88" ry="3.45" fill="none" stroke="#666" stroke-width="0.5" stroke-opacity="0.5" />
<ellipse cx="440.5" cy="212.2" rx="5.25" ry="2.30" fill="none" stroke="#666" stroke-width="0.5" stroke-opacity="0.5" />
<ellipse cx="440.5" cy="212.2" rx="2.31" ry="0.60" fill="#ddd" fill-opacity="0.85" />
<ellipse cx="440" cy="212.3" rx="4" ry="0.9" fill="#eee" fill-opacity="0.9"/>
<text x="472.9" y="198.3" font-size="11.3" font-weight="normal" text-anchor="start" fill="#222" stroke="#222" stroke-width="0.12" >7.6%</text>
<path d="M449.30,241.50 L504.00,241.50 L504.00,275.20 L448.30,275.20 L449.30,273.20 Z" fill="none" stroke="#555" stroke-width="1.0" stroke-linejoin="round" />
<g fill="#888" fill-opacity="0.26"><circle cx="450.5" cy="251.2" r="0.50"/><circle cx="436.7" cy="258.6" r="0.43"/><circle cx="448.9" cy="255.8" r="0.47"/><circle cx="443.1" cy="247.7" r="0.53"/><circle cx="448.9" cy="248.9" r="0.32"/><circle cx="435.0" cy="251.2" r="0.36"/><circle cx="454.9" cy="257.5" r="0.31"/><circle cx="445.1" cy="243.8" r="0.37"/><circle cx="440.5" cy="256.9" r="0.35"/><circle cx="452.1" cy="268.4" r="0.41"/><circle cx="444.4" cy="247.8" r="0.50"/><circle cx="436.4" cy="248.4" r="0.40"/><circle cx="441.2" cy="253.0" r="0.54"/><circle cx="441.4" cy="246.3" r="0.46"/><circle cx="451.8" cy="259.2" r="0.36"/><circle cx="446.7" cy="253.9" r="0.41"/><circle cx="455.5" cy="244.7" r="0.48"/><circle cx="444.1" cy="260.5" r="0.48"/><circle cx="442.1" cy="267.2" r="0.39"/><circle cx="446.7" cy="244.6" r="0.50"/><circle cx="453.8" cy="254.3" r="0.55"/><circle cx="462.4" cy="256.0" r="0.31"/><circle cx="438.4" cy="252.8" r="0.49"/><circle cx="443.8" cy="260.0" r="0.50"/><circle cx="433.2" cy="250.8" r="0.42"/><circle cx="459.4" cy="258.1" r="0.35"/><circle cx="445.7" cy="255.0" r="0.36"/><circle cx="439.1" cy="243.3" r="0.46"/><circle cx="433.8" cy="259.5" r="0.47"/><circle cx="448.7" cy="264.5" r="0.45"/><circle cx="445.3" cy="249.7" r="0.38"/><circle cx="444.0" cy="258.0" r="0.39"/><circle cx="444.7" cy="244.6" r="0.34"/><circle cx="445.5" cy="251.0" r="0.49"/><circle cx="448.2" cy="257.9" r="0.36"/><circle cx="439.7" cy="254.4" r="0.52"/><circle cx="452.0" cy="252.5" r="0.49"/><circle cx="442.6" cy="245.3" r="0.36"/><circle cx="465.0" cy="248.8" r="0.30"/><circle cx="442.6" cy="261.2" r="0.35"/><circle cx="430.5" cy="262.3" r="0.31"/><circle cx="449.5" cy="249.1" r="0.30"/><circle cx="451.2" cy="251.2" r="0.35"/><circle cx="451.7" cy="260.1" r="0.33"/><circle cx="448.6" cy="260.5" r="0.44"/><circle cx="439.6" cy="257.3" r="0.43"/><circle cx="447.9" cy="242.3" r="0.39"/><circle cx="458.3" cy="248.0" r="0.44"/><circle cx="438.9" cy="256.1" r="0.33"/><circle cx="454.2" cy="247.8" r="0.32"/><circle cx="460.9" cy="247.5" r="0.31"/><circle cx="444.2" cy="249.4" r="0.43"/><circle cx="449.8" cy="248.6" r="0.42"/><circle cx="443.3" cy="250.5" r="0.46"/><circle cx="450.8" cy="266.7" r="0.31"/><circle cx="445.4" cy="259.0" r="0.34"/><circle cx="441.1" cy="254.1" r="0.50"/><circle cx="455.2" cy="261.4" r="0.52"/><circle cx="449.9" cy="259.0" r="0.49"/><circle cx="441.8" cy="261.9" r="0.54"/><circle cx="434.4" cy="272.3" r="0.52"/><circle cx="449.1" cy="264.6" r="0.54"/><circle cx="457.5" cy="265.5" r="0.49"/><circle cx="446.0" cy="244.2" r="0.32"/><circle cx="449.6" cy="254.0" r="0.50"/><circle cx="444.8" cy="248.1" r="0.47"/><circle cx="434.7" cy="262.1" r="0.31"/><circle cx="453.2" cy="251.8" r="0.50"/></g>
<path d="M447.00,255.40 C448.00,255.42 451.28,254.90 453.00,255.50 C454.72,256.10 456.63,257.25 457.30,259.00 C457.97,260.75 457.72,264.03 457.00,266.00 C456.28,267.97 454.50,269.88 453.00,270.80 C451.50,271.72 448.83,271.38 448.00,271.50" fill="none" stroke="#666" stroke-width="0.6" stroke-linejoin="round" />
<path d="M448.00,258.50 C448.75,258.58 451.42,258.25 452.50,259.00 C453.58,259.75 454.42,261.50 454.50,263.00 C454.58,264.50 454.08,266.92 453.00,268.00 C451.92,269.08 448.83,269.25 448.00,269.50" fill="none" stroke="#666" stroke-width="0.6" stroke-linejoin="round" />
<path d="M446.00,253.50 C447.00,253.42 449.92,252.58 452.00,253.00 C454.08,253.42 457.25,254.33 458.50,256.00 C459.75,257.67 459.75,260.67 459.50,263.00 C459.25,265.33 458.42,268.25 457.00,270.00 C455.58,271.75 452.67,272.83 451.00,273.50 C449.33,274.17 447.67,273.92 447.00,274.00" fill="none" stroke="#777" stroke-width="0.5" stroke-linejoin="round" />
<path d="M449.00,261.00 C449.42,261.17 451.00,261.17 451.50,262.00 C452.00,262.83 452.33,265.00 452.00,266.00 C451.67,267.00 449.92,267.67 449.50,268.00" fill="none" stroke="#666" stroke-width="0.5" stroke-linejoin="round" />
<defs><radialGradient id="g25" cx="0.45" cy="0.8" r="0.75"><stop offset="0" stop-color="#2a2a2a"/><stop offset="0.3" stop-color="#555"/><stop offset="0.7" stop-color="#999"/><stop offset="1" stop-color="#bbb"/></radialGradient></defs>
<path d="M431.00,275.00 C430.83,273.83 429.67,270.33 430.00,268.00 C430.33,265.67 431.67,263.08 433.00,261.00 C434.33,258.92 436.17,256.75 438.00,255.50 C439.83,254.25 442.17,253.42 444.00,253.50 C445.83,253.58 448.08,254.58 449.00,256.00 C449.92,257.42 449.67,259.67 449.50,262.00 C449.33,264.33 448.92,267.80 448.00,270.00 C447.08,272.20 446.00,274.23 444.00,275.20 C442.00,276.17 438.17,275.83 436.00,275.80 C433.83,275.77 431.83,275.13 431.00,275.00" fill="url(#g25)" stroke="#555" stroke-width="0.7" stroke-linejoin="round" />
<path d="M434.00,272.00 C434.33,270.83 434.83,267.08 436.00,265.00 C437.17,262.92 439.33,260.50 441.00,259.50 C442.67,258.50 445.00,258.08 446.00,259.00 C447.00,259.92 447.33,262.83 447.00,265.00 C446.67,267.17 445.50,270.50 444.00,272.00 C442.50,273.50 439.00,273.67 438.00,274.00 Z" fill="none" stroke="#555" stroke-width="0.5" stroke-linejoin="round" stroke-opacity="0.6"/>
<ellipse cx="439" cy="270.5" rx="1.6" ry="1.3" fill="#eee"/>
<text x="473.5" y="257" font-size="11.3" font-weight="normal" text-anchor="start" fill="#222" stroke="#222" stroke-width="0.12" >16%</text>
<path d="M445.80,314.40 L501.70,314.40 L501.70,348.10 L443.40,348.10 L445.80,339.10 Z" fill="none" stroke="#555" stroke-width="1.0" stroke-linejoin="round" />
<g fill="#888" fill-opacity="0.30"><circle cx="429.2" cy="335.9" r="0.38"/><circle cx="438.7" cy="333.6" r="0.42"/><circle cx="437.2" cy="328.3" r="0.54"/><circle cx="438.8" cy="325.9" r="0.30"/><circle cx="430.9" cy="327.8" r="0.37"/><circle cx="439.8" cy="335.7" r="0.33"/><circle cx="440.8" cy="337.3" r="0.52"/><circle cx="436.0" cy="327.2" r="0.33"/><circle cx="433.0" cy="334.3" r="0.34"/><circle cx="429.2" cy="333.2" r="0.33"/><circle cx="444.5" cy="329.6" r="0.37"/><circle cx="440.5" cy="340.6" r="0.46"/><circle cx="432.8" cy="333.5" r="0.55"/><circle cx="440.2" cy="335.1" r="0.38"/><circle cx="438.8" cy="336.8" r="0.40"/><circle cx="436.9" cy="324.8" r="0.49"/><circle cx="436.9" cy="343.2" r="0.35"/><circle cx="432.4" cy="331.3" r="0.49"/><circle cx="442.7" cy="338.8" r="0.51"/><circle cx="443.0" cy="336.8" r="0.33"/><circle cx="438.4" cy="324.2" r="0.46"/><circle cx="441.3" cy="326.9" r="0.44"/><circle cx="435.5" cy="327.4" r="0.42"/><circle cx="440.3" cy="326.2" r="0.33"/><circle cx="434.4" cy="336.8" r="0.41"/><circle cx="434.7" cy="331.9" r="0.40"/><circle cx="434.8" cy="336.6" r="0.54"/><circle cx="440.9" cy="334.6" r="0.48"/></g>
<g fill="#aaa" fill-opacity="0.26"><circle cx="451.1" cy="339.7" r="0.45"/><circle cx="454.0" cy="339.2" r="0.30"/><circle cx="471.3" cy="330.3" r="0.37"/><circle cx="451.1" cy="337.8" r="0.31"/><circle cx="469.9" cy="332.2" r="0.36"/><circle cx="457.6" cy="343.2" r="0.50"/><circle cx="450.2" cy="337.8" r="0.36"/><circle cx="462.8" cy="329.4" r="0.51"/><circle cx="466.1" cy="340.5" r="0.55"/><circle cx="456.1" cy="332.7" r="0.34"/><circle cx="470.1" cy="339.4" r="0.32"/><circle cx="462.3" cy="331.5" r="0.42"/><circle cx="472.4" cy="331.1" r="0.45"/><circle cx="466.6" cy="340.1" r="0.41"/><circle cx="458.0" cy="346.2" r="0.48"/><circle cx="462.2" cy="339.0" r="0.39"/><circle cx="451.6" cy="335.4" r="0.41"/><circle cx="460.0" cy="334.7" r="0.48"/><circle cx="448.7" cy="345.4" r="0.54"/><circle cx="452.9" cy="341.8" r="0.33"/><circle cx="448.5" cy="340.0" r="0.46"/><circle cx="456.8" cy="337.9" r="0.33"/><circle cx="453.4" cy="336.1" r="0.38"/><circle cx="451.9" cy="336.7" r="0.45"/><circle cx="455.8" cy="343.9" r="0.34"/><circle cx="457.4" cy="341.3" r="0.53"/><circle cx="460.7" cy="339.3" r="0.33"/><circle cx="459.6" cy="340.5" r="0.40"/><circle cx="458.5" cy="332.9" r="0.42"/><circle cx="447.0" cy="341.2" r="0.53"/><circle cx="453.3" cy="339.2" r="0.33"/></g>
<defs><radialGradient id="g26"><stop offset="0" stop-color="#888" stop-opacity="0.4"/><stop offset="1" stop-color="#bbb" stop-opacity="0"/></radialGradient></defs>
<ellipse cx="440" cy="338" rx="9" ry="7" fill="url(#g26)" />
<defs><radialGradient id="g27"><stop offset="0" stop-color="#1a1a1a" stop-opacity="0.95"/><stop offset="0.5" stop-color="#222" stop-opacity="0.95"/><stop offset="0.66" stop-color="#3a3a3a" stop-opacity="0.81"/><stop offset="0.82" stop-color="#777" stop-opacity="0.43"/><stop offset="1" stop-color="#aaa" stop-opacity="0"/></radialGradient></defs>
<ellipse cx="437.6" cy="341.6" rx="9.18" ry="7.29" fill="url(#g27)" transform="rotate(-15 437.6 341.6)"/>
<ellipse cx="437.6" cy="341.6" rx="5.10" ry="4.05" fill="none" stroke="#666" stroke-width="0.5" stroke-opacity="0.5" transform="rotate(-15 437.6 341.6)"/>
<ellipse cx="437.6" cy="341.6" rx="3.40" ry="2.70" fill="none" stroke="#666" stroke-width="0.5" stroke-opacity="0.5" transform="rotate(-15 437.6 341.6)"/>
<ellipse cx="437.6" cy="341.6" rx="1.50" ry="0.65" fill="#ddd" fill-opacity="0.85" transform="rotate(-15 437.6 341.6)"/>
<text x="472.9" y="329.4" font-size="11.3" font-weight="normal" text-anchor="start" fill="#222" stroke="#222" stroke-width="0.12" >2.6%</text>
<path d="M448.50,378.80 L503.70,378.80 L503.70,412.50 L445.90,412.50 L448.50,400.50 Z" fill="none" stroke="#555" stroke-width="1.0" stroke-linejoin="round" />
<g fill="#999" fill-opacity="0.26"><circle cx="464.9" cy="394.3" r="0.47"/><circle cx="438.4" cy="399.8" r="0.35"/><circle cx="460.6" cy="402.9" r="0.47"/><circle cx="454.1" cy="397.9" r="0.48"/><circle cx="450.2" cy="398.9" r="0.36"/><circle cx="461.2" cy="408.8" r="0.44"/><circle cx="450.1" cy="402.0" r="0.37"/><circle cx="452.6" cy="403.4" r="0.50"/><circle cx="460.2" cy="389.0" r="0.52"/><circle cx="451.1" cy="395.6" r="0.31"/><circle cx="460.5" cy="402.0" r="0.43"/><circle cx="463.1" cy="390.8" r="0.41"/><circle cx="455.3" cy="392.5" r="0.31"/><circle cx="465.7" cy="397.5" r="0.51"/><circle cx="470.1" cy="403.9" r="0.39"/><circle cx="464.0" cy="394.8" r="0.33"/><circle cx="463.0" cy="408.3" r="0.54"/><circle cx="441.8" cy="390.9" r="0.37"/><circle cx="454.2" cy="400.5" r="0.55"/><circle cx="473.6" cy="400.2" r="0.39"/><circle cx="460.8" cy="403.9" r="0.53"/><circle cx="455.1" cy="401.6" r="0.46"/><circle cx="445.8" cy="392.0" r="0.34"/><circle cx="459.8" cy="395.9" r="0.34"/><circle cx="455.9" cy="405.2" r="0.42"/><circle cx="433.7" cy="394.8" r="0.52"/><circle cx="451.0" cy="398.3" r="0.51"/><circle cx="467.2" cy="398.6" r="0.34"/><circle cx="435.4" cy="391.7" r="0.33"/><circle cx="447.5" cy="409.3" r="0.47"/><circle cx="471.6" cy="403.8" r="0.50"/><circle cx="448.2" cy="399.9" r="0.46"/><circle cx="451.8" cy="400.9" r="0.34"/><circle cx="449.0" cy="399.8" r="0.40"/><circle cx="438.2" cy="395.6" r="0.40"/><circle cx="456.9" cy="395.6" r="0.38"/><circle cx="480.6" cy="393.1" r="0.53"/><circle cx="456.7" cy="390.6" r="0.50"/><circle cx="448.7" cy="396.7" r="0.36"/><circle cx="478.4" cy="405.0" r="0.38"/><circle cx="440.5" cy="402.1" r="0.33"/><circle cx="448.2" cy="387.7" r="0.50"/><circle cx="464.0" cy="394.4" r="0.34"/><circle cx="456.6" cy="388.8" r="0.39"/><circle cx="450.5" cy="400.9" r="0.51"/><circle cx="430.2" cy="400.7" r="0.38"/><circle cx="447.7" cy="404.5" r="0.49"/><circle cx="464.7" cy="394.2" r="0.47"/><circle cx="432.1" cy="404.8" r="0.49"/><circle cx="442.5" cy="396.1" r="0.37"/><circle cx="473.9" cy="390.9" r="0.38"/><circle cx="462.9" cy="400.0" r="0.54"/><circle cx="479.7" cy="400.7" r="0.43"/><circle cx="438.6" cy="395.5" r="0.40"/><circle cx="449.3" cy="397.1" r="0.53"/><circle cx="461.1" cy="400.0" r="0.47"/><circle cx="438.9" cy="389.6" r="0.47"/><circle cx="459.1" cy="397.2" r="0.30"/><circle cx="457.0" cy="408.4" r="0.34"/><circle cx="431.4" cy="396.0" r="0.34"/><circle cx="454.8" cy="392.0" r="0.42"/><circle cx="459.3" cy="389.1" r="0.38"/><circle cx="453.2" cy="391.1" r="0.50"/><circle cx="436.0" cy="407.4" r="0.47"/><circle cx="437.9" cy="400.4" r="0.50"/><circle cx="484.8" cy="398.6" r="0.48"/><circle cx="462.5" cy="402.4" r="0.48"/><circle cx="461.0" cy="392.8" r="0.55"/><circle cx="452.5" cy="396.5" r="0.33"/><circle cx="471.1" cy="401.6" r="0.38"/><circle cx="453.9" cy="404.5" r="0.32"/><circle cx="477.5" cy="391.8" r="0.44"/><circle cx="443.7" cy="399.8" r="0.45"/><circle cx="433.2" cy="411.4" r="0.54"/><circle cx="451.2" cy="386.9" r="0.32"/></g>
<path d="M450.00,396.00 C451.67,396.00 456.67,395.75 460.00,396.00 C463.33,396.25 467.00,396.83 470.00,397.50 C473.00,398.17 476.45,399.08 478.00,400.00 C479.55,400.92 479.97,401.92 479.30,403.00 C478.63,404.08 476.88,405.83 474.00,406.50 C471.12,407.17 466.00,407.08 462.00,407.00 C458.00,406.92 452.00,406.17 450.00,406.00" fill="none" stroke="#666" stroke-width="0.6" stroke-linejoin="round" />
<path d="M455.00,398.50 C456.67,398.58 462.17,398.58 465.00,399.00 C467.83,399.42 470.67,400.25 472.00,401.00 C473.33,401.75 473.67,402.83 473.00,403.50 C472.33,404.17 470.50,404.75 468.00,405.00 C465.50,405.25 459.67,405.00 458.00,405.00" fill="none" stroke="#777" stroke-width="0.5" stroke-linejoin="round" />
<path d="M462.00,400.50 C463.00,400.67 466.83,401.00 468.00,401.50 C469.17,402.00 469.67,403.08 469.00,403.50 C468.33,403.92 464.83,403.92 464.00,404.00" fill="none" stroke="#888" stroke-width="0.5" stroke-linejoin="round" />
<defs><radialGradient id="g28" cx="0.35" cy="0.65" r="0.7"><stop offset="0" stop-color="#333"/><stop offset="0.3" stop-color="#555"/><stop offset="0.7" stop-color="#999"/><stop offset="1" stop-color="#c4c4c4"/></radialGradient></defs>
<path d="M431.50,405.50 C431.83,404.50 432.08,401.17 433.50,399.50 C434.92,397.83 437.25,396.50 440.00,395.50 C442.75,394.50 446.67,393.67 450.00,393.50 C453.33,393.33 457.33,393.83 460.00,394.50 C462.67,395.17 465.50,396.25 466.00,397.50 C466.50,398.75 464.83,400.58 463.00,402.00 C461.17,403.42 458.33,404.87 455.00,406.00 C451.67,407.13 446.33,408.35 443.00,408.80 C439.67,409.25 436.92,409.25 435.00,408.70 C433.08,408.15 432.08,406.03 431.50,405.50" fill="url(#g28)" stroke="#666" stroke-width="0.7" stroke-linejoin="round" fill-opacity="0.85"/>
<path d="M435.00,404.00 C435.83,403.25 437.67,400.58 440.00,399.50 C442.33,398.42 446.17,397.67 449.00,397.50 C451.83,397.33 455.50,397.75 457.00,398.50 C458.50,399.25 459.17,400.83 458.00,402.00 C456.83,403.17 453.00,404.75 450.00,405.50 C447.00,406.25 442.50,406.75 440.00,406.50 C437.50,406.25 435.83,404.42 435.00,404.00" fill="none" stroke="#444" stroke-width="0.6" stroke-linejoin="round" stroke-opacity="0.6"/>
<ellipse cx="443" cy="403.3" rx="3.5" ry="0.9" fill="#eee" fill-opacity="0.9"/>
<text x="471.5" y="397.3" font-size="11.3" font-weight="normal" text-anchor="start" fill="#222" stroke="#222" stroke-width="0.12" >53.1%</text>
<text x="-0.2" y="463.9" font-size="17" font-weight="bold" text-anchor="start" fill="#000" stroke="#000" stroke-width="0.35" >B</text>
<line x1="157.5" y1="451.3" x2="157.5" y2="563.8" stroke="#c8c8c8" stroke-width="0.9" />
<line x1="228.5" y1="451.3" x2="228.5" y2="563.8" stroke="#c8c8c8" stroke-width="0.9" />
<line x1="298.5" y1="451.3" x2="298.5" y2="563.8" stroke="#c8c8c8" stroke-width="0.9" />
<line x1="368.5" y1="451.3" x2="368.5" y2="563.8" stroke="#c8c8c8" stroke-width="0.9" />
<line x1="439.5" y1="451.3" x2="439.5" y2="563.8" stroke="#c8c8c8" stroke-width="0.9" />
<rect x="87.0" y="455.07" width="12.66" height="5.6" fill="#000"/>
<rect x="87.0" y="460.97" width="218.03" height="4.8" fill="#c4c4c4" stroke="#000" stroke-width="1.2"/>
<line x1="99.66" y1="457.77" x2="104.58" y2="457.77" stroke="#000" stroke-width="0.8" />
<line x1="104.58" y1="455.97" x2="104.58" y2="459.57" stroke="#000" stroke-width="0.8" />
<line x1="305.03" y1="463.18" x2="326.13" y2="463.18" stroke="#000" stroke-width="0.8" />
<line x1="326.13" y1="461.38" x2="326.13" y2="464.98" stroke="#000" stroke-width="0.8" />
<text x="76.6" y="465.775" font-size="12" font-weight="bold" text-anchor="end" fill="#000" stroke="#000" stroke-width="0.35" >T G0</text>
<rect x="87.0" y="473.82" width="168.80" height="5.6" fill="#000"/>
<rect x="87.0" y="479.72" width="267.27" height="4.8" fill="#c4c4c4" stroke="#000" stroke-width="1.2"/>
<line x1="255.8" y1="476.52" x2="276.9" y2="476.52" stroke="#000" stroke-width="0.8" />
<line x1="276.9" y1="474.72" x2="276.9" y2="478.32" stroke="#000" stroke-width="0.8" />
<line x1="354.27" y1="481.93" x2="395.06" y2="481.93" stroke="#000" stroke-width="0.8" />
<line x1="395.06" y1="480.12" x2="395.06" y2="483.73" stroke="#000" stroke-width="0.8" />
<text x="76.6" y="484.525" font-size="12" font-weight="bold" text-anchor="end" fill="#000" stroke="#000" stroke-width="0.35" >T Stim</text>
<rect x="87.0" y="492.57" width="15.47" height="5.6" fill="#000"/>
<rect x="87.0" y="498.47" width="265.86" height="4.8" fill="#c4c4c4" stroke="#000" stroke-width="1.2"/>
<line x1="102.47" y1="495.27" x2="107.54" y2="495.27" stroke="#000" stroke-width="0.8" />
<line x1="107.54" y1="493.47" x2="107.54" y2="497.07" stroke="#000" stroke-width="0.8" />
<line x1="352.86" y1="500.68" x2="397.87" y2="500.68" stroke="#000" stroke-width="0.8" />
<line x1="397.87" y1="498.88" x2="397.87" y2="502.48" stroke="#000" stroke-width="0.8" />
<text x="76.6" y="503.275" font-size="12" font-weight="bold" text-anchor="end" fill="#000" stroke="#000" stroke-width="0.35" >B G0</text>
<rect x="87.0" y="511.32" width="47.83" height="5.6" fill="#000"/>
<rect x="87.0" y="517.22" width="253.90" height="4.8" fill="#c4c4c4" stroke="#000" stroke-width="1.2"/>
<line x1="134.83" y1="514.02" x2="141.86" y2="514.02" stroke="#000" stroke-width="0.8" />
<line x1="141.86" y1="512.23" x2="141.86" y2="515.82" stroke="#000" stroke-width="0.8" />
<line x1="340.9" y1="519.42" x2="369.18" y2="519.42" stroke="#000" stroke-width="0.8" />
<line x1="369.18" y1="517.62" x2="369.18" y2="521.22" stroke="#000" stroke-width="0.8" />
<text x="76.6" y="522.025" font-size="12" font-weight="bold" text-anchor="end" fill="#000" stroke="#000" stroke-width="0.35" >B stim</text>
<rect x="87.0" y="530.07" width="78.07" height="5.6" fill="#000"/>
<rect x="87.0" y="535.97" width="331.97" height="4.8" fill="#c4c4c4" stroke="#000" stroke-width="1.2"/>
<line x1="165.07" y1="532.77" x2="178.43" y2="532.77" stroke="#000" stroke-width="0.8" />
<line x1="178.43" y1="530.98" x2="178.43" y2="534.57" stroke="#000" stroke-width="0.8" />
<line x1="418.97" y1="538.17" x2="445.7" y2="538.17" stroke="#000" stroke-width="0.8" />
<line x1="445.7" y1="536.38" x2="445.7" y2="539.97" stroke="#000" stroke-width="0.8" />
<text x="76.6" y="540.775" font-size="12" font-weight="bold" text-anchor="end" fill="#000" stroke="#000" stroke-width="0.35" >CD34 G0</text>
<rect x="87.0" y="548.82" width="277.11" height="5.6" fill="#000"/>
<rect x="87.0" y="554.72" width="333.38" height="4.8" fill="#c4c4c4" stroke="#000" stroke-width="1.2"/>
<line x1="364.11" y1="551.52" x2="386.62" y2="551.52" stroke="#000" stroke-width="0.8" />
<line x1="386.62" y1="549.73" x2="386.62" y2="553.32" stroke="#000" stroke-width="0.8" />
<line x1="420.38" y1="556.92" x2="455.55" y2="556.92" stroke="#000" stroke-width="0.8" />
<line x1="455.55" y1="555.12" x2="455.55" y2="558.72" stroke="#000" stroke-width="0.8" />
<text x="76.6" y="559.525" font-size="12" font-weight="bold" text-anchor="end" fill="#000" stroke="#000" stroke-width="0.35" >CD34 stim</text>
<rect x="87.0" y="451.3" width="422.00" height="112.50" fill="none" stroke="#000" stroke-width="1.2"/>
<line x1="25" y1="488.6" x2="509.0" y2="488.6" stroke="#000" stroke-width="1.2" />
<line x1="25" y1="525.8" x2="509.0" y2="525.8" stroke="#000" stroke-width="1.2" />
<line x1="84" y1="451.3" x2="87.0" y2="451.3" stroke="#000" stroke-width="0.8" />
<line x1="84" y1="470.05" x2="87.0" y2="470.05" stroke="#000" stroke-width="0.8" />
<line x1="84" y1="488.8" x2="87.0" y2="488.8" stroke="#000" stroke-width="0.8" />
<line x1="84" y1="507.55" x2="87.0" y2="507.55" stroke="#000" stroke-width="0.8" />
<line x1="84" y1="526.3" x2="87.0" y2="526.3" stroke="#000" stroke-width="0.8" />
<line x1="84" y1="545.05" x2="87.0" y2="545.05" stroke="#000" stroke-width="0.8" />
<line x1="84" y1="563.8" x2="87.0" y2="563.8" stroke="#000" stroke-width="0.8" />
<line x1="87.0" y1="563.8" x2="87.0" y2="566.5" stroke="#000" stroke-width="0.8" />
<text x="87.3" y="587.0" font-size="12" font-weight="bold" text-anchor="middle" fill="#000" stroke="#000" stroke-width="0.35" >0</text>
<line x1="157.33" y1="563.8" x2="157.33" y2="566.5" stroke="#000" stroke-width="0.8" />
<text x="157.63" y="587.0" font-size="12" font-weight="bold" text-anchor="middle" fill="#000" stroke="#000" stroke-width="0.35" >50</text>
<line x1="227.67" y1="563.8" x2="227.67" y2="566.5" stroke="#000" stroke-width="0.8" />
<text x="227.97" y="587.0" font-size="12" font-weight="bold" text-anchor="middle" fill="#000" stroke="#000" stroke-width="0.35" >100</text>
<line x1="298.0" y1="563.8" x2="298.0" y2="566.5" stroke="#000" stroke-width="0.8" />
<text x="298.3" y="587.0" font-size="12" font-weight="bold" text-anchor="middle" fill="#000" stroke="#000" stroke-width="0.35" >150</text>
<line x1="368.33" y1="563.8" x2="368.33" y2="566.5" stroke="#000" stroke-width="0.8" />
<text x="368.63" y="587.0" font-size="12" font-weight="bold" text-anchor="middle" fill="#000" stroke="#000" stroke-width="0.35" >200</text>
<line x1="438.67" y1="563.8" x2="438.67" y2="566.5" stroke="#000" stroke-width="0.8" />
<text x="438.97" y="587.0" font-size="12" font-weight="bold" text-anchor="middle" fill="#000" stroke="#000" stroke-width="0.35" >250</text>
<line x1="509.0" y1="563.8" x2="509.0" y2="566.5" stroke="#000" stroke-width="0.8" />
<text x="509.3" y="587.0" font-size="12" font-weight="bold" text-anchor="middle" fill="#000" stroke="#000" stroke-width="0.35" >300</text>
<text x="9.6" y="586.3" font-size="13" font-weight="bold" text-anchor="start" fill="#000" stroke="#000" stroke-width="0.35" >p24 (pg/ml)</text>
<rect x="423.2" y="461.2" width="6.8" height="6.5" fill="#000"/>
<text x="431.5" y="469.3" font-size="12.2" font-weight="bold" text-anchor="start" fill="#000" stroke="#000" stroke-width="0.35" >VSV-G-LV</text>
<rect x="423.6" y="475.6" width="6.2" height="5.8" fill="#c0c0c0" stroke="#000" stroke-width="0.9"/>
<text x="431.5" y="483.0" font-size="12.2" font-weight="bold" text-anchor="start" fill="#000" stroke="#000" stroke-width="0.35" >MV-LV</text>
<text x="0.6" y="621.6" font-size="17.5" font-weight="bold" text-anchor="start" fill="#000" stroke="#000" stroke-width="0.35" >C</text>
<line x1="77.5" y1="724.0" x2="81.0" y2="724.0" stroke="#999" stroke-width="0.8" />
<text x="70.2" y="729.6" font-size="10.6" font-weight="bold" text-anchor="end" fill="#000" stroke="#000" stroke-width="0.25">0</text>
<line x1="77.5" y1="707.79" x2="81.0" y2="707.79" stroke="#999" stroke-width="0.8" />
<text x="70.2" y="713.39" font-size="10.6" font-weight="bold" text-anchor="end" fill="#000" stroke="#000" stroke-width="0.25">20</text>
<line x1="77.5" y1="691.57" x2="81.0" y2="691.57" stroke="#999" stroke-width="0.8" />
<text x="70.2" y="697.17" font-size="10.6" font-weight="bold" text-anchor="end" fill="#000" stroke="#000" stroke-width="0.25">40</text>
<line x1="77.5" y1="675.36" x2="81.0" y2="675.36" stroke="#999" stroke-width="0.8" />
<text x="70.2" y="680.96" font-size="10.6" font-weight="bold" text-anchor="end" fill="#000" stroke="#000" stroke-width="0.25">60</text>
<line x1="77.5" y1="659.14" x2="81.0" y2="659.14" stroke="#999" stroke-width="0.8" />
<text x="70.2" y="664.74" font-size="10.6" font-weight="bold" text-anchor="end" fill="#000" stroke="#000" stroke-width="0.25">80</text>
<line x1="77.5" y1="642.93" x2="81.0" y2="642.93" stroke="#999" stroke-width="0.8" />
<text x="70.2" y="648.53" font-size="10.6" font-weight="bold" text-anchor="end" fill="#000" stroke="#000" stroke-width="0.25">100</text>
<line x1="77.5" y1="626.72" x2="81.0" y2="626.72" stroke="#999" stroke-width="0.8" />
<text x="70.2" y="632.32" font-size="10.6" font-weight="bold" text-anchor="end" fill="#000" stroke="#000" stroke-width="0.25">120</text>
<line x1="77.5" y1="610.5" x2="81.0" y2="610.5" stroke="#999" stroke-width="0.8" />
<text x="70.2" y="616.1" font-size="10.6" font-weight="bold" text-anchor="end" fill="#000" stroke="#000" stroke-width="0.25">140</text>
<line x1="81.0" y1="724.0" x2="81.0" y2="727.0" stroke="#999" stroke-width="0.8" />
<line x1="111.86" y1="724.0" x2="111.86" y2="727.0" stroke="#999" stroke-width="0.8" />
<line x1="142.71" y1="724.0" x2="142.71" y2="727.0" stroke="#999" stroke-width="0.8" />
<line x1="173.57" y1="724.0" x2="173.57" y2="727.0" stroke="#999" stroke-width="0.8" />
<line x1="204.43" y1="724.0" x2="204.43" y2="727.0" stroke="#999" stroke-width="0.8" />
<line x1="235.28" y1="724.0" x2="235.28" y2="727.0" stroke="#999" stroke-width="0.8" />
<line x1="266.14" y1="724.0" x2="266.14" y2="727.0" stroke="#999" stroke-width="0.8" />
<line x1="297.0" y1="724.0" x2="297.0" y2="727.0" stroke="#999" stroke-width="0.8" />
<line x1="327.86" y1="724.0" x2="327.86" y2="727.0" stroke="#999" stroke-width="0.8" />
<line x1="358.71" y1="724.0" x2="358.71" y2="727.0" stroke="#999" stroke-width="0.8" />
<line x1="389.57" y1="724.0" x2="389.57" y2="727.0" stroke="#999" stroke-width="0.8" />
<line x1="420.43" y1="724.0" x2="420.43" y2="727.0" stroke="#999" stroke-width="0.8" />
<line x1="451.28" y1="724.0" x2="451.28" y2="727.0" stroke="#999" stroke-width="0.8" />
<line x1="482.14" y1="724.0" x2="482.14" y2="727.0" stroke="#999" stroke-width="0.8" />
<line x1="513.0" y1="724.0" x2="513.0" y2="727.0" stroke="#999" stroke-width="0.8" />
<text x="44.0" y="710.2" font-size="13.2" font-weight="bold" text-anchor="start" fill="#000" stroke="#000" stroke-width="0.35" transform="rotate(-90 44.0 710.2)">% Transduction</text>
<rect x="87.23" y="642.93" width="9.2" height="81.07" fill="#000" stroke="#000" stroke-width="1.2"/>
<rect x="96.43" y="642.93" width="9.2" height="81.07" fill="#d9d9d9" stroke="#000" stroke-width="1.5"/>
<line x1="122.69" y1="697.49" x2="122.69" y2="693.19" stroke="#222" stroke-width="1.3" />
<line x1="120.09" y1="693.19" x2="125.29" y2="693.19" stroke="#222" stroke-width="1.3" />
<line x1="131.89" y1="652.82" x2="131.89" y2="640.5" stroke="#222" stroke-width="1.3" />
<line x1="129.29" y1="640.5" x2="134.49" y2="640.5" stroke="#222" stroke-width="1.3" />
<rect x="118.09" y="697.49" width="9.2" height="26.51" fill="#000" stroke="#000" stroke-width="1.2"/>
<rect x="127.29" y="652.82" width="9.2" height="71.18" fill="#d9d9d9" stroke="#000" stroke-width="1.5"/>
<line x1="153.54" y1="664.9" x2="153.54" y2="651.04" stroke="#222" stroke-width="1.3" />
<line x1="150.94" y1="651.04" x2="156.14" y2="651.04" stroke="#222" stroke-width="1.3" />
<line x1="162.74" y1="637.5" x2="162.74" y2="630.93" stroke="#222" stroke-width="1.3" />
<line x1="160.14" y1="630.93" x2="165.34" y2="630.93" stroke="#222" stroke-width="1.3" />
<rect x="148.94" y="664.90" width="9.2" height="59.10" fill="#000" stroke="#000" stroke-width="1.2"/>
<rect x="158.14" y="637.50" width="9.2" height="86.50" fill="#d9d9d9" stroke="#000" stroke-width="1.5"/>
<line x1="184.4" y1="717.43" x2="184.4" y2="715.97" stroke="#222" stroke-width="1.3" />
<line x1="181.8" y1="715.97" x2="187.0" y2="715.97" stroke="#222" stroke-width="1.3" />
<line x1="193.6" y1="629.47" x2="193.6" y2="619.66" stroke="#222" stroke-width="1.3" />
<line x1="191.0" y1="619.66" x2="196.2" y2="619.66" stroke="#222" stroke-width="1.3" />
<rect x="179.80" y="717.43" width="9.2" height="6.57" fill="#000" stroke="#000" stroke-width="1.2"/>
<rect x="189.00" y="629.47" width="9.2" height="94.53" fill="#d9d9d9" stroke="#000" stroke-width="1.5"/>
<text transform="translate(101.63,749.80) rotate(-45)" font-size="11.6" font-weight="bold" text-anchor="end" stroke="#000" stroke-width="0.1" textLength="5.8" lengthAdjust="spacingAndGlyphs">–</text>
<text transform="translate(130.89,745.00) rotate(-45)" font-size="11.6" font-weight="bold" text-anchor="end" stroke="#000" stroke-width="0.1" textLength="40.8" lengthAdjust="spacingAndGlyphs">a-LDL-R</text>
<text transform="translate(161.74,745.00) rotate(-45)" font-size="11.6" font-weight="bold" text-anchor="end" stroke="#000" stroke-width="0.1" textLength="54.8" lengthAdjust="spacingAndGlyphs">LDL-Rs 0.5</text>
<text transform="translate(192.60,745.00) rotate(-45)" font-size="11.6" font-weight="bold" text-anchor="end" stroke="#000" stroke-width="0.1" textLength="46.1" lengthAdjust="spacingAndGlyphs">LDL-Rs 5</text>
<rect x="241.51" y="642.93" width="9.2" height="81.07" fill="#000" stroke="#000" stroke-width="1.2"/>
<rect x="250.71" y="642.93" width="9.2" height="81.07" fill="#d9d9d9" stroke="#000" stroke-width="1.5"/>
<line x1="276.97" y1="695.22" x2="276.97" y2="689.3" stroke="#222" stroke-width="1.3" />
<line x1="274.37" y1="689.3" x2="279.57" y2="689.3" stroke="#222" stroke-width="1.3" />
<line x1="286.17" y1="653.71" x2="286.17" y2="642.2" stroke="#222" stroke-width="1.3" />
<line x1="283.57" y1="642.2" x2="288.77" y2="642.2" stroke="#222" stroke-width="1.3" />
<rect x="272.37" y="695.22" width="9.2" height="28.78" fill="#000" stroke="#000" stroke-width="1.2"/>
<rect x="281.57" y="653.71" width="9.2" height="70.29" fill="#d9d9d9" stroke="#000" stroke-width="1.5"/>
<line x1="307.83" y1="677.95" x2="307.83" y2="672.28" stroke="#222" stroke-width="1.3" />
<line x1="305.23" y1="672.28" x2="310.43" y2="672.28" stroke="#222" stroke-width="1.3" />
<line x1="317.03" y1="656.06" x2="317.03" y2="648.85" stroke="#222" stroke-width="1.3" />
<line x1="314.43" y1="648.85" x2="319.63" y2="648.85" stroke="#222" stroke-width="1.3" />
<rect x="303.23" y="677.95" width="9.2" height="46.05" fill="#000" stroke="#000" stroke-width="1.2"/>
<rect x="312.43" y="656.06" width="9.2" height="67.94" fill="#d9d9d9" stroke="#000" stroke-width="1.5"/>
<line x1="338.68" y1="712.16" x2="338.68" y2="708.92" stroke="#222" stroke-width="1.3" />
<line x1="336.08" y1="708.92" x2="341.28" y2="708.92" stroke="#222" stroke-width="1.3" />
<line x1="347.88" y1="654.28" x2="347.88" y2="644.55" stroke="#222" stroke-width="1.3" />
<line x1="345.28" y1="644.55" x2="350.48" y2="644.55" stroke="#222" stroke-width="1.3" />
<rect x="334.08" y="712.16" width="9.2" height="11.84" fill="#000" stroke="#000" stroke-width="1.2"/>
<rect x="343.28" y="654.28" width="9.2" height="69.72" fill="#d9d9d9" stroke="#000" stroke-width="1.5"/>
<text transform="translate(255.91,749.80) rotate(-45)" font-size="11.6" font-weight="bold" text-anchor="end" stroke="#000" stroke-width="0.1" textLength="5.8" lengthAdjust="spacingAndGlyphs">–</text>
<text transform="translate(285.17,745.00) rotate(-45)" font-size="11.6" font-weight="bold" text-anchor="end" stroke="#000" stroke-width="0.1" textLength="40.8" lengthAdjust="spacingAndGlyphs">a-LDL-R</text>
<text transform="translate(316.03,745.00) rotate(-45)" font-size="11.6" font-weight="bold" text-anchor="end" stroke="#000" stroke-width="0.1" textLength="54.8" lengthAdjust="spacingAndGlyphs">LDL-Rs 0.5</text>
<text transform="translate(346.88,745.00) rotate(-45)" font-size="11.6" font-weight="bold" text-anchor="end" stroke="#000" stroke-width="0.1" textLength="46.1" lengthAdjust="spacingAndGlyphs">LDL-Rs 5</text>
<rect x="395.80" y="642.93" width="9.2" height="81.07" fill="#000" stroke="#000" stroke-width="1.2"/>
<rect x="405.00" y="642.93" width="9.2" height="81.07" fill="#d9d9d9" stroke="#000" stroke-width="1.5"/>
<line x1="431.26" y1="671.3" x2="431.26" y2="665.79" stroke="#222" stroke-width="1.3" />
<line x1="428.66" y1="665.79" x2="433.86" y2="665.79" stroke="#222" stroke-width="1.3" />
<line x1="440.46" y1="642.93" x2="440.46" y2="639.04" stroke="#222" stroke-width="1.3" />
<line x1="437.86" y1="639.04" x2="443.06" y2="639.04" stroke="#222" stroke-width="1.3" />
<rect x="426.66" y="671.30" width="9.2" height="52.70" fill="#000" stroke="#000" stroke-width="1.2"/>
<rect x="435.86" y="642.93" width="9.2" height="81.07" fill="#d9d9d9" stroke="#000" stroke-width="1.5"/>
<line x1="462.11" y1="718.73" x2="462.11" y2="717.11" stroke="#222" stroke-width="1.3" />
<line x1="459.51" y1="717.11" x2="464.71" y2="717.11" stroke="#222" stroke-width="1.3" />
<line x1="471.31" y1="634.17" x2="471.31" y2="628.34" stroke="#222" stroke-width="1.3" />
<line x1="468.71" y1="628.34" x2="473.91" y2="628.34" stroke="#222" stroke-width="1.3" />
<rect x="457.51" y="718.73" width="9.2" height="5.27" fill="#000" stroke="#000" stroke-width="1.2"/>
<rect x="466.71" y="634.17" width="9.2" height="89.83" fill="#d9d9d9" stroke="#000" stroke-width="1.5"/>
<line x1="502.17" y1="640.66" x2="502.17" y2="630.45" stroke="#222" stroke-width="1.3" />
<line x1="499.57" y1="630.45" x2="504.77" y2="630.45" stroke="#222" stroke-width="1.3" />
<rect x="488.37" y="723.68" width="9.2" height="0.32" fill="#000" stroke="#000" stroke-width="1.2"/>
<rect x="497.57" y="640.66" width="9.2" height="83.34" fill="#d9d9d9" stroke="#000" stroke-width="1.5"/>
<text transform="translate(410.20,749.80) rotate(-45)" font-size="11.6" font-weight="bold" text-anchor="end" stroke="#000" stroke-width="0.1" textLength="5.8" lengthAdjust="spacingAndGlyphs">–</text>
<text transform="translate(439.46,745.00) rotate(-45)" font-size="11.6" font-weight="bold" text-anchor="end" stroke="#000" stroke-width="0.1" textLength="40.8" lengthAdjust="spacingAndGlyphs">a-LDL-R</text>
<text transform="translate(470.31,745.00) rotate(-45)" font-size="11.6" font-weight="bold" text-anchor="end" stroke="#000" stroke-width="0.1" textLength="54.8" lengthAdjust="spacingAndGlyphs">LDL-Rs 0.5</text>
<text transform="translate(501.17,745.00) rotate(-45)" font-size="11.6" font-weight="bold" text-anchor="end" stroke="#000" stroke-width="0.1" textLength="46.1" lengthAdjust="spacingAndGlyphs">LDL-Rs 5</text>
<rect x="81.0" y="610.50" width="432.0" height="113.50" fill="none" stroke="#000" stroke-width="1.3"/>
<line x1="214.6" y1="610.502" x2="214.6" y2="784" stroke="#000" stroke-width="1.2" />
<line x1="371.8" y1="610.502" x2="371.8" y2="784" stroke="#000" stroke-width="1.2" />
<text x="112.7" y="626.8" font-size="12.7" font-weight="bold" text-anchor="start" fill="#000" stroke="#000" stroke-width="0.35" >T cells</text>
<text x="242.3" y="627.6" font-size="13.1" font-weight="bold" text-anchor="start" fill="#000" stroke="#000" stroke-width="0.35" >B cells</text>
<text x="392.3" y="628.2" font-size="13.1" font-weight="bold" text-anchor="start" fill="#000" stroke="#000" stroke-width="0.35" textLength="73.5" lengthAdjust="spacingAndGlyphs">CD34+ cells</text>
<rect x="305.6" y="613.7" width="6.5" height="7.6" fill="#000"/>
<text x="314.4" y="621.3" font-size="10.2" font-weight="bold" text-anchor="start" fill="#000" stroke="none">VSV-G-LV</text>
<rect x="306" y="628" width="5.8" height="6.5" fill="#d9d9d9" stroke="#000" stroke-width="0.8"/>
<text x="314.4" y="634.5" font-size="10.2" font-weight="bold" text-anchor="start" fill="#000" stroke="none">MV-LV</text>
</svg>
</body></html>
